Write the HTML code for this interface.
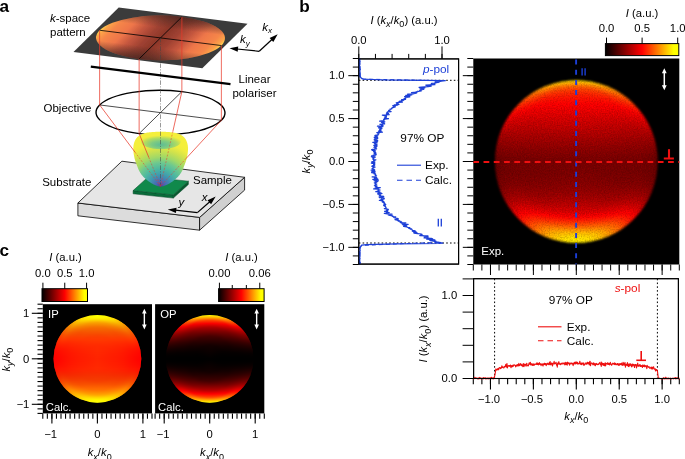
<!DOCTYPE html>
<html lang="en"><head><meta charset="utf-8"><title>Figure</title>
<style>html,body{margin:0;padding:0;background:#fff;}svg{display:block;will-change:transform;}</style></head>
<body>
<svg width="685" height="459" viewBox="0 0 685 459" font-family="Liberation Sans, Arial, Helvetica, sans-serif">
<defs>
<clipPath id="c1"><circle cx="97.40" cy="358.80" r="43.91"/></clipPath>
<linearGradient id="g2"><stop offset="0.000" stop-color="#ffef00"/><stop offset="0.250" stop-color="#fffb00"/><stop offset="0.500" stop-color="#ffff00"/><stop offset="0.750" stop-color="#fffb00"/><stop offset="1.000" stop-color="#ffef00"/></linearGradient>
<linearGradient id="g3"><stop offset="0.000" stop-color="#fff600"/><stop offset="0.250" stop-color="#fffd00"/><stop offset="0.500" stop-color="#ffff00"/><stop offset="0.750" stop-color="#fffd00"/><stop offset="1.000" stop-color="#fff600"/></linearGradient>
<linearGradient id="g4"><stop offset="0.000" stop-color="#ffe900"/><stop offset="0.250" stop-color="#fff900"/><stop offset="0.500" stop-color="#ffff00"/><stop offset="0.750" stop-color="#fff900"/><stop offset="1.000" stop-color="#ffe900"/></linearGradient>
<linearGradient id="g5"><stop offset="0.000" stop-color="#ffdd00"/><stop offset="0.200" stop-color="#fff200"/><stop offset="0.400" stop-color="#fff900"/><stop offset="0.600" stop-color="#fff900"/><stop offset="0.800" stop-color="#fff200"/><stop offset="1.000" stop-color="#ffdd00"/></linearGradient>
<linearGradient id="g6"><stop offset="0.000" stop-color="#ffd200"/><stop offset="0.167" stop-color="#ffe900"/><stop offset="0.333" stop-color="#ffed00"/><stop offset="0.500" stop-color="#ffee00"/><stop offset="0.667" stop-color="#ffed00"/><stop offset="0.833" stop-color="#ffe900"/><stop offset="1.000" stop-color="#ffd200"/></linearGradient>
<linearGradient id="g7"><stop offset="0.000" stop-color="#ffc700"/><stop offset="0.143" stop-color="#ffdf00"/><stop offset="0.286" stop-color="#ffe200"/><stop offset="0.429" stop-color="#ffde00"/><stop offset="0.571" stop-color="#ffde00"/><stop offset="0.714" stop-color="#ffe200"/><stop offset="0.857" stop-color="#ffdf00"/><stop offset="1.000" stop-color="#ffc700"/></linearGradient>
<linearGradient id="g8"><stop offset="0.000" stop-color="#ffbc00"/><stop offset="0.143" stop-color="#ffd600"/><stop offset="0.286" stop-color="#ffd300"/><stop offset="0.429" stop-color="#ffcc00"/><stop offset="0.571" stop-color="#ffcc00"/><stop offset="0.714" stop-color="#ffd300"/><stop offset="0.857" stop-color="#ffd600"/><stop offset="1.000" stop-color="#ffbc00"/></linearGradient>
<linearGradient id="g9"><stop offset="0.000" stop-color="#ffb200"/><stop offset="0.125" stop-color="#ffcb00"/><stop offset="0.250" stop-color="#ffc700"/><stop offset="0.375" stop-color="#ffbc00"/><stop offset="0.500" stop-color="#ffb800"/><stop offset="0.625" stop-color="#ffbc00"/><stop offset="0.750" stop-color="#ffc700"/><stop offset="0.875" stop-color="#ffcb00"/><stop offset="1.000" stop-color="#ffb200"/></linearGradient>
<linearGradient id="g10"><stop offset="0.000" stop-color="#ffa800"/><stop offset="0.125" stop-color="#ffc000"/><stop offset="0.250" stop-color="#ffb800"/><stop offset="0.375" stop-color="#ffab00"/><stop offset="0.500" stop-color="#ffa600"/><stop offset="0.625" stop-color="#ffab00"/><stop offset="0.750" stop-color="#ffb800"/><stop offset="0.875" stop-color="#ffc000"/><stop offset="1.000" stop-color="#ffa800"/></linearGradient>
<linearGradient id="g11"><stop offset="0.000" stop-color="#ff9e00"/><stop offset="0.111" stop-color="#ffb600"/><stop offset="0.222" stop-color="#ffad00"/><stop offset="0.333" stop-color="#ff9e00"/><stop offset="0.444" stop-color="#ff9b00"/><stop offset="0.556" stop-color="#ff9b00"/><stop offset="0.667" stop-color="#ff9e00"/><stop offset="0.778" stop-color="#ffad00"/><stop offset="0.889" stop-color="#ffb600"/><stop offset="1.000" stop-color="#ff9e00"/></linearGradient>
<linearGradient id="g12"><stop offset="0.000" stop-color="#ff9500"/><stop offset="0.111" stop-color="#ffac00"/><stop offset="0.222" stop-color="#ffa000"/><stop offset="0.333" stop-color="#ff9400"/><stop offset="0.444" stop-color="#ff9000"/><stop offset="0.556" stop-color="#ff9000"/><stop offset="0.667" stop-color="#ff9400"/><stop offset="0.778" stop-color="#ffa000"/><stop offset="0.889" stop-color="#ffac00"/><stop offset="1.000" stop-color="#ff9500"/></linearGradient>
<linearGradient id="g13"><stop offset="0.000" stop-color="#ff8c00"/><stop offset="0.100" stop-color="#ffa200"/><stop offset="0.200" stop-color="#ff9700"/><stop offset="0.300" stop-color="#ff8b00"/><stop offset="0.400" stop-color="#ff8600"/><stop offset="0.500" stop-color="#ff8400"/><stop offset="0.600" stop-color="#ff8600"/><stop offset="0.700" stop-color="#ff8b00"/><stop offset="0.800" stop-color="#ff9700"/><stop offset="0.900" stop-color="#ffa200"/><stop offset="1.000" stop-color="#ff8c00"/></linearGradient>
<linearGradient id="g14"><stop offset="0.000" stop-color="#ff8300"/><stop offset="0.100" stop-color="#ff9900"/><stop offset="0.200" stop-color="#ff8b00"/><stop offset="0.300" stop-color="#ff8100"/><stop offset="0.400" stop-color="#ff7b00"/><stop offset="0.500" stop-color="#ff7900"/><stop offset="0.600" stop-color="#ff7b00"/><stop offset="0.700" stop-color="#ff8100"/><stop offset="0.800" stop-color="#ff8b00"/><stop offset="0.900" stop-color="#ff9900"/><stop offset="1.000" stop-color="#ff8300"/></linearGradient>
<linearGradient id="g15"><stop offset="0.000" stop-color="#ff7b00"/><stop offset="0.100" stop-color="#ff9000"/><stop offset="0.200" stop-color="#ff8000"/><stop offset="0.300" stop-color="#ff7800"/><stop offset="0.400" stop-color="#ff7100"/><stop offset="0.500" stop-color="#ff7100"/><stop offset="0.600" stop-color="#ff7100"/><stop offset="0.700" stop-color="#ff7800"/><stop offset="0.800" stop-color="#ff8000"/><stop offset="0.900" stop-color="#ff9000"/><stop offset="1.000" stop-color="#ff7b00"/></linearGradient>
<linearGradient id="g16"><stop offset="0.000" stop-color="#ff7300"/><stop offset="0.091" stop-color="#ff8600"/><stop offset="0.182" stop-color="#ff7900"/><stop offset="0.273" stop-color="#ff7100"/><stop offset="0.364" stop-color="#ff6b00"/><stop offset="0.455" stop-color="#ff6b00"/><stop offset="0.545" stop-color="#ff6b00"/><stop offset="0.636" stop-color="#ff6b00"/><stop offset="0.727" stop-color="#ff7100"/><stop offset="0.818" stop-color="#ff7900"/><stop offset="0.909" stop-color="#ff8600"/><stop offset="1.000" stop-color="#ff7300"/></linearGradient>
<linearGradient id="g17"><stop offset="0.000" stop-color="#ff6b00"/><stop offset="0.091" stop-color="#ff7e00"/><stop offset="0.182" stop-color="#ff6f00"/><stop offset="0.273" stop-color="#ff6800"/><stop offset="0.364" stop-color="#ff6500"/><stop offset="0.455" stop-color="#ff6600"/><stop offset="0.545" stop-color="#ff6600"/><stop offset="0.636" stop-color="#ff6500"/><stop offset="0.727" stop-color="#ff6800"/><stop offset="0.818" stop-color="#ff6f00"/><stop offset="0.909" stop-color="#ff7e00"/><stop offset="1.000" stop-color="#ff6b00"/></linearGradient>
<linearGradient id="g18"><stop offset="0.000" stop-color="#ff6300"/><stop offset="0.091" stop-color="#ff7600"/><stop offset="0.182" stop-color="#ff6800"/><stop offset="0.273" stop-color="#ff6000"/><stop offset="0.364" stop-color="#ff6000"/><stop offset="0.455" stop-color="#ff6000"/><stop offset="0.545" stop-color="#ff6000"/><stop offset="0.636" stop-color="#ff6000"/><stop offset="0.727" stop-color="#ff6000"/><stop offset="0.818" stop-color="#ff6800"/><stop offset="0.909" stop-color="#ff7600"/><stop offset="1.000" stop-color="#ff6300"/></linearGradient>
<linearGradient id="g19"><stop offset="0.000" stop-color="#ff5c00"/><stop offset="0.091" stop-color="#ff6e00"/><stop offset="0.182" stop-color="#ff6000"/><stop offset="0.273" stop-color="#ff5900"/><stop offset="0.364" stop-color="#ff5b00"/><stop offset="0.455" stop-color="#ff5a00"/><stop offset="0.545" stop-color="#ff5a00"/><stop offset="0.636" stop-color="#ff5b00"/><stop offset="0.727" stop-color="#ff5900"/><stop offset="0.818" stop-color="#ff6000"/><stop offset="0.909" stop-color="#ff6e00"/><stop offset="1.000" stop-color="#ff5c00"/></linearGradient>
<linearGradient id="g20"><stop offset="0.000" stop-color="#ff5500"/><stop offset="0.083" stop-color="#ff6600"/><stop offset="0.167" stop-color="#ff5a00"/><stop offset="0.250" stop-color="#ff5300"/><stop offset="0.333" stop-color="#ff5500"/><stop offset="0.417" stop-color="#ff5500"/><stop offset="0.500" stop-color="#ff5500"/><stop offset="0.583" stop-color="#ff5500"/><stop offset="0.667" stop-color="#ff5500"/><stop offset="0.750" stop-color="#ff5300"/><stop offset="0.833" stop-color="#ff5a00"/><stop offset="0.917" stop-color="#ff6600"/><stop offset="1.000" stop-color="#ff5500"/></linearGradient>
<linearGradient id="g21"><stop offset="0.000" stop-color="#ff4f00"/><stop offset="0.083" stop-color="#ff5f00"/><stop offset="0.167" stop-color="#ff5400"/><stop offset="0.250" stop-color="#ff4f00"/><stop offset="0.333" stop-color="#ff5000"/><stop offset="0.417" stop-color="#ff5000"/><stop offset="0.500" stop-color="#ff4f00"/><stop offset="0.583" stop-color="#ff5000"/><stop offset="0.667" stop-color="#ff5000"/><stop offset="0.750" stop-color="#ff4f00"/><stop offset="0.833" stop-color="#ff5400"/><stop offset="0.917" stop-color="#ff5f00"/><stop offset="1.000" stop-color="#ff4f00"/></linearGradient>
<linearGradient id="g22"><stop offset="0.000" stop-color="#ff4800"/><stop offset="0.083" stop-color="#ff5700"/><stop offset="0.167" stop-color="#ff4e00"/><stop offset="0.250" stop-color="#ff4a00"/><stop offset="0.333" stop-color="#ff4c00"/><stop offset="0.417" stop-color="#ff4a00"/><stop offset="0.500" stop-color="#ff4900"/><stop offset="0.583" stop-color="#ff4a00"/><stop offset="0.667" stop-color="#ff4c00"/><stop offset="0.750" stop-color="#ff4a00"/><stop offset="0.833" stop-color="#ff4e00"/><stop offset="0.917" stop-color="#ff5700"/><stop offset="1.000" stop-color="#ff4800"/></linearGradient>
<linearGradient id="g23"><stop offset="0.000" stop-color="#ff4200"/><stop offset="0.083" stop-color="#ff5000"/><stop offset="0.167" stop-color="#ff4800"/><stop offset="0.250" stop-color="#ff4600"/><stop offset="0.333" stop-color="#ff4700"/><stop offset="0.417" stop-color="#ff4500"/><stop offset="0.500" stop-color="#ff4300"/><stop offset="0.583" stop-color="#ff4500"/><stop offset="0.667" stop-color="#ff4700"/><stop offset="0.750" stop-color="#ff4600"/><stop offset="0.833" stop-color="#ff4800"/><stop offset="0.917" stop-color="#ff5000"/><stop offset="1.000" stop-color="#ff4200"/></linearGradient>
<linearGradient id="g24"><stop offset="0.000" stop-color="#ff3c00"/><stop offset="0.077" stop-color="#ff4a00"/><stop offset="0.154" stop-color="#ff4300"/><stop offset="0.231" stop-color="#ff4100"/><stop offset="0.308" stop-color="#ff4300"/><stop offset="0.385" stop-color="#ff4100"/><stop offset="0.462" stop-color="#ff4000"/><stop offset="0.538" stop-color="#ff4000"/><stop offset="0.615" stop-color="#ff4100"/><stop offset="0.692" stop-color="#ff4300"/><stop offset="0.769" stop-color="#ff4100"/><stop offset="0.846" stop-color="#ff4300"/><stop offset="0.923" stop-color="#ff4a00"/><stop offset="1.000" stop-color="#ff3c00"/></linearGradient>
<linearGradient id="g25"><stop offset="0.000" stop-color="#ff3700"/><stop offset="0.077" stop-color="#ff4400"/><stop offset="0.154" stop-color="#ff3e00"/><stop offset="0.231" stop-color="#ff3d00"/><stop offset="0.308" stop-color="#ff3e00"/><stop offset="0.385" stop-color="#ff3c00"/><stop offset="0.462" stop-color="#ff3d00"/><stop offset="0.538" stop-color="#ff3d00"/><stop offset="0.615" stop-color="#ff3c00"/><stop offset="0.692" stop-color="#ff3e00"/><stop offset="0.769" stop-color="#ff3d00"/><stop offset="0.846" stop-color="#ff3e00"/><stop offset="0.923" stop-color="#ff4400"/><stop offset="1.000" stop-color="#ff3700"/></linearGradient>
<linearGradient id="g26"><stop offset="0.000" stop-color="#ff3200"/><stop offset="0.077" stop-color="#ff3e00"/><stop offset="0.154" stop-color="#ff3900"/><stop offset="0.231" stop-color="#ff3900"/><stop offset="0.308" stop-color="#ff3a00"/><stop offset="0.385" stop-color="#ff3900"/><stop offset="0.462" stop-color="#ff3b00"/><stop offset="0.538" stop-color="#ff3b00"/><stop offset="0.615" stop-color="#ff3900"/><stop offset="0.692" stop-color="#ff3a00"/><stop offset="0.769" stop-color="#ff3900"/><stop offset="0.846" stop-color="#ff3900"/><stop offset="0.923" stop-color="#ff3e00"/><stop offset="1.000" stop-color="#ff3200"/></linearGradient>
<linearGradient id="g27"><stop offset="0.000" stop-color="#ff2d00"/><stop offset="0.077" stop-color="#ff3800"/><stop offset="0.154" stop-color="#ff3500"/><stop offset="0.231" stop-color="#ff3600"/><stop offset="0.308" stop-color="#ff3700"/><stop offset="0.385" stop-color="#ff3700"/><stop offset="0.462" stop-color="#ff3800"/><stop offset="0.538" stop-color="#ff3800"/><stop offset="0.615" stop-color="#ff3700"/><stop offset="0.692" stop-color="#ff3700"/><stop offset="0.769" stop-color="#ff3600"/><stop offset="0.846" stop-color="#ff3500"/><stop offset="0.923" stop-color="#ff3800"/><stop offset="1.000" stop-color="#ff2d00"/></linearGradient>
<linearGradient id="g28"><stop offset="0.000" stop-color="#ff2800"/><stop offset="0.077" stop-color="#ff3300"/><stop offset="0.154" stop-color="#ff3000"/><stop offset="0.231" stop-color="#ff3200"/><stop offset="0.308" stop-color="#ff3300"/><stop offset="0.385" stop-color="#ff3500"/><stop offset="0.462" stop-color="#ff3600"/><stop offset="0.538" stop-color="#ff3600"/><stop offset="0.615" stop-color="#ff3500"/><stop offset="0.692" stop-color="#ff3300"/><stop offset="0.769" stop-color="#ff3200"/><stop offset="0.846" stop-color="#ff3000"/><stop offset="0.923" stop-color="#ff3300"/><stop offset="1.000" stop-color="#ff2800"/></linearGradient>
<linearGradient id="g29"><stop offset="0.000" stop-color="#ff2300"/><stop offset="0.077" stop-color="#ff2e00"/><stop offset="0.154" stop-color="#ff2c00"/><stop offset="0.231" stop-color="#ff2f00"/><stop offset="0.308" stop-color="#ff3000"/><stop offset="0.385" stop-color="#ff3200"/><stop offset="0.462" stop-color="#ff3300"/><stop offset="0.538" stop-color="#ff3300"/><stop offset="0.615" stop-color="#ff3200"/><stop offset="0.692" stop-color="#ff3000"/><stop offset="0.769" stop-color="#ff2f00"/><stop offset="0.846" stop-color="#ff2c00"/><stop offset="0.923" stop-color="#ff2e00"/><stop offset="1.000" stop-color="#ff2300"/></linearGradient>
<linearGradient id="g30"><stop offset="0.000" stop-color="#ff1f00"/><stop offset="0.077" stop-color="#ff2900"/><stop offset="0.154" stop-color="#ff2900"/><stop offset="0.231" stop-color="#ff2c00"/><stop offset="0.308" stop-color="#ff2d00"/><stop offset="0.385" stop-color="#ff3000"/><stop offset="0.462" stop-color="#ff3100"/><stop offset="0.538" stop-color="#ff3100"/><stop offset="0.615" stop-color="#ff3000"/><stop offset="0.692" stop-color="#ff2d00"/><stop offset="0.769" stop-color="#ff2c00"/><stop offset="0.846" stop-color="#ff2900"/><stop offset="0.923" stop-color="#ff2900"/><stop offset="1.000" stop-color="#ff1f00"/></linearGradient>
<linearGradient id="g31"><stop offset="0.000" stop-color="#ff1b00"/><stop offset="0.071" stop-color="#ff2500"/><stop offset="0.143" stop-color="#ff2500"/><stop offset="0.214" stop-color="#ff2800"/><stop offset="0.286" stop-color="#ff2b00"/><stop offset="0.357" stop-color="#ff2d00"/><stop offset="0.429" stop-color="#ff2e00"/><stop offset="0.500" stop-color="#ff2e00"/><stop offset="0.571" stop-color="#ff2e00"/><stop offset="0.643" stop-color="#ff2d00"/><stop offset="0.714" stop-color="#ff2b00"/><stop offset="0.786" stop-color="#ff2800"/><stop offset="0.857" stop-color="#ff2500"/><stop offset="0.929" stop-color="#ff2500"/><stop offset="1.000" stop-color="#ff1b00"/></linearGradient>
<linearGradient id="g32"><stop offset="0.000" stop-color="#ff1800"/><stop offset="0.071" stop-color="#ff2100"/><stop offset="0.143" stop-color="#ff2200"/><stop offset="0.214" stop-color="#ff2600"/><stop offset="0.286" stop-color="#ff2800"/><stop offset="0.357" stop-color="#ff2b00"/><stop offset="0.429" stop-color="#ff2c00"/><stop offset="0.500" stop-color="#ff2c00"/><stop offset="0.571" stop-color="#ff2c00"/><stop offset="0.643" stop-color="#ff2b00"/><stop offset="0.714" stop-color="#ff2800"/><stop offset="0.786" stop-color="#ff2600"/><stop offset="0.857" stop-color="#ff2200"/><stop offset="0.929" stop-color="#ff2100"/><stop offset="1.000" stop-color="#ff1800"/></linearGradient>
<linearGradient id="g33"><stop offset="0.000" stop-color="#ff1400"/><stop offset="0.071" stop-color="#ff1d00"/><stop offset="0.143" stop-color="#ff1f00"/><stop offset="0.214" stop-color="#ff2400"/><stop offset="0.286" stop-color="#ff2600"/><stop offset="0.357" stop-color="#ff2900"/><stop offset="0.429" stop-color="#ff2a00"/><stop offset="0.500" stop-color="#ff2b00"/><stop offset="0.571" stop-color="#ff2a00"/><stop offset="0.643" stop-color="#ff2900"/><stop offset="0.714" stop-color="#ff2600"/><stop offset="0.786" stop-color="#ff2400"/><stop offset="0.857" stop-color="#ff1f00"/><stop offset="0.929" stop-color="#ff1d00"/><stop offset="1.000" stop-color="#ff1400"/></linearGradient>
<linearGradient id="g34"><stop offset="0.000" stop-color="#ff1100"/><stop offset="0.071" stop-color="#ff1900"/><stop offset="0.143" stop-color="#ff1d00"/><stop offset="0.214" stop-color="#ff2100"/><stop offset="0.286" stop-color="#ff2500"/><stop offset="0.357" stop-color="#ff2700"/><stop offset="0.429" stop-color="#ff2800"/><stop offset="0.500" stop-color="#ff2a00"/><stop offset="0.571" stop-color="#ff2800"/><stop offset="0.643" stop-color="#ff2700"/><stop offset="0.714" stop-color="#ff2500"/><stop offset="0.786" stop-color="#ff2100"/><stop offset="0.857" stop-color="#ff1d00"/><stop offset="0.929" stop-color="#ff1900"/><stop offset="1.000" stop-color="#ff1100"/></linearGradient>
<linearGradient id="g35"><stop offset="0.000" stop-color="#ff0e00"/><stop offset="0.071" stop-color="#ff1600"/><stop offset="0.143" stop-color="#ff1a00"/><stop offset="0.214" stop-color="#ff1f00"/><stop offset="0.286" stop-color="#ff2300"/><stop offset="0.357" stop-color="#ff2600"/><stop offset="0.429" stop-color="#ff2700"/><stop offset="0.500" stop-color="#ff2a00"/><stop offset="0.571" stop-color="#ff2700"/><stop offset="0.643" stop-color="#ff2600"/><stop offset="0.714" stop-color="#ff2300"/><stop offset="0.786" stop-color="#ff1f00"/><stop offset="0.857" stop-color="#ff1a00"/><stop offset="0.929" stop-color="#ff1600"/><stop offset="1.000" stop-color="#ff0e00"/></linearGradient>
<linearGradient id="g36"><stop offset="0.000" stop-color="#ff0c00"/><stop offset="0.071" stop-color="#ff1400"/><stop offset="0.143" stop-color="#ff1800"/><stop offset="0.214" stop-color="#ff1e00"/><stop offset="0.286" stop-color="#ff2200"/><stop offset="0.357" stop-color="#ff2400"/><stop offset="0.429" stop-color="#ff2700"/><stop offset="0.500" stop-color="#ff2900"/><stop offset="0.571" stop-color="#ff2700"/><stop offset="0.643" stop-color="#ff2400"/><stop offset="0.714" stop-color="#ff2200"/><stop offset="0.786" stop-color="#ff1e00"/><stop offset="0.857" stop-color="#ff1800"/><stop offset="0.929" stop-color="#ff1400"/><stop offset="1.000" stop-color="#ff0c00"/></linearGradient>
<linearGradient id="g37"><stop offset="0.000" stop-color="#ff0900"/><stop offset="0.071" stop-color="#ff1100"/><stop offset="0.143" stop-color="#ff1600"/><stop offset="0.214" stop-color="#ff1c00"/><stop offset="0.286" stop-color="#ff2000"/><stop offset="0.357" stop-color="#ff2300"/><stop offset="0.429" stop-color="#ff2600"/><stop offset="0.500" stop-color="#ff2900"/><stop offset="0.571" stop-color="#ff2600"/><stop offset="0.643" stop-color="#ff2300"/><stop offset="0.714" stop-color="#ff2000"/><stop offset="0.786" stop-color="#ff1c00"/><stop offset="0.857" stop-color="#ff1600"/><stop offset="0.929" stop-color="#ff1100"/><stop offset="1.000" stop-color="#ff0900"/></linearGradient>
<linearGradient id="g38"><stop offset="0.000" stop-color="#ff0700"/><stop offset="0.071" stop-color="#ff0f00"/><stop offset="0.143" stop-color="#ff1400"/><stop offset="0.214" stop-color="#ff1b00"/><stop offset="0.286" stop-color="#ff1f00"/><stop offset="0.357" stop-color="#ff2200"/><stop offset="0.429" stop-color="#ff2500"/><stop offset="0.500" stop-color="#ff2800"/><stop offset="0.571" stop-color="#ff2500"/><stop offset="0.643" stop-color="#ff2200"/><stop offset="0.714" stop-color="#ff1f00"/><stop offset="0.786" stop-color="#ff1b00"/><stop offset="0.857" stop-color="#ff1400"/><stop offset="0.929" stop-color="#ff0f00"/><stop offset="1.000" stop-color="#ff0700"/></linearGradient>
<linearGradient id="g39"><stop offset="0.000" stop-color="#ff0500"/><stop offset="0.071" stop-color="#ff0d00"/><stop offset="0.143" stop-color="#ff1300"/><stop offset="0.214" stop-color="#ff1a00"/><stop offset="0.286" stop-color="#ff1e00"/><stop offset="0.357" stop-color="#ff2100"/><stop offset="0.429" stop-color="#ff2400"/><stop offset="0.500" stop-color="#ff2700"/><stop offset="0.571" stop-color="#ff2400"/><stop offset="0.643" stop-color="#ff2100"/><stop offset="0.714" stop-color="#ff1e00"/><stop offset="0.786" stop-color="#ff1a00"/><stop offset="0.857" stop-color="#ff1300"/><stop offset="0.929" stop-color="#ff0d00"/><stop offset="1.000" stop-color="#ff0500"/></linearGradient>
<linearGradient id="g40"><stop offset="0.000" stop-color="#ff0400"/><stop offset="0.071" stop-color="#ff0b00"/><stop offset="0.143" stop-color="#ff1200"/><stop offset="0.214" stop-color="#ff1800"/><stop offset="0.286" stop-color="#ff1d00"/><stop offset="0.357" stop-color="#ff2000"/><stop offset="0.429" stop-color="#ff2400"/><stop offset="0.500" stop-color="#ff2700"/><stop offset="0.571" stop-color="#ff2400"/><stop offset="0.643" stop-color="#ff2000"/><stop offset="0.714" stop-color="#ff1d00"/><stop offset="0.786" stop-color="#ff1800"/><stop offset="0.857" stop-color="#ff1200"/><stop offset="0.929" stop-color="#ff0b00"/><stop offset="1.000" stop-color="#ff0400"/></linearGradient>
<linearGradient id="g41"><stop offset="0.000" stop-color="#ff0300"/><stop offset="0.071" stop-color="#ff0a00"/><stop offset="0.143" stop-color="#ff1100"/><stop offset="0.214" stop-color="#ff1800"/><stop offset="0.286" stop-color="#ff1d00"/><stop offset="0.357" stop-color="#ff1f00"/><stop offset="0.429" stop-color="#ff2300"/><stop offset="0.500" stop-color="#ff2600"/><stop offset="0.571" stop-color="#ff2300"/><stop offset="0.643" stop-color="#ff1f00"/><stop offset="0.714" stop-color="#ff1d00"/><stop offset="0.786" stop-color="#ff1800"/><stop offset="0.857" stop-color="#ff1100"/><stop offset="0.929" stop-color="#ff0a00"/><stop offset="1.000" stop-color="#ff0300"/></linearGradient>
<linearGradient id="g42"><stop offset="0.000" stop-color="#ff0200"/><stop offset="0.071" stop-color="#ff0900"/><stop offset="0.143" stop-color="#ff1000"/><stop offset="0.214" stop-color="#ff1700"/><stop offset="0.286" stop-color="#ff1c00"/><stop offset="0.357" stop-color="#ff1f00"/><stop offset="0.429" stop-color="#ff2200"/><stop offset="0.500" stop-color="#ff2600"/><stop offset="0.571" stop-color="#ff2200"/><stop offset="0.643" stop-color="#ff1f00"/><stop offset="0.714" stop-color="#ff1c00"/><stop offset="0.786" stop-color="#ff1700"/><stop offset="0.857" stop-color="#ff1000"/><stop offset="0.929" stop-color="#ff0900"/><stop offset="1.000" stop-color="#ff0200"/></linearGradient>
<linearGradient id="g43"><stop offset="0.000" stop-color="#ff0100"/><stop offset="0.071" stop-color="#ff0800"/><stop offset="0.143" stop-color="#ff0f00"/><stop offset="0.214" stop-color="#ff1700"/><stop offset="0.286" stop-color="#ff1b00"/><stop offset="0.357" stop-color="#ff1e00"/><stop offset="0.429" stop-color="#ff2200"/><stop offset="0.500" stop-color="#ff2500"/><stop offset="0.571" stop-color="#ff2200"/><stop offset="0.643" stop-color="#ff1e00"/><stop offset="0.714" stop-color="#ff1b00"/><stop offset="0.786" stop-color="#ff1700"/><stop offset="0.857" stop-color="#ff0f00"/><stop offset="0.929" stop-color="#ff0800"/><stop offset="1.000" stop-color="#ff0100"/></linearGradient>
<linearGradient id="g44"><stop offset="0.000" stop-color="#ff0000"/><stop offset="0.071" stop-color="#ff0700"/><stop offset="0.143" stop-color="#ff0f00"/><stop offset="0.214" stop-color="#ff1600"/><stop offset="0.286" stop-color="#ff1b00"/><stop offset="0.357" stop-color="#ff1e00"/><stop offset="0.429" stop-color="#ff2100"/><stop offset="0.500" stop-color="#ff2500"/><stop offset="0.571" stop-color="#ff2100"/><stop offset="0.643" stop-color="#ff1e00"/><stop offset="0.714" stop-color="#ff1b00"/><stop offset="0.786" stop-color="#ff1600"/><stop offset="0.857" stop-color="#ff0f00"/><stop offset="0.929" stop-color="#ff0700"/><stop offset="1.000" stop-color="#ff0000"/></linearGradient>
<linearGradient id="g45"><stop offset="0.000" stop-color="#ff0000"/><stop offset="0.071" stop-color="#ff0700"/><stop offset="0.143" stop-color="#ff0f00"/><stop offset="0.214" stop-color="#ff1600"/><stop offset="0.286" stop-color="#ff1b00"/><stop offset="0.357" stop-color="#ff1e00"/><stop offset="0.429" stop-color="#ff2100"/><stop offset="0.500" stop-color="#ff2400"/><stop offset="0.571" stop-color="#ff2100"/><stop offset="0.643" stop-color="#ff1e00"/><stop offset="0.714" stop-color="#ff1b00"/><stop offset="0.786" stop-color="#ff1600"/><stop offset="0.857" stop-color="#ff0f00"/><stop offset="0.929" stop-color="#ff0700"/><stop offset="1.000" stop-color="#ff0000"/></linearGradient>
<linearGradient id="g46"><stop offset="0.000" stop-color="#ff0000"/><stop offset="0.071" stop-color="#ff0700"/><stop offset="0.143" stop-color="#ff0f00"/><stop offset="0.214" stop-color="#ff1600"/><stop offset="0.286" stop-color="#ff1b00"/><stop offset="0.357" stop-color="#ff1e00"/><stop offset="0.429" stop-color="#ff2100"/><stop offset="0.500" stop-color="#ff2400"/><stop offset="0.571" stop-color="#ff2100"/><stop offset="0.643" stop-color="#ff1e00"/><stop offset="0.714" stop-color="#ff1b00"/><stop offset="0.786" stop-color="#ff1600"/><stop offset="0.857" stop-color="#ff0f00"/><stop offset="0.929" stop-color="#ff0700"/><stop offset="1.000" stop-color="#ff0000"/></linearGradient>
<linearGradient id="g47"><stop offset="0.000" stop-color="#ff0000"/><stop offset="0.071" stop-color="#ff0700"/><stop offset="0.143" stop-color="#ff0f00"/><stop offset="0.214" stop-color="#ff1600"/><stop offset="0.286" stop-color="#ff1b00"/><stop offset="0.357" stop-color="#ff1e00"/><stop offset="0.429" stop-color="#ff2100"/><stop offset="0.500" stop-color="#ff2500"/><stop offset="0.571" stop-color="#ff2100"/><stop offset="0.643" stop-color="#ff1e00"/><stop offset="0.714" stop-color="#ff1b00"/><stop offset="0.786" stop-color="#ff1600"/><stop offset="0.857" stop-color="#ff0f00"/><stop offset="0.929" stop-color="#ff0700"/><stop offset="1.000" stop-color="#ff0000"/></linearGradient>
<linearGradient id="g48"><stop offset="0.000" stop-color="#ff0100"/><stop offset="0.071" stop-color="#ff0800"/><stop offset="0.143" stop-color="#ff0f00"/><stop offset="0.214" stop-color="#ff1700"/><stop offset="0.286" stop-color="#ff1b00"/><stop offset="0.357" stop-color="#ff1e00"/><stop offset="0.429" stop-color="#ff2200"/><stop offset="0.500" stop-color="#ff2500"/><stop offset="0.571" stop-color="#ff2200"/><stop offset="0.643" stop-color="#ff1e00"/><stop offset="0.714" stop-color="#ff1b00"/><stop offset="0.786" stop-color="#ff1700"/><stop offset="0.857" stop-color="#ff0f00"/><stop offset="0.929" stop-color="#ff0800"/><stop offset="1.000" stop-color="#ff0100"/></linearGradient>
<linearGradient id="g49"><stop offset="0.000" stop-color="#ff0200"/><stop offset="0.071" stop-color="#ff0900"/><stop offset="0.143" stop-color="#ff1000"/><stop offset="0.214" stop-color="#ff1700"/><stop offset="0.286" stop-color="#ff1c00"/><stop offset="0.357" stop-color="#ff1f00"/><stop offset="0.429" stop-color="#ff2200"/><stop offset="0.500" stop-color="#ff2600"/><stop offset="0.571" stop-color="#ff2200"/><stop offset="0.643" stop-color="#ff1f00"/><stop offset="0.714" stop-color="#ff1c00"/><stop offset="0.786" stop-color="#ff1700"/><stop offset="0.857" stop-color="#ff1000"/><stop offset="0.929" stop-color="#ff0900"/><stop offset="1.000" stop-color="#ff0200"/></linearGradient>
<linearGradient id="g50"><stop offset="0.000" stop-color="#ff0300"/><stop offset="0.071" stop-color="#ff0a00"/><stop offset="0.143" stop-color="#ff1100"/><stop offset="0.214" stop-color="#ff1800"/><stop offset="0.286" stop-color="#ff1d00"/><stop offset="0.357" stop-color="#ff1f00"/><stop offset="0.429" stop-color="#ff2300"/><stop offset="0.500" stop-color="#ff2600"/><stop offset="0.571" stop-color="#ff2300"/><stop offset="0.643" stop-color="#ff1f00"/><stop offset="0.714" stop-color="#ff1d00"/><stop offset="0.786" stop-color="#ff1800"/><stop offset="0.857" stop-color="#ff1100"/><stop offset="0.929" stop-color="#ff0a00"/><stop offset="1.000" stop-color="#ff0300"/></linearGradient>
<linearGradient id="g51"><stop offset="0.000" stop-color="#ff0400"/><stop offset="0.071" stop-color="#ff0b00"/><stop offset="0.143" stop-color="#ff1200"/><stop offset="0.214" stop-color="#ff1800"/><stop offset="0.286" stop-color="#ff1d00"/><stop offset="0.357" stop-color="#ff2000"/><stop offset="0.429" stop-color="#ff2400"/><stop offset="0.500" stop-color="#ff2700"/><stop offset="0.571" stop-color="#ff2400"/><stop offset="0.643" stop-color="#ff2000"/><stop offset="0.714" stop-color="#ff1d00"/><stop offset="0.786" stop-color="#ff1800"/><stop offset="0.857" stop-color="#ff1200"/><stop offset="0.929" stop-color="#ff0b00"/><stop offset="1.000" stop-color="#ff0400"/></linearGradient>
<linearGradient id="g52"><stop offset="0.000" stop-color="#ff0500"/><stop offset="0.071" stop-color="#ff0d00"/><stop offset="0.143" stop-color="#ff1300"/><stop offset="0.214" stop-color="#ff1a00"/><stop offset="0.286" stop-color="#ff1e00"/><stop offset="0.357" stop-color="#ff2100"/><stop offset="0.429" stop-color="#ff2400"/><stop offset="0.500" stop-color="#ff2700"/><stop offset="0.571" stop-color="#ff2400"/><stop offset="0.643" stop-color="#ff2100"/><stop offset="0.714" stop-color="#ff1e00"/><stop offset="0.786" stop-color="#ff1a00"/><stop offset="0.857" stop-color="#ff1300"/><stop offset="0.929" stop-color="#ff0d00"/><stop offset="1.000" stop-color="#ff0500"/></linearGradient>
<linearGradient id="g53"><stop offset="0.000" stop-color="#ff0700"/><stop offset="0.071" stop-color="#ff0f00"/><stop offset="0.143" stop-color="#ff1400"/><stop offset="0.214" stop-color="#ff1b00"/><stop offset="0.286" stop-color="#ff1f00"/><stop offset="0.357" stop-color="#ff2200"/><stop offset="0.429" stop-color="#ff2500"/><stop offset="0.500" stop-color="#ff2800"/><stop offset="0.571" stop-color="#ff2500"/><stop offset="0.643" stop-color="#ff2200"/><stop offset="0.714" stop-color="#ff1f00"/><stop offset="0.786" stop-color="#ff1b00"/><stop offset="0.857" stop-color="#ff1400"/><stop offset="0.929" stop-color="#ff0f00"/><stop offset="1.000" stop-color="#ff0700"/></linearGradient>
<linearGradient id="g54"><stop offset="0.000" stop-color="#ff0900"/><stop offset="0.071" stop-color="#ff1100"/><stop offset="0.143" stop-color="#ff1600"/><stop offset="0.214" stop-color="#ff1c00"/><stop offset="0.286" stop-color="#ff2000"/><stop offset="0.357" stop-color="#ff2300"/><stop offset="0.429" stop-color="#ff2600"/><stop offset="0.500" stop-color="#ff2900"/><stop offset="0.571" stop-color="#ff2600"/><stop offset="0.643" stop-color="#ff2300"/><stop offset="0.714" stop-color="#ff2000"/><stop offset="0.786" stop-color="#ff1c00"/><stop offset="0.857" stop-color="#ff1600"/><stop offset="0.929" stop-color="#ff1100"/><stop offset="1.000" stop-color="#ff0900"/></linearGradient>
<linearGradient id="g55"><stop offset="0.000" stop-color="#ff0c00"/><stop offset="0.071" stop-color="#ff1400"/><stop offset="0.143" stop-color="#ff1800"/><stop offset="0.214" stop-color="#ff1e00"/><stop offset="0.286" stop-color="#ff2200"/><stop offset="0.357" stop-color="#ff2400"/><stop offset="0.429" stop-color="#ff2700"/><stop offset="0.500" stop-color="#ff2900"/><stop offset="0.571" stop-color="#ff2700"/><stop offset="0.643" stop-color="#ff2400"/><stop offset="0.714" stop-color="#ff2200"/><stop offset="0.786" stop-color="#ff1e00"/><stop offset="0.857" stop-color="#ff1800"/><stop offset="0.929" stop-color="#ff1400"/><stop offset="1.000" stop-color="#ff0c00"/></linearGradient>
<linearGradient id="g56"><stop offset="0.000" stop-color="#ff0e00"/><stop offset="0.071" stop-color="#ff1600"/><stop offset="0.143" stop-color="#ff1a00"/><stop offset="0.214" stop-color="#ff1f00"/><stop offset="0.286" stop-color="#ff2300"/><stop offset="0.357" stop-color="#ff2600"/><stop offset="0.429" stop-color="#ff2700"/><stop offset="0.500" stop-color="#ff2a00"/><stop offset="0.571" stop-color="#ff2700"/><stop offset="0.643" stop-color="#ff2600"/><stop offset="0.714" stop-color="#ff2300"/><stop offset="0.786" stop-color="#ff1f00"/><stop offset="0.857" stop-color="#ff1a00"/><stop offset="0.929" stop-color="#ff1600"/><stop offset="1.000" stop-color="#ff0e00"/></linearGradient>
<linearGradient id="g57"><stop offset="0.000" stop-color="#ff1100"/><stop offset="0.071" stop-color="#ff1900"/><stop offset="0.143" stop-color="#ff1d00"/><stop offset="0.214" stop-color="#ff2100"/><stop offset="0.286" stop-color="#ff2500"/><stop offset="0.357" stop-color="#ff2700"/><stop offset="0.429" stop-color="#ff2800"/><stop offset="0.500" stop-color="#ff2a00"/><stop offset="0.571" stop-color="#ff2800"/><stop offset="0.643" stop-color="#ff2700"/><stop offset="0.714" stop-color="#ff2500"/><stop offset="0.786" stop-color="#ff2100"/><stop offset="0.857" stop-color="#ff1d00"/><stop offset="0.929" stop-color="#ff1900"/><stop offset="1.000" stop-color="#ff1100"/></linearGradient>
<linearGradient id="g58"><stop offset="0.000" stop-color="#ff1400"/><stop offset="0.071" stop-color="#ff1d00"/><stop offset="0.143" stop-color="#ff1f00"/><stop offset="0.214" stop-color="#ff2400"/><stop offset="0.286" stop-color="#ff2600"/><stop offset="0.357" stop-color="#ff2900"/><stop offset="0.429" stop-color="#ff2a00"/><stop offset="0.500" stop-color="#ff2b00"/><stop offset="0.571" stop-color="#ff2a00"/><stop offset="0.643" stop-color="#ff2900"/><stop offset="0.714" stop-color="#ff2600"/><stop offset="0.786" stop-color="#ff2400"/><stop offset="0.857" stop-color="#ff1f00"/><stop offset="0.929" stop-color="#ff1d00"/><stop offset="1.000" stop-color="#ff1400"/></linearGradient>
<linearGradient id="g59"><stop offset="0.000" stop-color="#ff1800"/><stop offset="0.071" stop-color="#ff2100"/><stop offset="0.143" stop-color="#ff2200"/><stop offset="0.214" stop-color="#ff2600"/><stop offset="0.286" stop-color="#ff2800"/><stop offset="0.357" stop-color="#ff2b00"/><stop offset="0.429" stop-color="#ff2c00"/><stop offset="0.500" stop-color="#ff2c00"/><stop offset="0.571" stop-color="#ff2c00"/><stop offset="0.643" stop-color="#ff2b00"/><stop offset="0.714" stop-color="#ff2800"/><stop offset="0.786" stop-color="#ff2600"/><stop offset="0.857" stop-color="#ff2200"/><stop offset="0.929" stop-color="#ff2100"/><stop offset="1.000" stop-color="#ff1800"/></linearGradient>
<linearGradient id="g60"><stop offset="0.000" stop-color="#ff1b00"/><stop offset="0.071" stop-color="#ff2500"/><stop offset="0.143" stop-color="#ff2500"/><stop offset="0.214" stop-color="#ff2800"/><stop offset="0.286" stop-color="#ff2b00"/><stop offset="0.357" stop-color="#ff2d00"/><stop offset="0.429" stop-color="#ff2e00"/><stop offset="0.500" stop-color="#ff2e00"/><stop offset="0.571" stop-color="#ff2e00"/><stop offset="0.643" stop-color="#ff2d00"/><stop offset="0.714" stop-color="#ff2b00"/><stop offset="0.786" stop-color="#ff2800"/><stop offset="0.857" stop-color="#ff2500"/><stop offset="0.929" stop-color="#ff2500"/><stop offset="1.000" stop-color="#ff1b00"/></linearGradient>
<linearGradient id="g61"><stop offset="0.000" stop-color="#ff1f00"/><stop offset="0.077" stop-color="#ff2900"/><stop offset="0.154" stop-color="#ff2900"/><stop offset="0.231" stop-color="#ff2c00"/><stop offset="0.308" stop-color="#ff2d00"/><stop offset="0.385" stop-color="#ff3000"/><stop offset="0.462" stop-color="#ff3100"/><stop offset="0.538" stop-color="#ff3100"/><stop offset="0.615" stop-color="#ff3000"/><stop offset="0.692" stop-color="#ff2d00"/><stop offset="0.769" stop-color="#ff2c00"/><stop offset="0.846" stop-color="#ff2900"/><stop offset="0.923" stop-color="#ff2900"/><stop offset="1.000" stop-color="#ff1f00"/></linearGradient>
<linearGradient id="g62"><stop offset="0.000" stop-color="#ff2300"/><stop offset="0.077" stop-color="#ff2e00"/><stop offset="0.154" stop-color="#ff2c00"/><stop offset="0.231" stop-color="#ff2f00"/><stop offset="0.308" stop-color="#ff3000"/><stop offset="0.385" stop-color="#ff3200"/><stop offset="0.462" stop-color="#ff3300"/><stop offset="0.538" stop-color="#ff3300"/><stop offset="0.615" stop-color="#ff3200"/><stop offset="0.692" stop-color="#ff3000"/><stop offset="0.769" stop-color="#ff2f00"/><stop offset="0.846" stop-color="#ff2c00"/><stop offset="0.923" stop-color="#ff2e00"/><stop offset="1.000" stop-color="#ff2300"/></linearGradient>
<linearGradient id="g63"><stop offset="0.000" stop-color="#ff2800"/><stop offset="0.077" stop-color="#ff3300"/><stop offset="0.154" stop-color="#ff3000"/><stop offset="0.231" stop-color="#ff3200"/><stop offset="0.308" stop-color="#ff3300"/><stop offset="0.385" stop-color="#ff3500"/><stop offset="0.462" stop-color="#ff3600"/><stop offset="0.538" stop-color="#ff3600"/><stop offset="0.615" stop-color="#ff3500"/><stop offset="0.692" stop-color="#ff3300"/><stop offset="0.769" stop-color="#ff3200"/><stop offset="0.846" stop-color="#ff3000"/><stop offset="0.923" stop-color="#ff3300"/><stop offset="1.000" stop-color="#ff2800"/></linearGradient>
<linearGradient id="g64"><stop offset="0.000" stop-color="#ff2d00"/><stop offset="0.077" stop-color="#ff3800"/><stop offset="0.154" stop-color="#ff3500"/><stop offset="0.231" stop-color="#ff3600"/><stop offset="0.308" stop-color="#ff3700"/><stop offset="0.385" stop-color="#ff3700"/><stop offset="0.462" stop-color="#ff3800"/><stop offset="0.538" stop-color="#ff3800"/><stop offset="0.615" stop-color="#ff3700"/><stop offset="0.692" stop-color="#ff3700"/><stop offset="0.769" stop-color="#ff3600"/><stop offset="0.846" stop-color="#ff3500"/><stop offset="0.923" stop-color="#ff3800"/><stop offset="1.000" stop-color="#ff2d00"/></linearGradient>
<linearGradient id="g65"><stop offset="0.000" stop-color="#ff3200"/><stop offset="0.077" stop-color="#ff3e00"/><stop offset="0.154" stop-color="#ff3900"/><stop offset="0.231" stop-color="#ff3900"/><stop offset="0.308" stop-color="#ff3a00"/><stop offset="0.385" stop-color="#ff3900"/><stop offset="0.462" stop-color="#ff3b00"/><stop offset="0.538" stop-color="#ff3b00"/><stop offset="0.615" stop-color="#ff3900"/><stop offset="0.692" stop-color="#ff3a00"/><stop offset="0.769" stop-color="#ff3900"/><stop offset="0.846" stop-color="#ff3900"/><stop offset="0.923" stop-color="#ff3e00"/><stop offset="1.000" stop-color="#ff3200"/></linearGradient>
<linearGradient id="g66"><stop offset="0.000" stop-color="#ff3700"/><stop offset="0.077" stop-color="#ff4400"/><stop offset="0.154" stop-color="#ff3e00"/><stop offset="0.231" stop-color="#ff3d00"/><stop offset="0.308" stop-color="#ff3e00"/><stop offset="0.385" stop-color="#ff3c00"/><stop offset="0.462" stop-color="#ff3d00"/><stop offset="0.538" stop-color="#ff3d00"/><stop offset="0.615" stop-color="#ff3c00"/><stop offset="0.692" stop-color="#ff3e00"/><stop offset="0.769" stop-color="#ff3d00"/><stop offset="0.846" stop-color="#ff3e00"/><stop offset="0.923" stop-color="#ff4400"/><stop offset="1.000" stop-color="#ff3700"/></linearGradient>
<linearGradient id="g67"><stop offset="0.000" stop-color="#ff3c00"/><stop offset="0.077" stop-color="#ff4a00"/><stop offset="0.154" stop-color="#ff4300"/><stop offset="0.231" stop-color="#ff4100"/><stop offset="0.308" stop-color="#ff4300"/><stop offset="0.385" stop-color="#ff4100"/><stop offset="0.462" stop-color="#ff4000"/><stop offset="0.538" stop-color="#ff4000"/><stop offset="0.615" stop-color="#ff4100"/><stop offset="0.692" stop-color="#ff4300"/><stop offset="0.769" stop-color="#ff4100"/><stop offset="0.846" stop-color="#ff4300"/><stop offset="0.923" stop-color="#ff4a00"/><stop offset="1.000" stop-color="#ff3c00"/></linearGradient>
<linearGradient id="g68"><stop offset="0.000" stop-color="#ff4200"/><stop offset="0.083" stop-color="#ff5000"/><stop offset="0.167" stop-color="#ff4800"/><stop offset="0.250" stop-color="#ff4600"/><stop offset="0.333" stop-color="#ff4700"/><stop offset="0.417" stop-color="#ff4500"/><stop offset="0.500" stop-color="#ff4300"/><stop offset="0.583" stop-color="#ff4500"/><stop offset="0.667" stop-color="#ff4700"/><stop offset="0.750" stop-color="#ff4600"/><stop offset="0.833" stop-color="#ff4800"/><stop offset="0.917" stop-color="#ff5000"/><stop offset="1.000" stop-color="#ff4200"/></linearGradient>
<linearGradient id="g69"><stop offset="0.000" stop-color="#ff4800"/><stop offset="0.083" stop-color="#ff5700"/><stop offset="0.167" stop-color="#ff4e00"/><stop offset="0.250" stop-color="#ff4a00"/><stop offset="0.333" stop-color="#ff4c00"/><stop offset="0.417" stop-color="#ff4a00"/><stop offset="0.500" stop-color="#ff4900"/><stop offset="0.583" stop-color="#ff4a00"/><stop offset="0.667" stop-color="#ff4c00"/><stop offset="0.750" stop-color="#ff4a00"/><stop offset="0.833" stop-color="#ff4e00"/><stop offset="0.917" stop-color="#ff5700"/><stop offset="1.000" stop-color="#ff4800"/></linearGradient>
<linearGradient id="g70"><stop offset="0.000" stop-color="#ff4f00"/><stop offset="0.083" stop-color="#ff5f00"/><stop offset="0.167" stop-color="#ff5400"/><stop offset="0.250" stop-color="#ff4f00"/><stop offset="0.333" stop-color="#ff5000"/><stop offset="0.417" stop-color="#ff5000"/><stop offset="0.500" stop-color="#ff4f00"/><stop offset="0.583" stop-color="#ff5000"/><stop offset="0.667" stop-color="#ff5000"/><stop offset="0.750" stop-color="#ff4f00"/><stop offset="0.833" stop-color="#ff5400"/><stop offset="0.917" stop-color="#ff5f00"/><stop offset="1.000" stop-color="#ff4f00"/></linearGradient>
<linearGradient id="g71"><stop offset="0.000" stop-color="#ff5500"/><stop offset="0.083" stop-color="#ff6600"/><stop offset="0.167" stop-color="#ff5a00"/><stop offset="0.250" stop-color="#ff5300"/><stop offset="0.333" stop-color="#ff5500"/><stop offset="0.417" stop-color="#ff5500"/><stop offset="0.500" stop-color="#ff5500"/><stop offset="0.583" stop-color="#ff5500"/><stop offset="0.667" stop-color="#ff5500"/><stop offset="0.750" stop-color="#ff5300"/><stop offset="0.833" stop-color="#ff5a00"/><stop offset="0.917" stop-color="#ff6600"/><stop offset="1.000" stop-color="#ff5500"/></linearGradient>
<linearGradient id="g72"><stop offset="0.000" stop-color="#ff5c00"/><stop offset="0.091" stop-color="#ff6e00"/><stop offset="0.182" stop-color="#ff6000"/><stop offset="0.273" stop-color="#ff5900"/><stop offset="0.364" stop-color="#ff5b00"/><stop offset="0.455" stop-color="#ff5a00"/><stop offset="0.545" stop-color="#ff5a00"/><stop offset="0.636" stop-color="#ff5b00"/><stop offset="0.727" stop-color="#ff5900"/><stop offset="0.818" stop-color="#ff6000"/><stop offset="0.909" stop-color="#ff6e00"/><stop offset="1.000" stop-color="#ff5c00"/></linearGradient>
<linearGradient id="g73"><stop offset="0.000" stop-color="#ff6300"/><stop offset="0.091" stop-color="#ff7600"/><stop offset="0.182" stop-color="#ff6800"/><stop offset="0.273" stop-color="#ff6000"/><stop offset="0.364" stop-color="#ff6000"/><stop offset="0.455" stop-color="#ff6000"/><stop offset="0.545" stop-color="#ff6000"/><stop offset="0.636" stop-color="#ff6000"/><stop offset="0.727" stop-color="#ff6000"/><stop offset="0.818" stop-color="#ff6800"/><stop offset="0.909" stop-color="#ff7600"/><stop offset="1.000" stop-color="#ff6300"/></linearGradient>
<linearGradient id="g74"><stop offset="0.000" stop-color="#ff6b00"/><stop offset="0.091" stop-color="#ff7e00"/><stop offset="0.182" stop-color="#ff6f00"/><stop offset="0.273" stop-color="#ff6800"/><stop offset="0.364" stop-color="#ff6500"/><stop offset="0.455" stop-color="#ff6600"/><stop offset="0.545" stop-color="#ff6600"/><stop offset="0.636" stop-color="#ff6500"/><stop offset="0.727" stop-color="#ff6800"/><stop offset="0.818" stop-color="#ff6f00"/><stop offset="0.909" stop-color="#ff7e00"/><stop offset="1.000" stop-color="#ff6b00"/></linearGradient>
<linearGradient id="g75"><stop offset="0.000" stop-color="#ff7300"/><stop offset="0.091" stop-color="#ff8600"/><stop offset="0.182" stop-color="#ff7900"/><stop offset="0.273" stop-color="#ff7100"/><stop offset="0.364" stop-color="#ff6b00"/><stop offset="0.455" stop-color="#ff6b00"/><stop offset="0.545" stop-color="#ff6b00"/><stop offset="0.636" stop-color="#ff6b00"/><stop offset="0.727" stop-color="#ff7100"/><stop offset="0.818" stop-color="#ff7900"/><stop offset="0.909" stop-color="#ff8600"/><stop offset="1.000" stop-color="#ff7300"/></linearGradient>
<linearGradient id="g76"><stop offset="0.000" stop-color="#ff7b00"/><stop offset="0.100" stop-color="#ff9000"/><stop offset="0.200" stop-color="#ff8000"/><stop offset="0.300" stop-color="#ff7800"/><stop offset="0.400" stop-color="#ff7100"/><stop offset="0.500" stop-color="#ff7100"/><stop offset="0.600" stop-color="#ff7100"/><stop offset="0.700" stop-color="#ff7800"/><stop offset="0.800" stop-color="#ff8000"/><stop offset="0.900" stop-color="#ff9000"/><stop offset="1.000" stop-color="#ff7b00"/></linearGradient>
<linearGradient id="g77"><stop offset="0.000" stop-color="#ff8300"/><stop offset="0.100" stop-color="#ff9900"/><stop offset="0.200" stop-color="#ff8b00"/><stop offset="0.300" stop-color="#ff8100"/><stop offset="0.400" stop-color="#ff7b00"/><stop offset="0.500" stop-color="#ff7900"/><stop offset="0.600" stop-color="#ff7b00"/><stop offset="0.700" stop-color="#ff8100"/><stop offset="0.800" stop-color="#ff8b00"/><stop offset="0.900" stop-color="#ff9900"/><stop offset="1.000" stop-color="#ff8300"/></linearGradient>
<linearGradient id="g78"><stop offset="0.000" stop-color="#ff8c00"/><stop offset="0.100" stop-color="#ffa200"/><stop offset="0.200" stop-color="#ff9700"/><stop offset="0.300" stop-color="#ff8b00"/><stop offset="0.400" stop-color="#ff8600"/><stop offset="0.500" stop-color="#ff8400"/><stop offset="0.600" stop-color="#ff8600"/><stop offset="0.700" stop-color="#ff8b00"/><stop offset="0.800" stop-color="#ff9700"/><stop offset="0.900" stop-color="#ffa200"/><stop offset="1.000" stop-color="#ff8c00"/></linearGradient>
<linearGradient id="g79"><stop offset="0.000" stop-color="#ff9500"/><stop offset="0.111" stop-color="#ffac00"/><stop offset="0.222" stop-color="#ffa000"/><stop offset="0.333" stop-color="#ff9400"/><stop offset="0.444" stop-color="#ff9000"/><stop offset="0.556" stop-color="#ff9000"/><stop offset="0.667" stop-color="#ff9400"/><stop offset="0.778" stop-color="#ffa000"/><stop offset="0.889" stop-color="#ffac00"/><stop offset="1.000" stop-color="#ff9500"/></linearGradient>
<linearGradient id="g80"><stop offset="0.000" stop-color="#ff9e00"/><stop offset="0.111" stop-color="#ffb600"/><stop offset="0.222" stop-color="#ffad00"/><stop offset="0.333" stop-color="#ff9e00"/><stop offset="0.444" stop-color="#ff9b00"/><stop offset="0.556" stop-color="#ff9b00"/><stop offset="0.667" stop-color="#ff9e00"/><stop offset="0.778" stop-color="#ffad00"/><stop offset="0.889" stop-color="#ffb600"/><stop offset="1.000" stop-color="#ff9e00"/></linearGradient>
<linearGradient id="g81"><stop offset="0.000" stop-color="#ffa800"/><stop offset="0.125" stop-color="#ffc000"/><stop offset="0.250" stop-color="#ffb800"/><stop offset="0.375" stop-color="#ffab00"/><stop offset="0.500" stop-color="#ffa600"/><stop offset="0.625" stop-color="#ffab00"/><stop offset="0.750" stop-color="#ffb800"/><stop offset="0.875" stop-color="#ffc000"/><stop offset="1.000" stop-color="#ffa800"/></linearGradient>
<linearGradient id="g82"><stop offset="0.000" stop-color="#ffb200"/><stop offset="0.125" stop-color="#ffcb00"/><stop offset="0.250" stop-color="#ffc700"/><stop offset="0.375" stop-color="#ffbc00"/><stop offset="0.500" stop-color="#ffb800"/><stop offset="0.625" stop-color="#ffbc00"/><stop offset="0.750" stop-color="#ffc700"/><stop offset="0.875" stop-color="#ffcb00"/><stop offset="1.000" stop-color="#ffb200"/></linearGradient>
<linearGradient id="g83"><stop offset="0.000" stop-color="#ffbc00"/><stop offset="0.143" stop-color="#ffd600"/><stop offset="0.286" stop-color="#ffd300"/><stop offset="0.429" stop-color="#ffcc00"/><stop offset="0.571" stop-color="#ffcc00"/><stop offset="0.714" stop-color="#ffd300"/><stop offset="0.857" stop-color="#ffd600"/><stop offset="1.000" stop-color="#ffbc00"/></linearGradient>
<linearGradient id="g84"><stop offset="0.000" stop-color="#ffc700"/><stop offset="0.143" stop-color="#ffdf00"/><stop offset="0.286" stop-color="#ffe200"/><stop offset="0.429" stop-color="#ffde00"/><stop offset="0.571" stop-color="#ffde00"/><stop offset="0.714" stop-color="#ffe200"/><stop offset="0.857" stop-color="#ffdf00"/><stop offset="1.000" stop-color="#ffc700"/></linearGradient>
<linearGradient id="g85"><stop offset="0.000" stop-color="#ffd200"/><stop offset="0.167" stop-color="#ffe900"/><stop offset="0.333" stop-color="#ffed00"/><stop offset="0.500" stop-color="#ffee00"/><stop offset="0.667" stop-color="#ffed00"/><stop offset="0.833" stop-color="#ffe900"/><stop offset="1.000" stop-color="#ffd200"/></linearGradient>
<linearGradient id="g86"><stop offset="0.000" stop-color="#ffdd00"/><stop offset="0.200" stop-color="#fff200"/><stop offset="0.400" stop-color="#fff900"/><stop offset="0.600" stop-color="#fff900"/><stop offset="0.800" stop-color="#fff200"/><stop offset="1.000" stop-color="#ffdd00"/></linearGradient>
<linearGradient id="g87"><stop offset="0.000" stop-color="#ffe900"/><stop offset="0.250" stop-color="#fff900"/><stop offset="0.500" stop-color="#ffff00"/><stop offset="0.750" stop-color="#fff900"/><stop offset="1.000" stop-color="#ffe900"/></linearGradient>
<linearGradient id="g88"><stop offset="0.000" stop-color="#fff600"/><stop offset="0.250" stop-color="#fffd00"/><stop offset="0.500" stop-color="#ffff00"/><stop offset="0.750" stop-color="#fffd00"/><stop offset="1.000" stop-color="#fff600"/></linearGradient>
<linearGradient id="g89"><stop offset="0.000" stop-color="#ffef00"/><stop offset="0.250" stop-color="#fffb00"/><stop offset="0.500" stop-color="#ffff00"/><stop offset="0.750" stop-color="#fffb00"/><stop offset="1.000" stop-color="#ffef00"/></linearGradient>
<clipPath id="c90"><circle cx="209.70" cy="358.80" r="43.91"/></clipPath>
<linearGradient id="g91"><stop offset="0.000" stop-color="#ffe000"/><stop offset="0.250" stop-color="#fff700"/><stop offset="0.500" stop-color="#ffff00"/><stop offset="0.750" stop-color="#fff700"/><stop offset="1.000" stop-color="#ffe000"/></linearGradient>
<linearGradient id="g92"><stop offset="0.000" stop-color="#ffee00"/><stop offset="0.250" stop-color="#fff000"/><stop offset="0.500" stop-color="#ffef00"/><stop offset="0.750" stop-color="#fff000"/><stop offset="1.000" stop-color="#ffee00"/></linearGradient>
<linearGradient id="g93"><stop offset="0.000" stop-color="#ffd300"/><stop offset="0.250" stop-color="#ffd400"/><stop offset="0.500" stop-color="#ffd100"/><stop offset="0.750" stop-color="#ffd400"/><stop offset="1.000" stop-color="#ffd300"/></linearGradient>
<linearGradient id="g94"><stop offset="0.000" stop-color="#ffbb00"/><stop offset="0.200" stop-color="#ffbb00"/><stop offset="0.400" stop-color="#ffb000"/><stop offset="0.600" stop-color="#ffb000"/><stop offset="0.800" stop-color="#ffbb00"/><stop offset="1.000" stop-color="#ffbb00"/></linearGradient>
<linearGradient id="g95"><stop offset="0.000" stop-color="#ffa400"/><stop offset="0.167" stop-color="#ffa400"/><stop offset="0.333" stop-color="#ff8f00"/><stop offset="0.500" stop-color="#ff8600"/><stop offset="0.667" stop-color="#ff8f00"/><stop offset="0.833" stop-color="#ffa400"/><stop offset="1.000" stop-color="#ffa400"/></linearGradient>
<linearGradient id="g96"><stop offset="0.000" stop-color="#ff8e00"/><stop offset="0.143" stop-color="#ff8e00"/><stop offset="0.286" stop-color="#ff7300"/><stop offset="0.429" stop-color="#ff6200"/><stop offset="0.571" stop-color="#ff6200"/><stop offset="0.714" stop-color="#ff7300"/><stop offset="0.857" stop-color="#ff8e00"/><stop offset="1.000" stop-color="#ff8e00"/></linearGradient>
<linearGradient id="g97"><stop offset="0.000" stop-color="#ff7900"/><stop offset="0.143" stop-color="#ff7500"/><stop offset="0.286" stop-color="#ff5100"/><stop offset="0.429" stop-color="#ff4000"/><stop offset="0.571" stop-color="#ff4000"/><stop offset="0.714" stop-color="#ff5100"/><stop offset="0.857" stop-color="#ff7500"/><stop offset="1.000" stop-color="#ff7900"/></linearGradient>
<linearGradient id="g98"><stop offset="0.000" stop-color="#ff6400"/><stop offset="0.125" stop-color="#ff6100"/><stop offset="0.250" stop-color="#ff3b00"/><stop offset="0.375" stop-color="#ff2c00"/><stop offset="0.500" stop-color="#ff2a00"/><stop offset="0.625" stop-color="#ff2c00"/><stop offset="0.750" stop-color="#ff3b00"/><stop offset="0.875" stop-color="#ff6100"/><stop offset="1.000" stop-color="#ff6400"/></linearGradient>
<linearGradient id="g99"><stop offset="0.000" stop-color="#ff5000"/><stop offset="0.125" stop-color="#ff4900"/><stop offset="0.250" stop-color="#ff1f00"/><stop offset="0.375" stop-color="#ff1700"/><stop offset="0.500" stop-color="#ff1400"/><stop offset="0.625" stop-color="#ff1700"/><stop offset="0.750" stop-color="#ff1f00"/><stop offset="0.875" stop-color="#ff4900"/><stop offset="1.000" stop-color="#ff5000"/></linearGradient>
<linearGradient id="g100"><stop offset="0.000" stop-color="#ff3d00"/><stop offset="0.111" stop-color="#ff3700"/><stop offset="0.222" stop-color="#ff0f00"/><stop offset="0.333" stop-color="#ff0600"/><stop offset="0.444" stop-color="#ff0000"/><stop offset="0.556" stop-color="#ff0000"/><stop offset="0.667" stop-color="#ff0600"/><stop offset="0.778" stop-color="#ff0f00"/><stop offset="0.889" stop-color="#ff3700"/><stop offset="1.000" stop-color="#ff3d00"/></linearGradient>
<linearGradient id="g101"><stop offset="0.000" stop-color="#ff2a00"/><stop offset="0.111" stop-color="#ff2100"/><stop offset="0.222" stop-color="#fc0000"/><stop offset="0.333" stop-color="#f10000"/><stop offset="0.444" stop-color="#ea0000"/><stop offset="0.556" stop-color="#ea0000"/><stop offset="0.667" stop-color="#f10000"/><stop offset="0.778" stop-color="#fc0000"/><stop offset="0.889" stop-color="#ff2100"/><stop offset="1.000" stop-color="#ff2a00"/></linearGradient>
<linearGradient id="g102"><stop offset="0.000" stop-color="#ff1800"/><stop offset="0.100" stop-color="#ff1100"/><stop offset="0.200" stop-color="#ed0000"/><stop offset="0.300" stop-color="#e20000"/><stop offset="0.400" stop-color="#d70000"/><stop offset="0.500" stop-color="#d30000"/><stop offset="0.600" stop-color="#d70000"/><stop offset="0.700" stop-color="#e20000"/><stop offset="0.800" stop-color="#ed0000"/><stop offset="0.900" stop-color="#ff1100"/><stop offset="1.000" stop-color="#ff1800"/></linearGradient>
<linearGradient id="g103"><stop offset="0.000" stop-color="#ff0700"/><stop offset="0.100" stop-color="#fd0000"/><stop offset="0.200" stop-color="#dd0000"/><stop offset="0.300" stop-color="#d00000"/><stop offset="0.400" stop-color="#c30000"/><stop offset="0.500" stop-color="#be0000"/><stop offset="0.600" stop-color="#c30000"/><stop offset="0.700" stop-color="#d00000"/><stop offset="0.800" stop-color="#dd0000"/><stop offset="0.900" stop-color="#fd0000"/><stop offset="1.000" stop-color="#ff0700"/></linearGradient>
<linearGradient id="g104"><stop offset="0.000" stop-color="#f50000"/><stop offset="0.100" stop-color="#ea0000"/><stop offset="0.200" stop-color="#cd0000"/><stop offset="0.300" stop-color="#be0000"/><stop offset="0.400" stop-color="#af0000"/><stop offset="0.500" stop-color="#af0000"/><stop offset="0.600" stop-color="#af0000"/><stop offset="0.700" stop-color="#be0000"/><stop offset="0.800" stop-color="#cd0000"/><stop offset="0.900" stop-color="#ea0000"/><stop offset="1.000" stop-color="#f50000"/></linearGradient>
<linearGradient id="g105"><stop offset="0.000" stop-color="#e50000"/><stop offset="0.091" stop-color="#dc0000"/><stop offset="0.182" stop-color="#c00000"/><stop offset="0.273" stop-color="#b10000"/><stop offset="0.364" stop-color="#a40000"/><stop offset="0.455" stop-color="#a20000"/><stop offset="0.545" stop-color="#a20000"/><stop offset="0.636" stop-color="#a40000"/><stop offset="0.727" stop-color="#b10000"/><stop offset="0.818" stop-color="#c00000"/><stop offset="0.909" stop-color="#dc0000"/><stop offset="1.000" stop-color="#e50000"/></linearGradient>
<linearGradient id="g106"><stop offset="0.000" stop-color="#d60000"/><stop offset="0.091" stop-color="#cc0000"/><stop offset="0.182" stop-color="#b20000"/><stop offset="0.273" stop-color="#a10000"/><stop offset="0.364" stop-color="#980000"/><stop offset="0.455" stop-color="#960000"/><stop offset="0.545" stop-color="#960000"/><stop offset="0.636" stop-color="#980000"/><stop offset="0.727" stop-color="#a10000"/><stop offset="0.818" stop-color="#b20000"/><stop offset="0.909" stop-color="#cc0000"/><stop offset="1.000" stop-color="#d60000"/></linearGradient>
<linearGradient id="g107"><stop offset="0.000" stop-color="#c70000"/><stop offset="0.091" stop-color="#bb0000"/><stop offset="0.182" stop-color="#a40000"/><stop offset="0.273" stop-color="#920000"/><stop offset="0.364" stop-color="#8c0000"/><stop offset="0.455" stop-color="#890000"/><stop offset="0.545" stop-color="#890000"/><stop offset="0.636" stop-color="#8c0000"/><stop offset="0.727" stop-color="#920000"/><stop offset="0.818" stop-color="#a40000"/><stop offset="0.909" stop-color="#bb0000"/><stop offset="1.000" stop-color="#c70000"/></linearGradient>
<linearGradient id="g108"><stop offset="0.000" stop-color="#b80000"/><stop offset="0.091" stop-color="#ac0000"/><stop offset="0.182" stop-color="#970000"/><stop offset="0.273" stop-color="#840000"/><stop offset="0.364" stop-color="#810000"/><stop offset="0.455" stop-color="#7d0000"/><stop offset="0.545" stop-color="#7d0000"/><stop offset="0.636" stop-color="#810000"/><stop offset="0.727" stop-color="#840000"/><stop offset="0.818" stop-color="#970000"/><stop offset="0.909" stop-color="#ac0000"/><stop offset="1.000" stop-color="#b80000"/></linearGradient>
<linearGradient id="g109"><stop offset="0.000" stop-color="#aa0000"/><stop offset="0.083" stop-color="#a10000"/><stop offset="0.167" stop-color="#8c0000"/><stop offset="0.250" stop-color="#7b0000"/><stop offset="0.333" stop-color="#770000"/><stop offset="0.417" stop-color="#720000"/><stop offset="0.500" stop-color="#700000"/><stop offset="0.583" stop-color="#720000"/><stop offset="0.667" stop-color="#770000"/><stop offset="0.750" stop-color="#7b0000"/><stop offset="0.833" stop-color="#8c0000"/><stop offset="0.917" stop-color="#a10000"/><stop offset="1.000" stop-color="#aa0000"/></linearGradient>
<linearGradient id="g110"><stop offset="0.000" stop-color="#9d0000"/><stop offset="0.083" stop-color="#930000"/><stop offset="0.167" stop-color="#800000"/><stop offset="0.250" stop-color="#710000"/><stop offset="0.333" stop-color="#6c0000"/><stop offset="0.417" stop-color="#660000"/><stop offset="0.500" stop-color="#630000"/><stop offset="0.583" stop-color="#660000"/><stop offset="0.667" stop-color="#6c0000"/><stop offset="0.750" stop-color="#710000"/><stop offset="0.833" stop-color="#800000"/><stop offset="0.917" stop-color="#930000"/><stop offset="1.000" stop-color="#9d0000"/></linearGradient>
<linearGradient id="g111"><stop offset="0.000" stop-color="#910000"/><stop offset="0.083" stop-color="#860000"/><stop offset="0.167" stop-color="#750000"/><stop offset="0.250" stop-color="#670000"/><stop offset="0.333" stop-color="#620000"/><stop offset="0.417" stop-color="#5a0000"/><stop offset="0.500" stop-color="#570000"/><stop offset="0.583" stop-color="#5a0000"/><stop offset="0.667" stop-color="#620000"/><stop offset="0.750" stop-color="#670000"/><stop offset="0.833" stop-color="#750000"/><stop offset="0.917" stop-color="#860000"/><stop offset="1.000" stop-color="#910000"/></linearGradient>
<linearGradient id="g112"><stop offset="0.000" stop-color="#840000"/><stop offset="0.083" stop-color="#7a0000"/><stop offset="0.167" stop-color="#6a0000"/><stop offset="0.250" stop-color="#5e0000"/><stop offset="0.333" stop-color="#580000"/><stop offset="0.417" stop-color="#4f0000"/><stop offset="0.500" stop-color="#4a0000"/><stop offset="0.583" stop-color="#4f0000"/><stop offset="0.667" stop-color="#580000"/><stop offset="0.750" stop-color="#5e0000"/><stop offset="0.833" stop-color="#6a0000"/><stop offset="0.917" stop-color="#7a0000"/><stop offset="1.000" stop-color="#840000"/></linearGradient>
<linearGradient id="g113"><stop offset="0.000" stop-color="#790000"/><stop offset="0.077" stop-color="#710000"/><stop offset="0.154" stop-color="#620000"/><stop offset="0.231" stop-color="#560000"/><stop offset="0.308" stop-color="#510000"/><stop offset="0.385" stop-color="#470000"/><stop offset="0.462" stop-color="#430000"/><stop offset="0.538" stop-color="#430000"/><stop offset="0.615" stop-color="#470000"/><stop offset="0.692" stop-color="#510000"/><stop offset="0.769" stop-color="#560000"/><stop offset="0.846" stop-color="#620000"/><stop offset="0.923" stop-color="#710000"/><stop offset="1.000" stop-color="#790000"/></linearGradient>
<linearGradient id="g114"><stop offset="0.000" stop-color="#6e0000"/><stop offset="0.077" stop-color="#660000"/><stop offset="0.154" stop-color="#580000"/><stop offset="0.231" stop-color="#4e0000"/><stop offset="0.308" stop-color="#480000"/><stop offset="0.385" stop-color="#3d0000"/><stop offset="0.462" stop-color="#3d0000"/><stop offset="0.538" stop-color="#3d0000"/><stop offset="0.615" stop-color="#3d0000"/><stop offset="0.692" stop-color="#480000"/><stop offset="0.769" stop-color="#4e0000"/><stop offset="0.846" stop-color="#580000"/><stop offset="0.923" stop-color="#660000"/><stop offset="1.000" stop-color="#6e0000"/></linearGradient>
<linearGradient id="g115"><stop offset="0.000" stop-color="#630000"/><stop offset="0.077" stop-color="#5c0000"/><stop offset="0.154" stop-color="#4f0000"/><stop offset="0.231" stop-color="#460000"/><stop offset="0.308" stop-color="#400000"/><stop offset="0.385" stop-color="#370000"/><stop offset="0.462" stop-color="#370000"/><stop offset="0.538" stop-color="#370000"/><stop offset="0.615" stop-color="#370000"/><stop offset="0.692" stop-color="#400000"/><stop offset="0.769" stop-color="#460000"/><stop offset="0.846" stop-color="#4f0000"/><stop offset="0.923" stop-color="#5c0000"/><stop offset="1.000" stop-color="#630000"/></linearGradient>
<linearGradient id="g116"><stop offset="0.000" stop-color="#590000"/><stop offset="0.077" stop-color="#520000"/><stop offset="0.154" stop-color="#470000"/><stop offset="0.231" stop-color="#3f0000"/><stop offset="0.308" stop-color="#380000"/><stop offset="0.385" stop-color="#320000"/><stop offset="0.462" stop-color="#320000"/><stop offset="0.538" stop-color="#320000"/><stop offset="0.615" stop-color="#320000"/><stop offset="0.692" stop-color="#380000"/><stop offset="0.769" stop-color="#3f0000"/><stop offset="0.846" stop-color="#470000"/><stop offset="0.923" stop-color="#520000"/><stop offset="1.000" stop-color="#590000"/></linearGradient>
<linearGradient id="g117"><stop offset="0.000" stop-color="#500000"/><stop offset="0.077" stop-color="#490000"/><stop offset="0.154" stop-color="#3f0000"/><stop offset="0.231" stop-color="#380000"/><stop offset="0.308" stop-color="#300000"/><stop offset="0.385" stop-color="#2d0000"/><stop offset="0.462" stop-color="#2c0000"/><stop offset="0.538" stop-color="#2c0000"/><stop offset="0.615" stop-color="#2d0000"/><stop offset="0.692" stop-color="#300000"/><stop offset="0.769" stop-color="#380000"/><stop offset="0.846" stop-color="#3f0000"/><stop offset="0.923" stop-color="#490000"/><stop offset="1.000" stop-color="#500000"/></linearGradient>
<linearGradient id="g118"><stop offset="0.000" stop-color="#470000"/><stop offset="0.077" stop-color="#400000"/><stop offset="0.154" stop-color="#370000"/><stop offset="0.231" stop-color="#310000"/><stop offset="0.308" stop-color="#290000"/><stop offset="0.385" stop-color="#280000"/><stop offset="0.462" stop-color="#270000"/><stop offset="0.538" stop-color="#270000"/><stop offset="0.615" stop-color="#280000"/><stop offset="0.692" stop-color="#290000"/><stop offset="0.769" stop-color="#310000"/><stop offset="0.846" stop-color="#370000"/><stop offset="0.923" stop-color="#400000"/><stop offset="1.000" stop-color="#470000"/></linearGradient>
<linearGradient id="g119"><stop offset="0.000" stop-color="#3f0000"/><stop offset="0.077" stop-color="#380000"/><stop offset="0.154" stop-color="#300000"/><stop offset="0.231" stop-color="#2b0000"/><stop offset="0.308" stop-color="#230000"/><stop offset="0.385" stop-color="#230000"/><stop offset="0.462" stop-color="#210000"/><stop offset="0.538" stop-color="#210000"/><stop offset="0.615" stop-color="#230000"/><stop offset="0.692" stop-color="#230000"/><stop offset="0.769" stop-color="#2b0000"/><stop offset="0.846" stop-color="#300000"/><stop offset="0.923" stop-color="#380000"/><stop offset="1.000" stop-color="#3f0000"/></linearGradient>
<linearGradient id="g120"><stop offset="0.000" stop-color="#370000"/><stop offset="0.071" stop-color="#320000"/><stop offset="0.143" stop-color="#2b0000"/><stop offset="0.214" stop-color="#260000"/><stop offset="0.286" stop-color="#200000"/><stop offset="0.357" stop-color="#1f0000"/><stop offset="0.429" stop-color="#1d0000"/><stop offset="0.500" stop-color="#1b0000"/><stop offset="0.571" stop-color="#1d0000"/><stop offset="0.643" stop-color="#1f0000"/><stop offset="0.714" stop-color="#200000"/><stop offset="0.786" stop-color="#260000"/><stop offset="0.857" stop-color="#2b0000"/><stop offset="0.929" stop-color="#320000"/><stop offset="1.000" stop-color="#370000"/></linearGradient>
<linearGradient id="g121"><stop offset="0.000" stop-color="#2f0000"/><stop offset="0.071" stop-color="#2b0000"/><stop offset="0.143" stop-color="#250000"/><stop offset="0.214" stop-color="#210000"/><stop offset="0.286" stop-color="#1b0000"/><stop offset="0.357" stop-color="#1a0000"/><stop offset="0.429" stop-color="#180000"/><stop offset="0.500" stop-color="#150000"/><stop offset="0.571" stop-color="#180000"/><stop offset="0.643" stop-color="#1a0000"/><stop offset="0.714" stop-color="#1b0000"/><stop offset="0.786" stop-color="#210000"/><stop offset="0.857" stop-color="#250000"/><stop offset="0.929" stop-color="#2b0000"/><stop offset="1.000" stop-color="#2f0000"/></linearGradient>
<linearGradient id="g122"><stop offset="0.000" stop-color="#290000"/><stop offset="0.071" stop-color="#250000"/><stop offset="0.143" stop-color="#200000"/><stop offset="0.214" stop-color="#1c0000"/><stop offset="0.286" stop-color="#160000"/><stop offset="0.357" stop-color="#160000"/><stop offset="0.429" stop-color="#130000"/><stop offset="0.500" stop-color="#130000"/><stop offset="0.571" stop-color="#130000"/><stop offset="0.643" stop-color="#160000"/><stop offset="0.714" stop-color="#160000"/><stop offset="0.786" stop-color="#1c0000"/><stop offset="0.857" stop-color="#200000"/><stop offset="0.929" stop-color="#250000"/><stop offset="1.000" stop-color="#290000"/></linearGradient>
<linearGradient id="g123"><stop offset="0.000" stop-color="#220000"/><stop offset="0.071" stop-color="#1f0000"/><stop offset="0.143" stop-color="#1b0000"/><stop offset="0.214" stop-color="#180000"/><stop offset="0.286" stop-color="#130000"/><stop offset="0.357" stop-color="#130000"/><stop offset="0.429" stop-color="#0f0000"/><stop offset="0.500" stop-color="#120000"/><stop offset="0.571" stop-color="#0f0000"/><stop offset="0.643" stop-color="#130000"/><stop offset="0.714" stop-color="#130000"/><stop offset="0.786" stop-color="#180000"/><stop offset="0.857" stop-color="#1b0000"/><stop offset="0.929" stop-color="#1f0000"/><stop offset="1.000" stop-color="#220000"/></linearGradient>
<linearGradient id="g124"><stop offset="0.000" stop-color="#1d0000"/><stop offset="0.071" stop-color="#1a0000"/><stop offset="0.143" stop-color="#160000"/><stop offset="0.214" stop-color="#140000"/><stop offset="0.286" stop-color="#100000"/><stop offset="0.357" stop-color="#0f0000"/><stop offset="0.429" stop-color="#0e0000"/><stop offset="0.500" stop-color="#100000"/><stop offset="0.571" stop-color="#0e0000"/><stop offset="0.643" stop-color="#0f0000"/><stop offset="0.714" stop-color="#100000"/><stop offset="0.786" stop-color="#140000"/><stop offset="0.857" stop-color="#160000"/><stop offset="0.929" stop-color="#1a0000"/><stop offset="1.000" stop-color="#1d0000"/></linearGradient>
<linearGradient id="g125"><stop offset="0.000" stop-color="#170000"/><stop offset="0.071" stop-color="#150000"/><stop offset="0.143" stop-color="#120000"/><stop offset="0.214" stop-color="#100000"/><stop offset="0.286" stop-color="#0d0000"/><stop offset="0.357" stop-color="#0c0000"/><stop offset="0.429" stop-color="#0c0000"/><stop offset="0.500" stop-color="#0e0000"/><stop offset="0.571" stop-color="#0c0000"/><stop offset="0.643" stop-color="#0c0000"/><stop offset="0.714" stop-color="#0d0000"/><stop offset="0.786" stop-color="#100000"/><stop offset="0.857" stop-color="#120000"/><stop offset="0.929" stop-color="#150000"/><stop offset="1.000" stop-color="#170000"/></linearGradient>
<linearGradient id="g126"><stop offset="0.000" stop-color="#130000"/><stop offset="0.071" stop-color="#110000"/><stop offset="0.143" stop-color="#0e0000"/><stop offset="0.214" stop-color="#0d0000"/><stop offset="0.286" stop-color="#0b0000"/><stop offset="0.357" stop-color="#0a0000"/><stop offset="0.429" stop-color="#0a0000"/><stop offset="0.500" stop-color="#0d0000"/><stop offset="0.571" stop-color="#0a0000"/><stop offset="0.643" stop-color="#0a0000"/><stop offset="0.714" stop-color="#0b0000"/><stop offset="0.786" stop-color="#0d0000"/><stop offset="0.857" stop-color="#0e0000"/><stop offset="0.929" stop-color="#110000"/><stop offset="1.000" stop-color="#130000"/></linearGradient>
<linearGradient id="g127"><stop offset="0.000" stop-color="#0f0000"/><stop offset="0.071" stop-color="#0d0000"/><stop offset="0.143" stop-color="#0b0000"/><stop offset="0.214" stop-color="#0a0000"/><stop offset="0.286" stop-color="#080000"/><stop offset="0.357" stop-color="#070000"/><stop offset="0.429" stop-color="#090000"/><stop offset="0.500" stop-color="#0b0000"/><stop offset="0.571" stop-color="#090000"/><stop offset="0.643" stop-color="#070000"/><stop offset="0.714" stop-color="#080000"/><stop offset="0.786" stop-color="#0a0000"/><stop offset="0.857" stop-color="#0b0000"/><stop offset="0.929" stop-color="#0d0000"/><stop offset="1.000" stop-color="#0f0000"/></linearGradient>
<linearGradient id="g128"><stop offset="0.000" stop-color="#0b0000"/><stop offset="0.071" stop-color="#0a0000"/><stop offset="0.143" stop-color="#080000"/><stop offset="0.214" stop-color="#070000"/><stop offset="0.286" stop-color="#060000"/><stop offset="0.357" stop-color="#050000"/><stop offset="0.429" stop-color="#070000"/><stop offset="0.500" stop-color="#0a0000"/><stop offset="0.571" stop-color="#070000"/><stop offset="0.643" stop-color="#050000"/><stop offset="0.714" stop-color="#060000"/><stop offset="0.786" stop-color="#070000"/><stop offset="0.857" stop-color="#080000"/><stop offset="0.929" stop-color="#0a0000"/><stop offset="1.000" stop-color="#0b0000"/></linearGradient>
<linearGradient id="g129"><stop offset="0.000" stop-color="#080000"/><stop offset="0.071" stop-color="#070000"/><stop offset="0.143" stop-color="#060000"/><stop offset="0.214" stop-color="#050000"/><stop offset="0.286" stop-color="#040000"/><stop offset="0.357" stop-color="#040000"/><stop offset="0.429" stop-color="#060000"/><stop offset="0.500" stop-color="#080000"/><stop offset="0.571" stop-color="#060000"/><stop offset="0.643" stop-color="#040000"/><stop offset="0.714" stop-color="#040000"/><stop offset="0.786" stop-color="#050000"/><stop offset="0.857" stop-color="#060000"/><stop offset="0.929" stop-color="#070000"/><stop offset="1.000" stop-color="#080000"/></linearGradient>
<linearGradient id="g130"><stop offset="0.000" stop-color="#050000"/><stop offset="0.071" stop-color="#050000"/><stop offset="0.143" stop-color="#040000"/><stop offset="0.214" stop-color="#030000"/><stop offset="0.286" stop-color="#030000"/><stop offset="0.357" stop-color="#020000"/><stop offset="0.429" stop-color="#040000"/><stop offset="0.500" stop-color="#070000"/><stop offset="0.571" stop-color="#040000"/><stop offset="0.643" stop-color="#020000"/><stop offset="0.714" stop-color="#030000"/><stop offset="0.786" stop-color="#030000"/><stop offset="0.857" stop-color="#040000"/><stop offset="0.929" stop-color="#050000"/><stop offset="1.000" stop-color="#050000"/></linearGradient>
<linearGradient id="g131"><stop offset="0.000" stop-color="#030000"/><stop offset="0.071" stop-color="#030000"/><stop offset="0.143" stop-color="#020000"/><stop offset="0.214" stop-color="#020000"/><stop offset="0.286" stop-color="#020000"/><stop offset="0.357" stop-color="#010000"/><stop offset="0.429" stop-color="#030000"/><stop offset="0.500" stop-color="#050000"/><stop offset="0.571" stop-color="#030000"/><stop offset="0.643" stop-color="#010000"/><stop offset="0.714" stop-color="#020000"/><stop offset="0.786" stop-color="#020000"/><stop offset="0.857" stop-color="#020000"/><stop offset="0.929" stop-color="#030000"/><stop offset="1.000" stop-color="#030000"/></linearGradient>
<linearGradient id="g132"><stop offset="0.000" stop-color="#020000"/><stop offset="0.071" stop-color="#010000"/><stop offset="0.143" stop-color="#010000"/><stop offset="0.214" stop-color="#010000"/><stop offset="0.286" stop-color="#010000"/><stop offset="0.357" stop-color="#010000"/><stop offset="0.429" stop-color="#010000"/><stop offset="0.500" stop-color="#040000"/><stop offset="0.571" stop-color="#010000"/><stop offset="0.643" stop-color="#010000"/><stop offset="0.714" stop-color="#010000"/><stop offset="0.786" stop-color="#010000"/><stop offset="0.857" stop-color="#010000"/><stop offset="0.929" stop-color="#010000"/><stop offset="1.000" stop-color="#020000"/></linearGradient>
<linearGradient id="g133"><stop offset="0.000" stop-color="#010000"/><stop offset="0.071" stop-color="#010000"/><stop offset="0.143" stop-color="#000000"/><stop offset="0.214" stop-color="#000000"/><stop offset="0.286" stop-color="#000000"/><stop offset="0.357" stop-color="#000000"/><stop offset="0.429" stop-color="#010000"/><stop offset="0.500" stop-color="#020000"/><stop offset="0.571" stop-color="#010000"/><stop offset="0.643" stop-color="#000000"/><stop offset="0.714" stop-color="#000000"/><stop offset="0.786" stop-color="#000000"/><stop offset="0.857" stop-color="#000000"/><stop offset="0.929" stop-color="#010000"/><stop offset="1.000" stop-color="#010000"/></linearGradient>
<linearGradient id="g134"><stop offset="0.000" stop-color="#000000"/><stop offset="0.071" stop-color="#000000"/><stop offset="0.143" stop-color="#000000"/><stop offset="0.214" stop-color="#000000"/><stop offset="0.286" stop-color="#000000"/><stop offset="0.357" stop-color="#000000"/><stop offset="0.429" stop-color="#000000"/><stop offset="0.500" stop-color="#010000"/><stop offset="0.571" stop-color="#000000"/><stop offset="0.643" stop-color="#000000"/><stop offset="0.714" stop-color="#000000"/><stop offset="0.786" stop-color="#000000"/><stop offset="0.857" stop-color="#000000"/><stop offset="0.929" stop-color="#000000"/><stop offset="1.000" stop-color="#000000"/></linearGradient>
<linearGradient id="g135"><stop offset="0.000" stop-color="#000000"/><stop offset="0.071" stop-color="#000000"/><stop offset="0.143" stop-color="#000000"/><stop offset="0.214" stop-color="#000000"/><stop offset="0.286" stop-color="#000000"/><stop offset="0.357" stop-color="#000000"/><stop offset="0.429" stop-color="#000000"/><stop offset="0.500" stop-color="#010000"/><stop offset="0.571" stop-color="#000000"/><stop offset="0.643" stop-color="#000000"/><stop offset="0.714" stop-color="#000000"/><stop offset="0.786" stop-color="#000000"/><stop offset="0.857" stop-color="#000000"/><stop offset="0.929" stop-color="#000000"/><stop offset="1.000" stop-color="#000000"/></linearGradient>
<linearGradient id="g136"><stop offset="0.000" stop-color="#010000"/><stop offset="0.071" stop-color="#010000"/><stop offset="0.143" stop-color="#000000"/><stop offset="0.214" stop-color="#000000"/><stop offset="0.286" stop-color="#000000"/><stop offset="0.357" stop-color="#000000"/><stop offset="0.429" stop-color="#010000"/><stop offset="0.500" stop-color="#020000"/><stop offset="0.571" stop-color="#010000"/><stop offset="0.643" stop-color="#000000"/><stop offset="0.714" stop-color="#000000"/><stop offset="0.786" stop-color="#000000"/><stop offset="0.857" stop-color="#000000"/><stop offset="0.929" stop-color="#010000"/><stop offset="1.000" stop-color="#010000"/></linearGradient>
<linearGradient id="g137"><stop offset="0.000" stop-color="#020000"/><stop offset="0.071" stop-color="#010000"/><stop offset="0.143" stop-color="#010000"/><stop offset="0.214" stop-color="#010000"/><stop offset="0.286" stop-color="#010000"/><stop offset="0.357" stop-color="#010000"/><stop offset="0.429" stop-color="#010000"/><stop offset="0.500" stop-color="#040000"/><stop offset="0.571" stop-color="#010000"/><stop offset="0.643" stop-color="#010000"/><stop offset="0.714" stop-color="#010000"/><stop offset="0.786" stop-color="#010000"/><stop offset="0.857" stop-color="#010000"/><stop offset="0.929" stop-color="#010000"/><stop offset="1.000" stop-color="#020000"/></linearGradient>
<linearGradient id="g138"><stop offset="0.000" stop-color="#030000"/><stop offset="0.071" stop-color="#030000"/><stop offset="0.143" stop-color="#020000"/><stop offset="0.214" stop-color="#020000"/><stop offset="0.286" stop-color="#020000"/><stop offset="0.357" stop-color="#010000"/><stop offset="0.429" stop-color="#030000"/><stop offset="0.500" stop-color="#050000"/><stop offset="0.571" stop-color="#030000"/><stop offset="0.643" stop-color="#010000"/><stop offset="0.714" stop-color="#020000"/><stop offset="0.786" stop-color="#020000"/><stop offset="0.857" stop-color="#020000"/><stop offset="0.929" stop-color="#030000"/><stop offset="1.000" stop-color="#030000"/></linearGradient>
<linearGradient id="g139"><stop offset="0.000" stop-color="#050000"/><stop offset="0.071" stop-color="#050000"/><stop offset="0.143" stop-color="#040000"/><stop offset="0.214" stop-color="#030000"/><stop offset="0.286" stop-color="#030000"/><stop offset="0.357" stop-color="#020000"/><stop offset="0.429" stop-color="#040000"/><stop offset="0.500" stop-color="#070000"/><stop offset="0.571" stop-color="#040000"/><stop offset="0.643" stop-color="#020000"/><stop offset="0.714" stop-color="#030000"/><stop offset="0.786" stop-color="#030000"/><stop offset="0.857" stop-color="#040000"/><stop offset="0.929" stop-color="#050000"/><stop offset="1.000" stop-color="#050000"/></linearGradient>
<linearGradient id="g140"><stop offset="0.000" stop-color="#080000"/><stop offset="0.071" stop-color="#070000"/><stop offset="0.143" stop-color="#060000"/><stop offset="0.214" stop-color="#050000"/><stop offset="0.286" stop-color="#040000"/><stop offset="0.357" stop-color="#040000"/><stop offset="0.429" stop-color="#060000"/><stop offset="0.500" stop-color="#080000"/><stop offset="0.571" stop-color="#060000"/><stop offset="0.643" stop-color="#040000"/><stop offset="0.714" stop-color="#040000"/><stop offset="0.786" stop-color="#050000"/><stop offset="0.857" stop-color="#060000"/><stop offset="0.929" stop-color="#070000"/><stop offset="1.000" stop-color="#080000"/></linearGradient>
<linearGradient id="g141"><stop offset="0.000" stop-color="#0b0000"/><stop offset="0.071" stop-color="#0a0000"/><stop offset="0.143" stop-color="#080000"/><stop offset="0.214" stop-color="#070000"/><stop offset="0.286" stop-color="#060000"/><stop offset="0.357" stop-color="#050000"/><stop offset="0.429" stop-color="#070000"/><stop offset="0.500" stop-color="#0a0000"/><stop offset="0.571" stop-color="#070000"/><stop offset="0.643" stop-color="#050000"/><stop offset="0.714" stop-color="#060000"/><stop offset="0.786" stop-color="#070000"/><stop offset="0.857" stop-color="#080000"/><stop offset="0.929" stop-color="#0a0000"/><stop offset="1.000" stop-color="#0b0000"/></linearGradient>
<linearGradient id="g142"><stop offset="0.000" stop-color="#0f0000"/><stop offset="0.071" stop-color="#0d0000"/><stop offset="0.143" stop-color="#0b0000"/><stop offset="0.214" stop-color="#0a0000"/><stop offset="0.286" stop-color="#080000"/><stop offset="0.357" stop-color="#070000"/><stop offset="0.429" stop-color="#090000"/><stop offset="0.500" stop-color="#0b0000"/><stop offset="0.571" stop-color="#090000"/><stop offset="0.643" stop-color="#070000"/><stop offset="0.714" stop-color="#080000"/><stop offset="0.786" stop-color="#0a0000"/><stop offset="0.857" stop-color="#0b0000"/><stop offset="0.929" stop-color="#0d0000"/><stop offset="1.000" stop-color="#0f0000"/></linearGradient>
<linearGradient id="g143"><stop offset="0.000" stop-color="#130000"/><stop offset="0.071" stop-color="#110000"/><stop offset="0.143" stop-color="#0e0000"/><stop offset="0.214" stop-color="#0d0000"/><stop offset="0.286" stop-color="#0b0000"/><stop offset="0.357" stop-color="#0a0000"/><stop offset="0.429" stop-color="#0a0000"/><stop offset="0.500" stop-color="#0d0000"/><stop offset="0.571" stop-color="#0a0000"/><stop offset="0.643" stop-color="#0a0000"/><stop offset="0.714" stop-color="#0b0000"/><stop offset="0.786" stop-color="#0d0000"/><stop offset="0.857" stop-color="#0e0000"/><stop offset="0.929" stop-color="#110000"/><stop offset="1.000" stop-color="#130000"/></linearGradient>
<linearGradient id="g144"><stop offset="0.000" stop-color="#170000"/><stop offset="0.071" stop-color="#150000"/><stop offset="0.143" stop-color="#120000"/><stop offset="0.214" stop-color="#100000"/><stop offset="0.286" stop-color="#0d0000"/><stop offset="0.357" stop-color="#0c0000"/><stop offset="0.429" stop-color="#0c0000"/><stop offset="0.500" stop-color="#0e0000"/><stop offset="0.571" stop-color="#0c0000"/><stop offset="0.643" stop-color="#0c0000"/><stop offset="0.714" stop-color="#0d0000"/><stop offset="0.786" stop-color="#100000"/><stop offset="0.857" stop-color="#120000"/><stop offset="0.929" stop-color="#150000"/><stop offset="1.000" stop-color="#170000"/></linearGradient>
<linearGradient id="g145"><stop offset="0.000" stop-color="#1d0000"/><stop offset="0.071" stop-color="#1a0000"/><stop offset="0.143" stop-color="#160000"/><stop offset="0.214" stop-color="#140000"/><stop offset="0.286" stop-color="#100000"/><stop offset="0.357" stop-color="#0f0000"/><stop offset="0.429" stop-color="#0e0000"/><stop offset="0.500" stop-color="#100000"/><stop offset="0.571" stop-color="#0e0000"/><stop offset="0.643" stop-color="#0f0000"/><stop offset="0.714" stop-color="#100000"/><stop offset="0.786" stop-color="#140000"/><stop offset="0.857" stop-color="#160000"/><stop offset="0.929" stop-color="#1a0000"/><stop offset="1.000" stop-color="#1d0000"/></linearGradient>
<linearGradient id="g146"><stop offset="0.000" stop-color="#220000"/><stop offset="0.071" stop-color="#1f0000"/><stop offset="0.143" stop-color="#1b0000"/><stop offset="0.214" stop-color="#180000"/><stop offset="0.286" stop-color="#130000"/><stop offset="0.357" stop-color="#130000"/><stop offset="0.429" stop-color="#0f0000"/><stop offset="0.500" stop-color="#120000"/><stop offset="0.571" stop-color="#0f0000"/><stop offset="0.643" stop-color="#130000"/><stop offset="0.714" stop-color="#130000"/><stop offset="0.786" stop-color="#180000"/><stop offset="0.857" stop-color="#1b0000"/><stop offset="0.929" stop-color="#1f0000"/><stop offset="1.000" stop-color="#220000"/></linearGradient>
<linearGradient id="g147"><stop offset="0.000" stop-color="#290000"/><stop offset="0.071" stop-color="#250000"/><stop offset="0.143" stop-color="#200000"/><stop offset="0.214" stop-color="#1c0000"/><stop offset="0.286" stop-color="#160000"/><stop offset="0.357" stop-color="#160000"/><stop offset="0.429" stop-color="#130000"/><stop offset="0.500" stop-color="#130000"/><stop offset="0.571" stop-color="#130000"/><stop offset="0.643" stop-color="#160000"/><stop offset="0.714" stop-color="#160000"/><stop offset="0.786" stop-color="#1c0000"/><stop offset="0.857" stop-color="#200000"/><stop offset="0.929" stop-color="#250000"/><stop offset="1.000" stop-color="#290000"/></linearGradient>
<linearGradient id="g148"><stop offset="0.000" stop-color="#2f0000"/><stop offset="0.071" stop-color="#2b0000"/><stop offset="0.143" stop-color="#250000"/><stop offset="0.214" stop-color="#210000"/><stop offset="0.286" stop-color="#1b0000"/><stop offset="0.357" stop-color="#1a0000"/><stop offset="0.429" stop-color="#180000"/><stop offset="0.500" stop-color="#150000"/><stop offset="0.571" stop-color="#180000"/><stop offset="0.643" stop-color="#1a0000"/><stop offset="0.714" stop-color="#1b0000"/><stop offset="0.786" stop-color="#210000"/><stop offset="0.857" stop-color="#250000"/><stop offset="0.929" stop-color="#2b0000"/><stop offset="1.000" stop-color="#2f0000"/></linearGradient>
<linearGradient id="g149"><stop offset="0.000" stop-color="#370000"/><stop offset="0.071" stop-color="#320000"/><stop offset="0.143" stop-color="#2b0000"/><stop offset="0.214" stop-color="#260000"/><stop offset="0.286" stop-color="#200000"/><stop offset="0.357" stop-color="#1f0000"/><stop offset="0.429" stop-color="#1d0000"/><stop offset="0.500" stop-color="#1b0000"/><stop offset="0.571" stop-color="#1d0000"/><stop offset="0.643" stop-color="#1f0000"/><stop offset="0.714" stop-color="#200000"/><stop offset="0.786" stop-color="#260000"/><stop offset="0.857" stop-color="#2b0000"/><stop offset="0.929" stop-color="#320000"/><stop offset="1.000" stop-color="#370000"/></linearGradient>
<linearGradient id="g150"><stop offset="0.000" stop-color="#3f0000"/><stop offset="0.077" stop-color="#380000"/><stop offset="0.154" stop-color="#300000"/><stop offset="0.231" stop-color="#2b0000"/><stop offset="0.308" stop-color="#230000"/><stop offset="0.385" stop-color="#230000"/><stop offset="0.462" stop-color="#210000"/><stop offset="0.538" stop-color="#210000"/><stop offset="0.615" stop-color="#230000"/><stop offset="0.692" stop-color="#230000"/><stop offset="0.769" stop-color="#2b0000"/><stop offset="0.846" stop-color="#300000"/><stop offset="0.923" stop-color="#380000"/><stop offset="1.000" stop-color="#3f0000"/></linearGradient>
<linearGradient id="g151"><stop offset="0.000" stop-color="#470000"/><stop offset="0.077" stop-color="#400000"/><stop offset="0.154" stop-color="#370000"/><stop offset="0.231" stop-color="#310000"/><stop offset="0.308" stop-color="#290000"/><stop offset="0.385" stop-color="#280000"/><stop offset="0.462" stop-color="#270000"/><stop offset="0.538" stop-color="#270000"/><stop offset="0.615" stop-color="#280000"/><stop offset="0.692" stop-color="#290000"/><stop offset="0.769" stop-color="#310000"/><stop offset="0.846" stop-color="#370000"/><stop offset="0.923" stop-color="#400000"/><stop offset="1.000" stop-color="#470000"/></linearGradient>
<linearGradient id="g152"><stop offset="0.000" stop-color="#500000"/><stop offset="0.077" stop-color="#490000"/><stop offset="0.154" stop-color="#3f0000"/><stop offset="0.231" stop-color="#380000"/><stop offset="0.308" stop-color="#300000"/><stop offset="0.385" stop-color="#2d0000"/><stop offset="0.462" stop-color="#2c0000"/><stop offset="0.538" stop-color="#2c0000"/><stop offset="0.615" stop-color="#2d0000"/><stop offset="0.692" stop-color="#300000"/><stop offset="0.769" stop-color="#380000"/><stop offset="0.846" stop-color="#3f0000"/><stop offset="0.923" stop-color="#490000"/><stop offset="1.000" stop-color="#500000"/></linearGradient>
<linearGradient id="g153"><stop offset="0.000" stop-color="#590000"/><stop offset="0.077" stop-color="#520000"/><stop offset="0.154" stop-color="#470000"/><stop offset="0.231" stop-color="#3f0000"/><stop offset="0.308" stop-color="#380000"/><stop offset="0.385" stop-color="#320000"/><stop offset="0.462" stop-color="#320000"/><stop offset="0.538" stop-color="#320000"/><stop offset="0.615" stop-color="#320000"/><stop offset="0.692" stop-color="#380000"/><stop offset="0.769" stop-color="#3f0000"/><stop offset="0.846" stop-color="#470000"/><stop offset="0.923" stop-color="#520000"/><stop offset="1.000" stop-color="#590000"/></linearGradient>
<linearGradient id="g154"><stop offset="0.000" stop-color="#630000"/><stop offset="0.077" stop-color="#5c0000"/><stop offset="0.154" stop-color="#4f0000"/><stop offset="0.231" stop-color="#460000"/><stop offset="0.308" stop-color="#400000"/><stop offset="0.385" stop-color="#370000"/><stop offset="0.462" stop-color="#370000"/><stop offset="0.538" stop-color="#370000"/><stop offset="0.615" stop-color="#370000"/><stop offset="0.692" stop-color="#400000"/><stop offset="0.769" stop-color="#460000"/><stop offset="0.846" stop-color="#4f0000"/><stop offset="0.923" stop-color="#5c0000"/><stop offset="1.000" stop-color="#630000"/></linearGradient>
<linearGradient id="g155"><stop offset="0.000" stop-color="#6e0000"/><stop offset="0.077" stop-color="#660000"/><stop offset="0.154" stop-color="#580000"/><stop offset="0.231" stop-color="#4e0000"/><stop offset="0.308" stop-color="#480000"/><stop offset="0.385" stop-color="#3d0000"/><stop offset="0.462" stop-color="#3d0000"/><stop offset="0.538" stop-color="#3d0000"/><stop offset="0.615" stop-color="#3d0000"/><stop offset="0.692" stop-color="#480000"/><stop offset="0.769" stop-color="#4e0000"/><stop offset="0.846" stop-color="#580000"/><stop offset="0.923" stop-color="#660000"/><stop offset="1.000" stop-color="#6e0000"/></linearGradient>
<linearGradient id="g156"><stop offset="0.000" stop-color="#790000"/><stop offset="0.077" stop-color="#710000"/><stop offset="0.154" stop-color="#620000"/><stop offset="0.231" stop-color="#560000"/><stop offset="0.308" stop-color="#510000"/><stop offset="0.385" stop-color="#470000"/><stop offset="0.462" stop-color="#430000"/><stop offset="0.538" stop-color="#430000"/><stop offset="0.615" stop-color="#470000"/><stop offset="0.692" stop-color="#510000"/><stop offset="0.769" stop-color="#560000"/><stop offset="0.846" stop-color="#620000"/><stop offset="0.923" stop-color="#710000"/><stop offset="1.000" stop-color="#790000"/></linearGradient>
<linearGradient id="g157"><stop offset="0.000" stop-color="#840000"/><stop offset="0.083" stop-color="#7a0000"/><stop offset="0.167" stop-color="#6a0000"/><stop offset="0.250" stop-color="#5e0000"/><stop offset="0.333" stop-color="#580000"/><stop offset="0.417" stop-color="#4f0000"/><stop offset="0.500" stop-color="#4a0000"/><stop offset="0.583" stop-color="#4f0000"/><stop offset="0.667" stop-color="#580000"/><stop offset="0.750" stop-color="#5e0000"/><stop offset="0.833" stop-color="#6a0000"/><stop offset="0.917" stop-color="#7a0000"/><stop offset="1.000" stop-color="#840000"/></linearGradient>
<linearGradient id="g158"><stop offset="0.000" stop-color="#910000"/><stop offset="0.083" stop-color="#860000"/><stop offset="0.167" stop-color="#750000"/><stop offset="0.250" stop-color="#670000"/><stop offset="0.333" stop-color="#620000"/><stop offset="0.417" stop-color="#5a0000"/><stop offset="0.500" stop-color="#570000"/><stop offset="0.583" stop-color="#5a0000"/><stop offset="0.667" stop-color="#620000"/><stop offset="0.750" stop-color="#670000"/><stop offset="0.833" stop-color="#750000"/><stop offset="0.917" stop-color="#860000"/><stop offset="1.000" stop-color="#910000"/></linearGradient>
<linearGradient id="g159"><stop offset="0.000" stop-color="#9d0000"/><stop offset="0.083" stop-color="#930000"/><stop offset="0.167" stop-color="#800000"/><stop offset="0.250" stop-color="#710000"/><stop offset="0.333" stop-color="#6c0000"/><stop offset="0.417" stop-color="#660000"/><stop offset="0.500" stop-color="#630000"/><stop offset="0.583" stop-color="#660000"/><stop offset="0.667" stop-color="#6c0000"/><stop offset="0.750" stop-color="#710000"/><stop offset="0.833" stop-color="#800000"/><stop offset="0.917" stop-color="#930000"/><stop offset="1.000" stop-color="#9d0000"/></linearGradient>
<linearGradient id="g160"><stop offset="0.000" stop-color="#aa0000"/><stop offset="0.083" stop-color="#a10000"/><stop offset="0.167" stop-color="#8c0000"/><stop offset="0.250" stop-color="#7b0000"/><stop offset="0.333" stop-color="#770000"/><stop offset="0.417" stop-color="#720000"/><stop offset="0.500" stop-color="#700000"/><stop offset="0.583" stop-color="#720000"/><stop offset="0.667" stop-color="#770000"/><stop offset="0.750" stop-color="#7b0000"/><stop offset="0.833" stop-color="#8c0000"/><stop offset="0.917" stop-color="#a10000"/><stop offset="1.000" stop-color="#aa0000"/></linearGradient>
<linearGradient id="g161"><stop offset="0.000" stop-color="#b80000"/><stop offset="0.091" stop-color="#ac0000"/><stop offset="0.182" stop-color="#970000"/><stop offset="0.273" stop-color="#840000"/><stop offset="0.364" stop-color="#810000"/><stop offset="0.455" stop-color="#7d0000"/><stop offset="0.545" stop-color="#7d0000"/><stop offset="0.636" stop-color="#810000"/><stop offset="0.727" stop-color="#840000"/><stop offset="0.818" stop-color="#970000"/><stop offset="0.909" stop-color="#ac0000"/><stop offset="1.000" stop-color="#b80000"/></linearGradient>
<linearGradient id="g162"><stop offset="0.000" stop-color="#c70000"/><stop offset="0.091" stop-color="#bb0000"/><stop offset="0.182" stop-color="#a40000"/><stop offset="0.273" stop-color="#920000"/><stop offset="0.364" stop-color="#8c0000"/><stop offset="0.455" stop-color="#890000"/><stop offset="0.545" stop-color="#890000"/><stop offset="0.636" stop-color="#8c0000"/><stop offset="0.727" stop-color="#920000"/><stop offset="0.818" stop-color="#a40000"/><stop offset="0.909" stop-color="#bb0000"/><stop offset="1.000" stop-color="#c70000"/></linearGradient>
<linearGradient id="g163"><stop offset="0.000" stop-color="#d60000"/><stop offset="0.091" stop-color="#cc0000"/><stop offset="0.182" stop-color="#b20000"/><stop offset="0.273" stop-color="#a10000"/><stop offset="0.364" stop-color="#980000"/><stop offset="0.455" stop-color="#960000"/><stop offset="0.545" stop-color="#960000"/><stop offset="0.636" stop-color="#980000"/><stop offset="0.727" stop-color="#a10000"/><stop offset="0.818" stop-color="#b20000"/><stop offset="0.909" stop-color="#cc0000"/><stop offset="1.000" stop-color="#d60000"/></linearGradient>
<linearGradient id="g164"><stop offset="0.000" stop-color="#e50000"/><stop offset="0.091" stop-color="#dc0000"/><stop offset="0.182" stop-color="#c00000"/><stop offset="0.273" stop-color="#b10000"/><stop offset="0.364" stop-color="#a40000"/><stop offset="0.455" stop-color="#a20000"/><stop offset="0.545" stop-color="#a20000"/><stop offset="0.636" stop-color="#a40000"/><stop offset="0.727" stop-color="#b10000"/><stop offset="0.818" stop-color="#c00000"/><stop offset="0.909" stop-color="#dc0000"/><stop offset="1.000" stop-color="#e50000"/></linearGradient>
<linearGradient id="g165"><stop offset="0.000" stop-color="#f50000"/><stop offset="0.100" stop-color="#ea0000"/><stop offset="0.200" stop-color="#cd0000"/><stop offset="0.300" stop-color="#be0000"/><stop offset="0.400" stop-color="#af0000"/><stop offset="0.500" stop-color="#af0000"/><stop offset="0.600" stop-color="#af0000"/><stop offset="0.700" stop-color="#be0000"/><stop offset="0.800" stop-color="#cd0000"/><stop offset="0.900" stop-color="#ea0000"/><stop offset="1.000" stop-color="#f50000"/></linearGradient>
<linearGradient id="g166"><stop offset="0.000" stop-color="#ff0700"/><stop offset="0.100" stop-color="#fd0000"/><stop offset="0.200" stop-color="#dd0000"/><stop offset="0.300" stop-color="#d00000"/><stop offset="0.400" stop-color="#c30000"/><stop offset="0.500" stop-color="#be0000"/><stop offset="0.600" stop-color="#c30000"/><stop offset="0.700" stop-color="#d00000"/><stop offset="0.800" stop-color="#dd0000"/><stop offset="0.900" stop-color="#fd0000"/><stop offset="1.000" stop-color="#ff0700"/></linearGradient>
<linearGradient id="g167"><stop offset="0.000" stop-color="#ff1800"/><stop offset="0.100" stop-color="#ff1100"/><stop offset="0.200" stop-color="#ed0000"/><stop offset="0.300" stop-color="#e20000"/><stop offset="0.400" stop-color="#d70000"/><stop offset="0.500" stop-color="#d30000"/><stop offset="0.600" stop-color="#d70000"/><stop offset="0.700" stop-color="#e20000"/><stop offset="0.800" stop-color="#ed0000"/><stop offset="0.900" stop-color="#ff1100"/><stop offset="1.000" stop-color="#ff1800"/></linearGradient>
<linearGradient id="g168"><stop offset="0.000" stop-color="#ff2a00"/><stop offset="0.111" stop-color="#ff2100"/><stop offset="0.222" stop-color="#fc0000"/><stop offset="0.333" stop-color="#f10000"/><stop offset="0.444" stop-color="#ea0000"/><stop offset="0.556" stop-color="#ea0000"/><stop offset="0.667" stop-color="#f10000"/><stop offset="0.778" stop-color="#fc0000"/><stop offset="0.889" stop-color="#ff2100"/><stop offset="1.000" stop-color="#ff2a00"/></linearGradient>
<linearGradient id="g169"><stop offset="0.000" stop-color="#ff3d00"/><stop offset="0.111" stop-color="#ff3700"/><stop offset="0.222" stop-color="#ff0f00"/><stop offset="0.333" stop-color="#ff0600"/><stop offset="0.444" stop-color="#ff0000"/><stop offset="0.556" stop-color="#ff0000"/><stop offset="0.667" stop-color="#ff0600"/><stop offset="0.778" stop-color="#ff0f00"/><stop offset="0.889" stop-color="#ff3700"/><stop offset="1.000" stop-color="#ff3d00"/></linearGradient>
<linearGradient id="g170"><stop offset="0.000" stop-color="#ff5000"/><stop offset="0.125" stop-color="#ff4900"/><stop offset="0.250" stop-color="#ff1f00"/><stop offset="0.375" stop-color="#ff1700"/><stop offset="0.500" stop-color="#ff1400"/><stop offset="0.625" stop-color="#ff1700"/><stop offset="0.750" stop-color="#ff1f00"/><stop offset="0.875" stop-color="#ff4900"/><stop offset="1.000" stop-color="#ff5000"/></linearGradient>
<linearGradient id="g171"><stop offset="0.000" stop-color="#ff6400"/><stop offset="0.125" stop-color="#ff6100"/><stop offset="0.250" stop-color="#ff3b00"/><stop offset="0.375" stop-color="#ff2c00"/><stop offset="0.500" stop-color="#ff2a00"/><stop offset="0.625" stop-color="#ff2c00"/><stop offset="0.750" stop-color="#ff3b00"/><stop offset="0.875" stop-color="#ff6100"/><stop offset="1.000" stop-color="#ff6400"/></linearGradient>
<linearGradient id="g172"><stop offset="0.000" stop-color="#ff7900"/><stop offset="0.143" stop-color="#ff7500"/><stop offset="0.286" stop-color="#ff5100"/><stop offset="0.429" stop-color="#ff4000"/><stop offset="0.571" stop-color="#ff4000"/><stop offset="0.714" stop-color="#ff5100"/><stop offset="0.857" stop-color="#ff7500"/><stop offset="1.000" stop-color="#ff7900"/></linearGradient>
<linearGradient id="g173"><stop offset="0.000" stop-color="#ff8e00"/><stop offset="0.143" stop-color="#ff8e00"/><stop offset="0.286" stop-color="#ff7300"/><stop offset="0.429" stop-color="#ff6200"/><stop offset="0.571" stop-color="#ff6200"/><stop offset="0.714" stop-color="#ff7300"/><stop offset="0.857" stop-color="#ff8e00"/><stop offset="1.000" stop-color="#ff8e00"/></linearGradient>
<linearGradient id="g174"><stop offset="0.000" stop-color="#ffa400"/><stop offset="0.167" stop-color="#ffa400"/><stop offset="0.333" stop-color="#ff8f00"/><stop offset="0.500" stop-color="#ff8600"/><stop offset="0.667" stop-color="#ff8f00"/><stop offset="0.833" stop-color="#ffa400"/><stop offset="1.000" stop-color="#ffa400"/></linearGradient>
<linearGradient id="g175"><stop offset="0.000" stop-color="#ffbb00"/><stop offset="0.200" stop-color="#ffbb00"/><stop offset="0.400" stop-color="#ffb000"/><stop offset="0.600" stop-color="#ffb000"/><stop offset="0.800" stop-color="#ffbb00"/><stop offset="1.000" stop-color="#ffbb00"/></linearGradient>
<linearGradient id="g176"><stop offset="0.000" stop-color="#ffd300"/><stop offset="0.250" stop-color="#ffd400"/><stop offset="0.500" stop-color="#ffd100"/><stop offset="0.750" stop-color="#ffd400"/><stop offset="1.000" stop-color="#ffd300"/></linearGradient>
<linearGradient id="g177"><stop offset="0.000" stop-color="#ffee00"/><stop offset="0.250" stop-color="#fff000"/><stop offset="0.500" stop-color="#ffef00"/><stop offset="0.750" stop-color="#fff000"/><stop offset="1.000" stop-color="#ffee00"/></linearGradient>
<linearGradient id="g178"><stop offset="0.000" stop-color="#ffe000"/><stop offset="0.250" stop-color="#fff700"/><stop offset="0.500" stop-color="#ffff00"/><stop offset="0.750" stop-color="#fff700"/><stop offset="1.000" stop-color="#ffe000"/></linearGradient>
<linearGradient id="cb1" x1="0" y1="0" x2="1" y2="0"><stop offset="0" stop-color="#000"/><stop offset="0.5" stop-color="#f00"/><stop offset="0.93" stop-color="#ff0"/><stop offset="1" stop-color="#ff0"/></linearGradient>
<linearGradient id="cb2" x1="0" y1="0" x2="1" y2="0"><stop offset="0" stop-color="#000"/><stop offset="0.5" stop-color="#f00"/><stop offset="0.93" stop-color="#ff0"/><stop offset="1" stop-color="#ff0"/></linearGradient>
<clipPath id="c179"><circle cx="576.30" cy="161.50" r="81.37"/></clipPath>
<filter id="fc179" x="-5%" y="-5%" width="110%" height="110%" color-interpolation-filters="sRGB"><feGaussianBlur stdDeviation="0.9" result="b"/><feTurbulence type="fractalNoise" baseFrequency="0.75" numOctaves="2" seed="4" result="n"/><feColorMatrix in="n" type="matrix" values="1.6 0 0 0 -0.3  1.6 0 0 0 -0.3  1.6 0 0 0 -0.3  0 0 0 0 1" result="n2"/><feComposite operator="arithmetic" in="b" in2="n2" k1="0.26" k2="0.84" k3="0" k4="0"/></filter>
<linearGradient id="g180"><stop offset="0.000" stop-color="#ffdc00"/><stop offset="0.250" stop-color="#ffea00"/><stop offset="0.500" stop-color="#fff000"/><stop offset="0.750" stop-color="#ffea00"/><stop offset="1.000" stop-color="#ffdc00"/></linearGradient>
<linearGradient id="g181"><stop offset="0.000" stop-color="#ffe300"/><stop offset="0.250" stop-color="#ffd500"/><stop offset="0.500" stop-color="#ffce00"/><stop offset="0.750" stop-color="#ffd500"/><stop offset="1.000" stop-color="#ffe300"/></linearGradient>
<linearGradient id="g182"><stop offset="0.000" stop-color="#ffd600"/><stop offset="0.200" stop-color="#ffc000"/><stop offset="0.400" stop-color="#ffad00"/><stop offset="0.600" stop-color="#ffad00"/><stop offset="0.800" stop-color="#ffc000"/><stop offset="1.000" stop-color="#ffd600"/></linearGradient>
<linearGradient id="g183"><stop offset="0.000" stop-color="#ffca00"/><stop offset="0.167" stop-color="#ffaf00"/><stop offset="0.333" stop-color="#ff9300"/><stop offset="0.500" stop-color="#ff8a00"/><stop offset="0.667" stop-color="#ff9300"/><stop offset="0.833" stop-color="#ffaf00"/><stop offset="1.000" stop-color="#ffca00"/></linearGradient>
<linearGradient id="g184"><stop offset="0.000" stop-color="#ffbe00"/><stop offset="0.167" stop-color="#ff9a00"/><stop offset="0.333" stop-color="#ff7600"/><stop offset="0.500" stop-color="#ff6800"/><stop offset="0.667" stop-color="#ff7600"/><stop offset="0.833" stop-color="#ff9a00"/><stop offset="1.000" stop-color="#ffbe00"/></linearGradient>
<linearGradient id="g185"><stop offset="0.000" stop-color="#ffb300"/><stop offset="0.143" stop-color="#ff8e00"/><stop offset="0.286" stop-color="#ff6300"/><stop offset="0.429" stop-color="#ff5700"/><stop offset="0.571" stop-color="#ff5700"/><stop offset="0.714" stop-color="#ff6300"/><stop offset="0.857" stop-color="#ff8e00"/><stop offset="1.000" stop-color="#ffb300"/></linearGradient>
<linearGradient id="g186"><stop offset="0.000" stop-color="#ffa800"/><stop offset="0.125" stop-color="#ff8400"/><stop offset="0.250" stop-color="#ff5700"/><stop offset="0.375" stop-color="#ff4900"/><stop offset="0.500" stop-color="#ff4400"/><stop offset="0.625" stop-color="#ff4900"/><stop offset="0.750" stop-color="#ff5700"/><stop offset="0.875" stop-color="#ff8400"/><stop offset="1.000" stop-color="#ffa800"/></linearGradient>
<linearGradient id="g187"><stop offset="0.000" stop-color="#ff9d00"/><stop offset="0.125" stop-color="#ff7400"/><stop offset="0.250" stop-color="#ff4900"/><stop offset="0.375" stop-color="#ff3900"/><stop offset="0.500" stop-color="#ff3700"/><stop offset="0.625" stop-color="#ff3900"/><stop offset="0.750" stop-color="#ff4900"/><stop offset="0.875" stop-color="#ff7400"/><stop offset="1.000" stop-color="#ff9d00"/></linearGradient>
<linearGradient id="g188"><stop offset="0.000" stop-color="#ff9300"/><stop offset="0.111" stop-color="#ff6c00"/><stop offset="0.222" stop-color="#ff4100"/><stop offset="0.333" stop-color="#ff3200"/><stop offset="0.444" stop-color="#ff2f00"/><stop offset="0.556" stop-color="#ff2f00"/><stop offset="0.667" stop-color="#ff3200"/><stop offset="0.778" stop-color="#ff4100"/><stop offset="0.889" stop-color="#ff6c00"/><stop offset="1.000" stop-color="#ff9300"/></linearGradient>
<linearGradient id="g189"><stop offset="0.000" stop-color="#ff8800"/><stop offset="0.111" stop-color="#ff5e00"/><stop offset="0.222" stop-color="#ff3500"/><stop offset="0.333" stop-color="#ff2a00"/><stop offset="0.444" stop-color="#ff2600"/><stop offset="0.556" stop-color="#ff2600"/><stop offset="0.667" stop-color="#ff2a00"/><stop offset="0.778" stop-color="#ff3500"/><stop offset="0.889" stop-color="#ff5e00"/><stop offset="1.000" stop-color="#ff8800"/></linearGradient>
<linearGradient id="g190"><stop offset="0.000" stop-color="#ff7e00"/><stop offset="0.100" stop-color="#ff5700"/><stop offset="0.200" stop-color="#ff2f00"/><stop offset="0.300" stop-color="#ff2400"/><stop offset="0.400" stop-color="#ff1f00"/><stop offset="0.500" stop-color="#ff1d00"/><stop offset="0.600" stop-color="#ff1f00"/><stop offset="0.700" stop-color="#ff2400"/><stop offset="0.800" stop-color="#ff2f00"/><stop offset="0.900" stop-color="#ff5700"/><stop offset="1.000" stop-color="#ff7e00"/></linearGradient>
<linearGradient id="g191"><stop offset="0.000" stop-color="#ff7400"/><stop offset="0.100" stop-color="#ff4a00"/><stop offset="0.200" stop-color="#ff2400"/><stop offset="0.300" stop-color="#ff1c00"/><stop offset="0.400" stop-color="#ff1700"/><stop offset="0.500" stop-color="#ff1700"/><stop offset="0.600" stop-color="#ff1700"/><stop offset="0.700" stop-color="#ff1c00"/><stop offset="0.800" stop-color="#ff2400"/><stop offset="0.900" stop-color="#ff4a00"/><stop offset="1.000" stop-color="#ff7400"/></linearGradient>
<linearGradient id="g192"><stop offset="0.000" stop-color="#ff6a00"/><stop offset="0.100" stop-color="#ff3f00"/><stop offset="0.200" stop-color="#ff1d00"/><stop offset="0.300" stop-color="#ff1500"/><stop offset="0.400" stop-color="#ff1200"/><stop offset="0.500" stop-color="#ff1200"/><stop offset="0.600" stop-color="#ff1200"/><stop offset="0.700" stop-color="#ff1500"/><stop offset="0.800" stop-color="#ff1d00"/><stop offset="0.900" stop-color="#ff3f00"/><stop offset="1.000" stop-color="#ff6a00"/></linearGradient>
<linearGradient id="g193"><stop offset="0.000" stop-color="#ff6000"/><stop offset="0.091" stop-color="#ff3a00"/><stop offset="0.182" stop-color="#ff1800"/><stop offset="0.273" stop-color="#ff1000"/><stop offset="0.364" stop-color="#ff0e00"/><stop offset="0.455" stop-color="#ff0e00"/><stop offset="0.545" stop-color="#ff0e00"/><stop offset="0.636" stop-color="#ff0e00"/><stop offset="0.727" stop-color="#ff1000"/><stop offset="0.818" stop-color="#ff1800"/><stop offset="0.909" stop-color="#ff3a00"/><stop offset="1.000" stop-color="#ff6000"/></linearGradient>
<linearGradient id="g194"><stop offset="0.000" stop-color="#ff5700"/><stop offset="0.091" stop-color="#ff2f00"/><stop offset="0.182" stop-color="#ff1200"/><stop offset="0.273" stop-color="#ff0900"/><stop offset="0.364" stop-color="#ff0900"/><stop offset="0.455" stop-color="#ff0900"/><stop offset="0.545" stop-color="#ff0900"/><stop offset="0.636" stop-color="#ff0900"/><stop offset="0.727" stop-color="#ff0900"/><stop offset="0.818" stop-color="#ff1200"/><stop offset="0.909" stop-color="#ff2f00"/><stop offset="1.000" stop-color="#ff5700"/></linearGradient>
<linearGradient id="g195"><stop offset="0.000" stop-color="#ff4e00"/><stop offset="0.091" stop-color="#ff2500"/><stop offset="0.182" stop-color="#ff0c00"/><stop offset="0.273" stop-color="#ff0500"/><stop offset="0.364" stop-color="#ff0500"/><stop offset="0.455" stop-color="#ff0500"/><stop offset="0.545" stop-color="#ff0500"/><stop offset="0.636" stop-color="#ff0500"/><stop offset="0.727" stop-color="#ff0500"/><stop offset="0.818" stop-color="#ff0c00"/><stop offset="0.909" stop-color="#ff2500"/><stop offset="1.000" stop-color="#ff4e00"/></linearGradient>
<linearGradient id="g196"><stop offset="0.000" stop-color="#ff4400"/><stop offset="0.083" stop-color="#ff2100"/><stop offset="0.167" stop-color="#ff0800"/><stop offset="0.250" stop-color="#ff0000"/><stop offset="0.333" stop-color="#ff0000"/><stop offset="0.417" stop-color="#ff0000"/><stop offset="0.500" stop-color="#ff0000"/><stop offset="0.583" stop-color="#ff0000"/><stop offset="0.667" stop-color="#ff0000"/><stop offset="0.750" stop-color="#ff0000"/><stop offset="0.833" stop-color="#ff0800"/><stop offset="0.917" stop-color="#ff2100"/><stop offset="1.000" stop-color="#ff4400"/></linearGradient>
<linearGradient id="g197"><stop offset="0.000" stop-color="#ff3b00"/><stop offset="0.083" stop-color="#ff1700"/><stop offset="0.167" stop-color="#ff0200"/><stop offset="0.250" stop-color="#fb0000"/><stop offset="0.333" stop-color="#fb0000"/><stop offset="0.417" stop-color="#fb0000"/><stop offset="0.500" stop-color="#fb0000"/><stop offset="0.583" stop-color="#fb0000"/><stop offset="0.667" stop-color="#fb0000"/><stop offset="0.750" stop-color="#fb0000"/><stop offset="0.833" stop-color="#ff0200"/><stop offset="0.917" stop-color="#ff1700"/><stop offset="1.000" stop-color="#ff3b00"/></linearGradient>
<linearGradient id="g198"><stop offset="0.000" stop-color="#ff3300"/><stop offset="0.083" stop-color="#ff0f00"/><stop offset="0.167" stop-color="#fb0000"/><stop offset="0.250" stop-color="#f70000"/><stop offset="0.333" stop-color="#f70000"/><stop offset="0.417" stop-color="#f70000"/><stop offset="0.500" stop-color="#f70000"/><stop offset="0.583" stop-color="#f70000"/><stop offset="0.667" stop-color="#f70000"/><stop offset="0.750" stop-color="#f70000"/><stop offset="0.833" stop-color="#fb0000"/><stop offset="0.917" stop-color="#ff0f00"/><stop offset="1.000" stop-color="#ff3300"/></linearGradient>
<linearGradient id="g199"><stop offset="0.000" stop-color="#ff2a00"/><stop offset="0.077" stop-color="#ff0b00"/><stop offset="0.154" stop-color="#f70000"/><stop offset="0.231" stop-color="#f20000"/><stop offset="0.308" stop-color="#f20000"/><stop offset="0.385" stop-color="#f20000"/><stop offset="0.462" stop-color="#f30000"/><stop offset="0.538" stop-color="#f30000"/><stop offset="0.615" stop-color="#f20000"/><stop offset="0.692" stop-color="#f20000"/><stop offset="0.769" stop-color="#f20000"/><stop offset="0.846" stop-color="#f70000"/><stop offset="0.923" stop-color="#ff0b00"/><stop offset="1.000" stop-color="#ff2a00"/></linearGradient>
<linearGradient id="g200"><stop offset="0.000" stop-color="#ff2100"/><stop offset="0.077" stop-color="#ff0300"/><stop offset="0.154" stop-color="#f20000"/><stop offset="0.231" stop-color="#ee0000"/><stop offset="0.308" stop-color="#ee0000"/><stop offset="0.385" stop-color="#ee0000"/><stop offset="0.462" stop-color="#ef0000"/><stop offset="0.538" stop-color="#ef0000"/><stop offset="0.615" stop-color="#ee0000"/><stop offset="0.692" stop-color="#ee0000"/><stop offset="0.769" stop-color="#ee0000"/><stop offset="0.846" stop-color="#f20000"/><stop offset="0.923" stop-color="#ff0300"/><stop offset="1.000" stop-color="#ff2100"/></linearGradient>
<linearGradient id="g201"><stop offset="0.000" stop-color="#ff1900"/><stop offset="0.077" stop-color="#fa0000"/><stop offset="0.154" stop-color="#ec0000"/><stop offset="0.231" stop-color="#ea0000"/><stop offset="0.308" stop-color="#ea0000"/><stop offset="0.385" stop-color="#ea0000"/><stop offset="0.462" stop-color="#eb0000"/><stop offset="0.538" stop-color="#eb0000"/><stop offset="0.615" stop-color="#ea0000"/><stop offset="0.692" stop-color="#ea0000"/><stop offset="0.769" stop-color="#ea0000"/><stop offset="0.846" stop-color="#ec0000"/><stop offset="0.923" stop-color="#fa0000"/><stop offset="1.000" stop-color="#ff1900"/></linearGradient>
<linearGradient id="g202"><stop offset="0.000" stop-color="#ff1100"/><stop offset="0.077" stop-color="#f40000"/><stop offset="0.154" stop-color="#e70000"/><stop offset="0.231" stop-color="#e50000"/><stop offset="0.308" stop-color="#e50000"/><stop offset="0.385" stop-color="#e60000"/><stop offset="0.462" stop-color="#e70000"/><stop offset="0.538" stop-color="#e70000"/><stop offset="0.615" stop-color="#e60000"/><stop offset="0.692" stop-color="#e50000"/><stop offset="0.769" stop-color="#e50000"/><stop offset="0.846" stop-color="#e70000"/><stop offset="0.923" stop-color="#f40000"/><stop offset="1.000" stop-color="#ff1100"/></linearGradient>
<linearGradient id="g203"><stop offset="0.000" stop-color="#ff0900"/><stop offset="0.071" stop-color="#f00000"/><stop offset="0.143" stop-color="#e40000"/><stop offset="0.214" stop-color="#e10000"/><stop offset="0.286" stop-color="#e10000"/><stop offset="0.357" stop-color="#e20000"/><stop offset="0.429" stop-color="#e20000"/><stop offset="0.500" stop-color="#e30000"/><stop offset="0.571" stop-color="#e20000"/><stop offset="0.643" stop-color="#e20000"/><stop offset="0.714" stop-color="#e10000"/><stop offset="0.786" stop-color="#e10000"/><stop offset="0.857" stop-color="#e40000"/><stop offset="0.929" stop-color="#f00000"/><stop offset="1.000" stop-color="#ff0900"/></linearGradient>
<linearGradient id="g204"><stop offset="0.000" stop-color="#ff0100"/><stop offset="0.071" stop-color="#e90000"/><stop offset="0.143" stop-color="#df0000"/><stop offset="0.214" stop-color="#dd0000"/><stop offset="0.286" stop-color="#dd0000"/><stop offset="0.357" stop-color="#de0000"/><stop offset="0.429" stop-color="#de0000"/><stop offset="0.500" stop-color="#df0000"/><stop offset="0.571" stop-color="#de0000"/><stop offset="0.643" stop-color="#de0000"/><stop offset="0.714" stop-color="#dd0000"/><stop offset="0.786" stop-color="#dd0000"/><stop offset="0.857" stop-color="#df0000"/><stop offset="0.929" stop-color="#e90000"/><stop offset="1.000" stop-color="#ff0100"/></linearGradient>
<linearGradient id="g205"><stop offset="0.000" stop-color="#f80000"/><stop offset="0.071" stop-color="#e40000"/><stop offset="0.143" stop-color="#da0000"/><stop offset="0.214" stop-color="#d90000"/><stop offset="0.286" stop-color="#d90000"/><stop offset="0.357" stop-color="#da0000"/><stop offset="0.429" stop-color="#db0000"/><stop offset="0.500" stop-color="#db0000"/><stop offset="0.571" stop-color="#db0000"/><stop offset="0.643" stop-color="#da0000"/><stop offset="0.714" stop-color="#d90000"/><stop offset="0.786" stop-color="#d90000"/><stop offset="0.857" stop-color="#da0000"/><stop offset="0.929" stop-color="#e40000"/><stop offset="1.000" stop-color="#f80000"/></linearGradient>
<linearGradient id="g206"><stop offset="0.000" stop-color="#f10000"/><stop offset="0.071" stop-color="#de0000"/><stop offset="0.143" stop-color="#d50000"/><stop offset="0.214" stop-color="#d50000"/><stop offset="0.286" stop-color="#d50000"/><stop offset="0.357" stop-color="#d60000"/><stop offset="0.429" stop-color="#d70000"/><stop offset="0.500" stop-color="#d70000"/><stop offset="0.571" stop-color="#d70000"/><stop offset="0.643" stop-color="#d60000"/><stop offset="0.714" stop-color="#d50000"/><stop offset="0.786" stop-color="#d50000"/><stop offset="0.857" stop-color="#d50000"/><stop offset="0.929" stop-color="#de0000"/><stop offset="1.000" stop-color="#f10000"/></linearGradient>
<linearGradient id="g207"><stop offset="0.000" stop-color="#e90000"/><stop offset="0.071" stop-color="#d80000"/><stop offset="0.143" stop-color="#d00000"/><stop offset="0.214" stop-color="#d10000"/><stop offset="0.286" stop-color="#d10000"/><stop offset="0.357" stop-color="#d20000"/><stop offset="0.429" stop-color="#d30000"/><stop offset="0.500" stop-color="#d40000"/><stop offset="0.571" stop-color="#d30000"/><stop offset="0.643" stop-color="#d20000"/><stop offset="0.714" stop-color="#d10000"/><stop offset="0.786" stop-color="#d10000"/><stop offset="0.857" stop-color="#d00000"/><stop offset="0.929" stop-color="#d80000"/><stop offset="1.000" stop-color="#e90000"/></linearGradient>
<linearGradient id="g208"><stop offset="0.000" stop-color="#e20000"/><stop offset="0.071" stop-color="#d30000"/><stop offset="0.143" stop-color="#cc0000"/><stop offset="0.214" stop-color="#cc0000"/><stop offset="0.286" stop-color="#cd0000"/><stop offset="0.357" stop-color="#ce0000"/><stop offset="0.429" stop-color="#cf0000"/><stop offset="0.500" stop-color="#d00000"/><stop offset="0.571" stop-color="#cf0000"/><stop offset="0.643" stop-color="#ce0000"/><stop offset="0.714" stop-color="#cd0000"/><stop offset="0.786" stop-color="#cc0000"/><stop offset="0.857" stop-color="#cc0000"/><stop offset="0.929" stop-color="#d30000"/><stop offset="1.000" stop-color="#e20000"/></linearGradient>
<linearGradient id="g209"><stop offset="0.000" stop-color="#db0000"/><stop offset="0.067" stop-color="#ce0000"/><stop offset="0.133" stop-color="#c90000"/><stop offset="0.200" stop-color="#c80000"/><stop offset="0.267" stop-color="#c90000"/><stop offset="0.333" stop-color="#ca0000"/><stop offset="0.400" stop-color="#cb0000"/><stop offset="0.467" stop-color="#cc0000"/><stop offset="0.533" stop-color="#cc0000"/><stop offset="0.600" stop-color="#cb0000"/><stop offset="0.667" stop-color="#ca0000"/><stop offset="0.733" stop-color="#c90000"/><stop offset="0.800" stop-color="#c80000"/><stop offset="0.867" stop-color="#c90000"/><stop offset="0.933" stop-color="#ce0000"/><stop offset="1.000" stop-color="#db0000"/></linearGradient>
<linearGradient id="g210"><stop offset="0.000" stop-color="#d40000"/><stop offset="0.067" stop-color="#c90000"/><stop offset="0.133" stop-color="#c40000"/><stop offset="0.200" stop-color="#c40000"/><stop offset="0.267" stop-color="#c50000"/><stop offset="0.333" stop-color="#c60000"/><stop offset="0.400" stop-color="#c80000"/><stop offset="0.467" stop-color="#c80000"/><stop offset="0.533" stop-color="#c80000"/><stop offset="0.600" stop-color="#c80000"/><stop offset="0.667" stop-color="#c60000"/><stop offset="0.733" stop-color="#c50000"/><stop offset="0.800" stop-color="#c40000"/><stop offset="0.867" stop-color="#c40000"/><stop offset="0.933" stop-color="#c90000"/><stop offset="1.000" stop-color="#d40000"/></linearGradient>
<linearGradient id="g211"><stop offset="0.000" stop-color="#cd0000"/><stop offset="0.067" stop-color="#c40000"/><stop offset="0.133" stop-color="#c00000"/><stop offset="0.200" stop-color="#c10000"/><stop offset="0.267" stop-color="#c10000"/><stop offset="0.333" stop-color="#c30000"/><stop offset="0.400" stop-color="#c40000"/><stop offset="0.467" stop-color="#c50000"/><stop offset="0.533" stop-color="#c50000"/><stop offset="0.600" stop-color="#c40000"/><stop offset="0.667" stop-color="#c30000"/><stop offset="0.733" stop-color="#c10000"/><stop offset="0.800" stop-color="#c10000"/><stop offset="0.867" stop-color="#c00000"/><stop offset="0.933" stop-color="#c40000"/><stop offset="1.000" stop-color="#cd0000"/></linearGradient>
<linearGradient id="g212"><stop offset="0.000" stop-color="#c60000"/><stop offset="0.067" stop-color="#bf0000"/><stop offset="0.133" stop-color="#bc0000"/><stop offset="0.200" stop-color="#bd0000"/><stop offset="0.267" stop-color="#be0000"/><stop offset="0.333" stop-color="#bf0000"/><stop offset="0.400" stop-color="#c00000"/><stop offset="0.467" stop-color="#c10000"/><stop offset="0.533" stop-color="#c10000"/><stop offset="0.600" stop-color="#c00000"/><stop offset="0.667" stop-color="#bf0000"/><stop offset="0.733" stop-color="#be0000"/><stop offset="0.800" stop-color="#bd0000"/><stop offset="0.867" stop-color="#bc0000"/><stop offset="0.933" stop-color="#bf0000"/><stop offset="1.000" stop-color="#c60000"/></linearGradient>
<linearGradient id="g213"><stop offset="0.000" stop-color="#c00000"/><stop offset="0.067" stop-color="#bb0000"/><stop offset="0.133" stop-color="#b80000"/><stop offset="0.200" stop-color="#b90000"/><stop offset="0.267" stop-color="#ba0000"/><stop offset="0.333" stop-color="#bb0000"/><stop offset="0.400" stop-color="#bd0000"/><stop offset="0.467" stop-color="#bd0000"/><stop offset="0.533" stop-color="#bd0000"/><stop offset="0.600" stop-color="#bd0000"/><stop offset="0.667" stop-color="#bb0000"/><stop offset="0.733" stop-color="#ba0000"/><stop offset="0.800" stop-color="#b90000"/><stop offset="0.867" stop-color="#b80000"/><stop offset="0.933" stop-color="#bb0000"/><stop offset="1.000" stop-color="#c00000"/></linearGradient>
<linearGradient id="g214"><stop offset="0.000" stop-color="#ba0000"/><stop offset="0.067" stop-color="#b60000"/><stop offset="0.133" stop-color="#b50000"/><stop offset="0.200" stop-color="#b50000"/><stop offset="0.267" stop-color="#b60000"/><stop offset="0.333" stop-color="#b80000"/><stop offset="0.400" stop-color="#b90000"/><stop offset="0.467" stop-color="#ba0000"/><stop offset="0.533" stop-color="#ba0000"/><stop offset="0.600" stop-color="#b90000"/><stop offset="0.667" stop-color="#b80000"/><stop offset="0.733" stop-color="#b60000"/><stop offset="0.800" stop-color="#b50000"/><stop offset="0.867" stop-color="#b50000"/><stop offset="0.933" stop-color="#b60000"/><stop offset="1.000" stop-color="#ba0000"/></linearGradient>
<linearGradient id="g215"><stop offset="0.000" stop-color="#b30000"/><stop offset="0.067" stop-color="#b10000"/><stop offset="0.133" stop-color="#b10000"/><stop offset="0.200" stop-color="#b10000"/><stop offset="0.267" stop-color="#b20000"/><stop offset="0.333" stop-color="#b40000"/><stop offset="0.400" stop-color="#b50000"/><stop offset="0.467" stop-color="#b60000"/><stop offset="0.533" stop-color="#b60000"/><stop offset="0.600" stop-color="#b50000"/><stop offset="0.667" stop-color="#b40000"/><stop offset="0.733" stop-color="#b20000"/><stop offset="0.800" stop-color="#b10000"/><stop offset="0.867" stop-color="#b10000"/><stop offset="0.933" stop-color="#b10000"/><stop offset="1.000" stop-color="#b30000"/></linearGradient>
<linearGradient id="g216"><stop offset="0.000" stop-color="#ad0000"/><stop offset="0.062" stop-color="#ad0000"/><stop offset="0.125" stop-color="#ad0000"/><stop offset="0.188" stop-color="#ad0000"/><stop offset="0.250" stop-color="#ae0000"/><stop offset="0.312" stop-color="#b00000"/><stop offset="0.375" stop-color="#b10000"/><stop offset="0.438" stop-color="#b20000"/><stop offset="0.500" stop-color="#b30000"/><stop offset="0.562" stop-color="#b20000"/><stop offset="0.625" stop-color="#b10000"/><stop offset="0.688" stop-color="#b00000"/><stop offset="0.750" stop-color="#ae0000"/><stop offset="0.812" stop-color="#ad0000"/><stop offset="0.875" stop-color="#ad0000"/><stop offset="0.938" stop-color="#ad0000"/><stop offset="1.000" stop-color="#ad0000"/></linearGradient>
<linearGradient id="g217"><stop offset="0.000" stop-color="#a80000"/><stop offset="0.062" stop-color="#a90000"/><stop offset="0.125" stop-color="#a90000"/><stop offset="0.188" stop-color="#aa0000"/><stop offset="0.250" stop-color="#ab0000"/><stop offset="0.312" stop-color="#ac0000"/><stop offset="0.375" stop-color="#ae0000"/><stop offset="0.438" stop-color="#af0000"/><stop offset="0.500" stop-color="#af0000"/><stop offset="0.562" stop-color="#af0000"/><stop offset="0.625" stop-color="#ae0000"/><stop offset="0.688" stop-color="#ac0000"/><stop offset="0.750" stop-color="#ab0000"/><stop offset="0.812" stop-color="#aa0000"/><stop offset="0.875" stop-color="#a90000"/><stop offset="0.938" stop-color="#a90000"/><stop offset="1.000" stop-color="#a80000"/></linearGradient>
<linearGradient id="g218"><stop offset="0.000" stop-color="#a20000"/><stop offset="0.062" stop-color="#a40000"/><stop offset="0.125" stop-color="#a60000"/><stop offset="0.188" stop-color="#a60000"/><stop offset="0.250" stop-color="#a70000"/><stop offset="0.312" stop-color="#a90000"/><stop offset="0.375" stop-color="#aa0000"/><stop offset="0.438" stop-color="#ab0000"/><stop offset="0.500" stop-color="#ab0000"/><stop offset="0.562" stop-color="#ab0000"/><stop offset="0.625" stop-color="#aa0000"/><stop offset="0.688" stop-color="#a90000"/><stop offset="0.750" stop-color="#a70000"/><stop offset="0.812" stop-color="#a60000"/><stop offset="0.875" stop-color="#a60000"/><stop offset="0.938" stop-color="#a40000"/><stop offset="1.000" stop-color="#a20000"/></linearGradient>
<linearGradient id="g219"><stop offset="0.000" stop-color="#9c0000"/><stop offset="0.062" stop-color="#a00000"/><stop offset="0.125" stop-color="#a20000"/><stop offset="0.188" stop-color="#a30000"/><stop offset="0.250" stop-color="#a30000"/><stop offset="0.312" stop-color="#a50000"/><stop offset="0.375" stop-color="#a60000"/><stop offset="0.438" stop-color="#a70000"/><stop offset="0.500" stop-color="#a80000"/><stop offset="0.562" stop-color="#a70000"/><stop offset="0.625" stop-color="#a60000"/><stop offset="0.688" stop-color="#a50000"/><stop offset="0.750" stop-color="#a30000"/><stop offset="0.812" stop-color="#a30000"/><stop offset="0.875" stop-color="#a20000"/><stop offset="0.938" stop-color="#a00000"/><stop offset="1.000" stop-color="#9c0000"/></linearGradient>
<linearGradient id="g220"><stop offset="0.000" stop-color="#970000"/><stop offset="0.062" stop-color="#9c0000"/><stop offset="0.125" stop-color="#9f0000"/><stop offset="0.188" stop-color="#9f0000"/><stop offset="0.250" stop-color="#a00000"/><stop offset="0.312" stop-color="#a20000"/><stop offset="0.375" stop-color="#a30000"/><stop offset="0.438" stop-color="#a40000"/><stop offset="0.500" stop-color="#a40000"/><stop offset="0.562" stop-color="#a40000"/><stop offset="0.625" stop-color="#a30000"/><stop offset="0.688" stop-color="#a20000"/><stop offset="0.750" stop-color="#a00000"/><stop offset="0.812" stop-color="#9f0000"/><stop offset="0.875" stop-color="#9f0000"/><stop offset="0.938" stop-color="#9c0000"/><stop offset="1.000" stop-color="#970000"/></linearGradient>
<linearGradient id="g221"><stop offset="0.000" stop-color="#920000"/><stop offset="0.062" stop-color="#980000"/><stop offset="0.125" stop-color="#9b0000"/><stop offset="0.188" stop-color="#9c0000"/><stop offset="0.250" stop-color="#9d0000"/><stop offset="0.312" stop-color="#9e0000"/><stop offset="0.375" stop-color="#9f0000"/><stop offset="0.438" stop-color="#a00000"/><stop offset="0.500" stop-color="#a00000"/><stop offset="0.562" stop-color="#a00000"/><stop offset="0.625" stop-color="#9f0000"/><stop offset="0.688" stop-color="#9e0000"/><stop offset="0.750" stop-color="#9d0000"/><stop offset="0.812" stop-color="#9c0000"/><stop offset="0.875" stop-color="#9b0000"/><stop offset="0.938" stop-color="#980000"/><stop offset="1.000" stop-color="#920000"/></linearGradient>
<linearGradient id="g222"><stop offset="0.000" stop-color="#8d0000"/><stop offset="0.062" stop-color="#940000"/><stop offset="0.125" stop-color="#980000"/><stop offset="0.188" stop-color="#980000"/><stop offset="0.250" stop-color="#990000"/><stop offset="0.312" stop-color="#9b0000"/><stop offset="0.375" stop-color="#9c0000"/><stop offset="0.438" stop-color="#9d0000"/><stop offset="0.500" stop-color="#9d0000"/><stop offset="0.562" stop-color="#9d0000"/><stop offset="0.625" stop-color="#9c0000"/><stop offset="0.688" stop-color="#9b0000"/><stop offset="0.750" stop-color="#990000"/><stop offset="0.812" stop-color="#980000"/><stop offset="0.875" stop-color="#980000"/><stop offset="0.938" stop-color="#940000"/><stop offset="1.000" stop-color="#8d0000"/></linearGradient>
<linearGradient id="g223"><stop offset="0.000" stop-color="#880000"/><stop offset="0.062" stop-color="#910000"/><stop offset="0.125" stop-color="#940000"/><stop offset="0.188" stop-color="#950000"/><stop offset="0.250" stop-color="#960000"/><stop offset="0.312" stop-color="#970000"/><stop offset="0.375" stop-color="#990000"/><stop offset="0.438" stop-color="#990000"/><stop offset="0.500" stop-color="#990000"/><stop offset="0.562" stop-color="#990000"/><stop offset="0.625" stop-color="#990000"/><stop offset="0.688" stop-color="#970000"/><stop offset="0.750" stop-color="#960000"/><stop offset="0.812" stop-color="#950000"/><stop offset="0.875" stop-color="#940000"/><stop offset="0.938" stop-color="#910000"/><stop offset="1.000" stop-color="#880000"/></linearGradient>
<linearGradient id="g224"><stop offset="0.000" stop-color="#840000"/><stop offset="0.062" stop-color="#8d0000"/><stop offset="0.125" stop-color="#910000"/><stop offset="0.188" stop-color="#920000"/><stop offset="0.250" stop-color="#930000"/><stop offset="0.312" stop-color="#940000"/><stop offset="0.375" stop-color="#950000"/><stop offset="0.438" stop-color="#960000"/><stop offset="0.500" stop-color="#960000"/><stop offset="0.562" stop-color="#960000"/><stop offset="0.625" stop-color="#950000"/><stop offset="0.688" stop-color="#940000"/><stop offset="0.750" stop-color="#930000"/><stop offset="0.812" stop-color="#920000"/><stop offset="0.875" stop-color="#910000"/><stop offset="0.938" stop-color="#8d0000"/><stop offset="1.000" stop-color="#840000"/></linearGradient>
<linearGradient id="g225"><stop offset="0.000" stop-color="#7f0000"/><stop offset="0.062" stop-color="#890000"/><stop offset="0.125" stop-color="#8e0000"/><stop offset="0.188" stop-color="#8e0000"/><stop offset="0.250" stop-color="#8f0000"/><stop offset="0.312" stop-color="#910000"/><stop offset="0.375" stop-color="#920000"/><stop offset="0.438" stop-color="#920000"/><stop offset="0.500" stop-color="#920000"/><stop offset="0.562" stop-color="#920000"/><stop offset="0.625" stop-color="#920000"/><stop offset="0.688" stop-color="#910000"/><stop offset="0.750" stop-color="#8f0000"/><stop offset="0.812" stop-color="#8e0000"/><stop offset="0.875" stop-color="#8e0000"/><stop offset="0.938" stop-color="#890000"/><stop offset="1.000" stop-color="#7f0000"/></linearGradient>
<linearGradient id="g226"><stop offset="0.000" stop-color="#7b0000"/><stop offset="0.062" stop-color="#860000"/><stop offset="0.125" stop-color="#8b0000"/><stop offset="0.188" stop-color="#8b0000"/><stop offset="0.250" stop-color="#8c0000"/><stop offset="0.312" stop-color="#8d0000"/><stop offset="0.375" stop-color="#8f0000"/><stop offset="0.438" stop-color="#8f0000"/><stop offset="0.500" stop-color="#8f0000"/><stop offset="0.562" stop-color="#8f0000"/><stop offset="0.625" stop-color="#8f0000"/><stop offset="0.688" stop-color="#8d0000"/><stop offset="0.750" stop-color="#8c0000"/><stop offset="0.812" stop-color="#8b0000"/><stop offset="0.875" stop-color="#8b0000"/><stop offset="0.938" stop-color="#860000"/><stop offset="1.000" stop-color="#7b0000"/></linearGradient>
<linearGradient id="g227"><stop offset="0.000" stop-color="#770000"/><stop offset="0.062" stop-color="#830000"/><stop offset="0.125" stop-color="#880000"/><stop offset="0.188" stop-color="#880000"/><stop offset="0.250" stop-color="#890000"/><stop offset="0.312" stop-color="#8a0000"/><stop offset="0.375" stop-color="#8b0000"/><stop offset="0.438" stop-color="#8c0000"/><stop offset="0.500" stop-color="#8c0000"/><stop offset="0.562" stop-color="#8c0000"/><stop offset="0.625" stop-color="#8b0000"/><stop offset="0.688" stop-color="#8a0000"/><stop offset="0.750" stop-color="#890000"/><stop offset="0.812" stop-color="#880000"/><stop offset="0.875" stop-color="#880000"/><stop offset="0.938" stop-color="#830000"/><stop offset="1.000" stop-color="#770000"/></linearGradient>
<linearGradient id="g228"><stop offset="0.000" stop-color="#730000"/><stop offset="0.062" stop-color="#800000"/><stop offset="0.125" stop-color="#850000"/><stop offset="0.188" stop-color="#850000"/><stop offset="0.250" stop-color="#860000"/><stop offset="0.312" stop-color="#870000"/><stop offset="0.375" stop-color="#880000"/><stop offset="0.438" stop-color="#890000"/><stop offset="0.500" stop-color="#880000"/><stop offset="0.562" stop-color="#890000"/><stop offset="0.625" stop-color="#880000"/><stop offset="0.688" stop-color="#870000"/><stop offset="0.750" stop-color="#860000"/><stop offset="0.812" stop-color="#850000"/><stop offset="0.875" stop-color="#850000"/><stop offset="0.938" stop-color="#800000"/><stop offset="1.000" stop-color="#730000"/></linearGradient>
<linearGradient id="g229"><stop offset="0.000" stop-color="#6f0000"/><stop offset="0.062" stop-color="#7d0000"/><stop offset="0.125" stop-color="#820000"/><stop offset="0.188" stop-color="#830000"/><stop offset="0.250" stop-color="#830000"/><stop offset="0.312" stop-color="#840000"/><stop offset="0.375" stop-color="#850000"/><stop offset="0.438" stop-color="#860000"/><stop offset="0.500" stop-color="#850000"/><stop offset="0.562" stop-color="#860000"/><stop offset="0.625" stop-color="#850000"/><stop offset="0.688" stop-color="#840000"/><stop offset="0.750" stop-color="#830000"/><stop offset="0.812" stop-color="#830000"/><stop offset="0.875" stop-color="#820000"/><stop offset="0.938" stop-color="#7d0000"/><stop offset="1.000" stop-color="#6f0000"/></linearGradient>
<linearGradient id="g230"><stop offset="0.000" stop-color="#6c0000"/><stop offset="0.062" stop-color="#7a0000"/><stop offset="0.125" stop-color="#7f0000"/><stop offset="0.188" stop-color="#800000"/><stop offset="0.250" stop-color="#810000"/><stop offset="0.312" stop-color="#820000"/><stop offset="0.375" stop-color="#820000"/><stop offset="0.438" stop-color="#830000"/><stop offset="0.500" stop-color="#820000"/><stop offset="0.562" stop-color="#830000"/><stop offset="0.625" stop-color="#820000"/><stop offset="0.688" stop-color="#820000"/><stop offset="0.750" stop-color="#810000"/><stop offset="0.812" stop-color="#800000"/><stop offset="0.875" stop-color="#7f0000"/><stop offset="0.938" stop-color="#7a0000"/><stop offset="1.000" stop-color="#6c0000"/></linearGradient>
<linearGradient id="g231"><stop offset="0.000" stop-color="#690000"/><stop offset="0.062" stop-color="#770000"/><stop offset="0.125" stop-color="#7d0000"/><stop offset="0.188" stop-color="#7d0000"/><stop offset="0.250" stop-color="#7e0000"/><stop offset="0.312" stop-color="#7f0000"/><stop offset="0.375" stop-color="#800000"/><stop offset="0.438" stop-color="#800000"/><stop offset="0.500" stop-color="#800000"/><stop offset="0.562" stop-color="#800000"/><stop offset="0.625" stop-color="#800000"/><stop offset="0.688" stop-color="#7f0000"/><stop offset="0.750" stop-color="#7e0000"/><stop offset="0.812" stop-color="#7d0000"/><stop offset="0.875" stop-color="#7d0000"/><stop offset="0.938" stop-color="#770000"/><stop offset="1.000" stop-color="#690000"/></linearGradient>
<linearGradient id="g232"><stop offset="0.000" stop-color="#660000"/><stop offset="0.062" stop-color="#740000"/><stop offset="0.125" stop-color="#7a0000"/><stop offset="0.188" stop-color="#7b0000"/><stop offset="0.250" stop-color="#7c0000"/><stop offset="0.312" stop-color="#7c0000"/><stop offset="0.375" stop-color="#7d0000"/><stop offset="0.438" stop-color="#7e0000"/><stop offset="0.500" stop-color="#7e0000"/><stop offset="0.562" stop-color="#7e0000"/><stop offset="0.625" stop-color="#7d0000"/><stop offset="0.688" stop-color="#7c0000"/><stop offset="0.750" stop-color="#7c0000"/><stop offset="0.812" stop-color="#7b0000"/><stop offset="0.875" stop-color="#7a0000"/><stop offset="0.938" stop-color="#740000"/><stop offset="1.000" stop-color="#660000"/></linearGradient>
<linearGradient id="g233"><stop offset="0.000" stop-color="#640000"/><stop offset="0.059" stop-color="#710000"/><stop offset="0.118" stop-color="#780000"/><stop offset="0.176" stop-color="#790000"/><stop offset="0.235" stop-color="#790000"/><stop offset="0.294" stop-color="#7a0000"/><stop offset="0.353" stop-color="#7b0000"/><stop offset="0.412" stop-color="#7b0000"/><stop offset="0.471" stop-color="#7b0000"/><stop offset="0.529" stop-color="#7b0000"/><stop offset="0.588" stop-color="#7b0000"/><stop offset="0.647" stop-color="#7b0000"/><stop offset="0.706" stop-color="#7a0000"/><stop offset="0.765" stop-color="#790000"/><stop offset="0.824" stop-color="#790000"/><stop offset="0.882" stop-color="#780000"/><stop offset="0.941" stop-color="#710000"/><stop offset="1.000" stop-color="#640000"/></linearGradient>
<linearGradient id="g234"><stop offset="0.000" stop-color="#620000"/><stop offset="0.059" stop-color="#700000"/><stop offset="0.118" stop-color="#760000"/><stop offset="0.176" stop-color="#770000"/><stop offset="0.235" stop-color="#770000"/><stop offset="0.294" stop-color="#780000"/><stop offset="0.353" stop-color="#790000"/><stop offset="0.412" stop-color="#790000"/><stop offset="0.471" stop-color="#7a0000"/><stop offset="0.529" stop-color="#7a0000"/><stop offset="0.588" stop-color="#790000"/><stop offset="0.647" stop-color="#790000"/><stop offset="0.706" stop-color="#780000"/><stop offset="0.765" stop-color="#770000"/><stop offset="0.824" stop-color="#770000"/><stop offset="0.882" stop-color="#760000"/><stop offset="0.941" stop-color="#700000"/><stop offset="1.000" stop-color="#620000"/></linearGradient>
<linearGradient id="g235"><stop offset="0.000" stop-color="#610000"/><stop offset="0.059" stop-color="#6f0000"/><stop offset="0.118" stop-color="#760000"/><stop offset="0.176" stop-color="#760000"/><stop offset="0.235" stop-color="#770000"/><stop offset="0.294" stop-color="#770000"/><stop offset="0.353" stop-color="#780000"/><stop offset="0.412" stop-color="#790000"/><stop offset="0.471" stop-color="#790000"/><stop offset="0.529" stop-color="#790000"/><stop offset="0.588" stop-color="#790000"/><stop offset="0.647" stop-color="#780000"/><stop offset="0.706" stop-color="#770000"/><stop offset="0.765" stop-color="#770000"/><stop offset="0.824" stop-color="#760000"/><stop offset="0.882" stop-color="#760000"/><stop offset="0.941" stop-color="#6f0000"/><stop offset="1.000" stop-color="#610000"/></linearGradient>
<linearGradient id="g236"><stop offset="0.000" stop-color="#610000"/><stop offset="0.059" stop-color="#6f0000"/><stop offset="0.118" stop-color="#760000"/><stop offset="0.176" stop-color="#760000"/><stop offset="0.235" stop-color="#770000"/><stop offset="0.294" stop-color="#770000"/><stop offset="0.353" stop-color="#780000"/><stop offset="0.412" stop-color="#790000"/><stop offset="0.471" stop-color="#790000"/><stop offset="0.529" stop-color="#790000"/><stop offset="0.588" stop-color="#790000"/><stop offset="0.647" stop-color="#780000"/><stop offset="0.706" stop-color="#770000"/><stop offset="0.765" stop-color="#770000"/><stop offset="0.824" stop-color="#760000"/><stop offset="0.882" stop-color="#760000"/><stop offset="0.941" stop-color="#6f0000"/><stop offset="1.000" stop-color="#610000"/></linearGradient>
<linearGradient id="g237"><stop offset="0.000" stop-color="#610000"/><stop offset="0.062" stop-color="#700000"/><stop offset="0.125" stop-color="#760000"/><stop offset="0.188" stop-color="#760000"/><stop offset="0.250" stop-color="#770000"/><stop offset="0.312" stop-color="#780000"/><stop offset="0.375" stop-color="#780000"/><stop offset="0.438" stop-color="#790000"/><stop offset="0.500" stop-color="#7c0000"/><stop offset="0.562" stop-color="#790000"/><stop offset="0.625" stop-color="#780000"/><stop offset="0.688" stop-color="#780000"/><stop offset="0.750" stop-color="#770000"/><stop offset="0.812" stop-color="#760000"/><stop offset="0.875" stop-color="#760000"/><stop offset="0.938" stop-color="#700000"/><stop offset="1.000" stop-color="#610000"/></linearGradient>
<linearGradient id="g238"><stop offset="0.000" stop-color="#610000"/><stop offset="0.062" stop-color="#700000"/><stop offset="0.125" stop-color="#760000"/><stop offset="0.188" stop-color="#770000"/><stop offset="0.250" stop-color="#770000"/><stop offset="0.312" stop-color="#780000"/><stop offset="0.375" stop-color="#780000"/><stop offset="0.438" stop-color="#7a0000"/><stop offset="0.500" stop-color="#7d0000"/><stop offset="0.562" stop-color="#7a0000"/><stop offset="0.625" stop-color="#780000"/><stop offset="0.688" stop-color="#780000"/><stop offset="0.750" stop-color="#770000"/><stop offset="0.812" stop-color="#770000"/><stop offset="0.875" stop-color="#760000"/><stop offset="0.938" stop-color="#700000"/><stop offset="1.000" stop-color="#610000"/></linearGradient>
<linearGradient id="g239"><stop offset="0.000" stop-color="#610000"/><stop offset="0.062" stop-color="#700000"/><stop offset="0.125" stop-color="#760000"/><stop offset="0.188" stop-color="#770000"/><stop offset="0.250" stop-color="#770000"/><stop offset="0.312" stop-color="#780000"/><stop offset="0.375" stop-color="#790000"/><stop offset="0.438" stop-color="#7a0000"/><stop offset="0.500" stop-color="#7e0000"/><stop offset="0.562" stop-color="#7a0000"/><stop offset="0.625" stop-color="#790000"/><stop offset="0.688" stop-color="#780000"/><stop offset="0.750" stop-color="#770000"/><stop offset="0.812" stop-color="#770000"/><stop offset="0.875" stop-color="#760000"/><stop offset="0.938" stop-color="#700000"/><stop offset="1.000" stop-color="#610000"/></linearGradient>
<linearGradient id="g240"><stop offset="0.000" stop-color="#620000"/><stop offset="0.062" stop-color="#710000"/><stop offset="0.125" stop-color="#770000"/><stop offset="0.188" stop-color="#770000"/><stop offset="0.250" stop-color="#780000"/><stop offset="0.312" stop-color="#780000"/><stop offset="0.375" stop-color="#790000"/><stop offset="0.438" stop-color="#7b0000"/><stop offset="0.500" stop-color="#7e0000"/><stop offset="0.562" stop-color="#7b0000"/><stop offset="0.625" stop-color="#790000"/><stop offset="0.688" stop-color="#780000"/><stop offset="0.750" stop-color="#780000"/><stop offset="0.812" stop-color="#770000"/><stop offset="0.875" stop-color="#770000"/><stop offset="0.938" stop-color="#710000"/><stop offset="1.000" stop-color="#620000"/></linearGradient>
<linearGradient id="g241"><stop offset="0.000" stop-color="#620000"/><stop offset="0.062" stop-color="#710000"/><stop offset="0.125" stop-color="#770000"/><stop offset="0.188" stop-color="#780000"/><stop offset="0.250" stop-color="#780000"/><stop offset="0.312" stop-color="#790000"/><stop offset="0.375" stop-color="#7a0000"/><stop offset="0.438" stop-color="#7c0000"/><stop offset="0.500" stop-color="#7f0000"/><stop offset="0.562" stop-color="#7c0000"/><stop offset="0.625" stop-color="#7a0000"/><stop offset="0.688" stop-color="#790000"/><stop offset="0.750" stop-color="#780000"/><stop offset="0.812" stop-color="#780000"/><stop offset="0.875" stop-color="#770000"/><stop offset="0.938" stop-color="#710000"/><stop offset="1.000" stop-color="#620000"/></linearGradient>
<linearGradient id="g242"><stop offset="0.000" stop-color="#630000"/><stop offset="0.062" stop-color="#720000"/><stop offset="0.125" stop-color="#780000"/><stop offset="0.188" stop-color="#780000"/><stop offset="0.250" stop-color="#790000"/><stop offset="0.312" stop-color="#790000"/><stop offset="0.375" stop-color="#7b0000"/><stop offset="0.438" stop-color="#7d0000"/><stop offset="0.500" stop-color="#800000"/><stop offset="0.562" stop-color="#7d0000"/><stop offset="0.625" stop-color="#7b0000"/><stop offset="0.688" stop-color="#790000"/><stop offset="0.750" stop-color="#790000"/><stop offset="0.812" stop-color="#780000"/><stop offset="0.875" stop-color="#780000"/><stop offset="0.938" stop-color="#720000"/><stop offset="1.000" stop-color="#630000"/></linearGradient>
<linearGradient id="g243"><stop offset="0.000" stop-color="#640000"/><stop offset="0.062" stop-color="#730000"/><stop offset="0.125" stop-color="#790000"/><stop offset="0.188" stop-color="#790000"/><stop offset="0.250" stop-color="#7a0000"/><stop offset="0.312" stop-color="#7a0000"/><stop offset="0.375" stop-color="#7c0000"/><stop offset="0.438" stop-color="#7e0000"/><stop offset="0.500" stop-color="#810000"/><stop offset="0.562" stop-color="#7e0000"/><stop offset="0.625" stop-color="#7c0000"/><stop offset="0.688" stop-color="#7a0000"/><stop offset="0.750" stop-color="#7a0000"/><stop offset="0.812" stop-color="#790000"/><stop offset="0.875" stop-color="#790000"/><stop offset="0.938" stop-color="#730000"/><stop offset="1.000" stop-color="#640000"/></linearGradient>
<linearGradient id="g244"><stop offset="0.000" stop-color="#650000"/><stop offset="0.062" stop-color="#740000"/><stop offset="0.125" stop-color="#7a0000"/><stop offset="0.188" stop-color="#7a0000"/><stop offset="0.250" stop-color="#7b0000"/><stop offset="0.312" stop-color="#7b0000"/><stop offset="0.375" stop-color="#7d0000"/><stop offset="0.438" stop-color="#7f0000"/><stop offset="0.500" stop-color="#820000"/><stop offset="0.562" stop-color="#7f0000"/><stop offset="0.625" stop-color="#7d0000"/><stop offset="0.688" stop-color="#7b0000"/><stop offset="0.750" stop-color="#7b0000"/><stop offset="0.812" stop-color="#7a0000"/><stop offset="0.875" stop-color="#7a0000"/><stop offset="0.938" stop-color="#740000"/><stop offset="1.000" stop-color="#650000"/></linearGradient>
<linearGradient id="g245"><stop offset="0.000" stop-color="#660000"/><stop offset="0.062" stop-color="#760000"/><stop offset="0.125" stop-color="#7b0000"/><stop offset="0.188" stop-color="#7b0000"/><stop offset="0.250" stop-color="#7c0000"/><stop offset="0.312" stop-color="#7c0000"/><stop offset="0.375" stop-color="#7e0000"/><stop offset="0.438" stop-color="#810000"/><stop offset="0.500" stop-color="#830000"/><stop offset="0.562" stop-color="#810000"/><stop offset="0.625" stop-color="#7e0000"/><stop offset="0.688" stop-color="#7c0000"/><stop offset="0.750" stop-color="#7c0000"/><stop offset="0.812" stop-color="#7b0000"/><stop offset="0.875" stop-color="#7b0000"/><stop offset="0.938" stop-color="#760000"/><stop offset="1.000" stop-color="#660000"/></linearGradient>
<linearGradient id="g246"><stop offset="0.000" stop-color="#670000"/><stop offset="0.062" stop-color="#770000"/><stop offset="0.125" stop-color="#7d0000"/><stop offset="0.188" stop-color="#7c0000"/><stop offset="0.250" stop-color="#7d0000"/><stop offset="0.312" stop-color="#7e0000"/><stop offset="0.375" stop-color="#7f0000"/><stop offset="0.438" stop-color="#820000"/><stop offset="0.500" stop-color="#840000"/><stop offset="0.562" stop-color="#820000"/><stop offset="0.625" stop-color="#7f0000"/><stop offset="0.688" stop-color="#7e0000"/><stop offset="0.750" stop-color="#7d0000"/><stop offset="0.812" stop-color="#7c0000"/><stop offset="0.875" stop-color="#7d0000"/><stop offset="0.938" stop-color="#770000"/><stop offset="1.000" stop-color="#670000"/></linearGradient>
<linearGradient id="g247"><stop offset="0.000" stop-color="#690000"/><stop offset="0.062" stop-color="#790000"/><stop offset="0.125" stop-color="#7f0000"/><stop offset="0.188" stop-color="#7e0000"/><stop offset="0.250" stop-color="#7e0000"/><stop offset="0.312" stop-color="#7f0000"/><stop offset="0.375" stop-color="#810000"/><stop offset="0.438" stop-color="#830000"/><stop offset="0.500" stop-color="#850000"/><stop offset="0.562" stop-color="#830000"/><stop offset="0.625" stop-color="#810000"/><stop offset="0.688" stop-color="#7f0000"/><stop offset="0.750" stop-color="#7e0000"/><stop offset="0.812" stop-color="#7e0000"/><stop offset="0.875" stop-color="#7f0000"/><stop offset="0.938" stop-color="#790000"/><stop offset="1.000" stop-color="#690000"/></linearGradient>
<linearGradient id="g248"><stop offset="0.000" stop-color="#6b0000"/><stop offset="0.062" stop-color="#7b0000"/><stop offset="0.125" stop-color="#810000"/><stop offset="0.188" stop-color="#7f0000"/><stop offset="0.250" stop-color="#800000"/><stop offset="0.312" stop-color="#810000"/><stop offset="0.375" stop-color="#820000"/><stop offset="0.438" stop-color="#850000"/><stop offset="0.500" stop-color="#860000"/><stop offset="0.562" stop-color="#850000"/><stop offset="0.625" stop-color="#820000"/><stop offset="0.688" stop-color="#810000"/><stop offset="0.750" stop-color="#800000"/><stop offset="0.812" stop-color="#7f0000"/><stop offset="0.875" stop-color="#810000"/><stop offset="0.938" stop-color="#7b0000"/><stop offset="1.000" stop-color="#6b0000"/></linearGradient>
<linearGradient id="g249"><stop offset="0.000" stop-color="#6d0000"/><stop offset="0.062" stop-color="#7d0000"/><stop offset="0.125" stop-color="#830000"/><stop offset="0.188" stop-color="#810000"/><stop offset="0.250" stop-color="#820000"/><stop offset="0.312" stop-color="#830000"/><stop offset="0.375" stop-color="#840000"/><stop offset="0.438" stop-color="#870000"/><stop offset="0.500" stop-color="#880000"/><stop offset="0.562" stop-color="#870000"/><stop offset="0.625" stop-color="#840000"/><stop offset="0.688" stop-color="#830000"/><stop offset="0.750" stop-color="#820000"/><stop offset="0.812" stop-color="#810000"/><stop offset="0.875" stop-color="#830000"/><stop offset="0.938" stop-color="#7d0000"/><stop offset="1.000" stop-color="#6d0000"/></linearGradient>
<linearGradient id="g250"><stop offset="0.000" stop-color="#6f0000"/><stop offset="0.062" stop-color="#800000"/><stop offset="0.125" stop-color="#850000"/><stop offset="0.188" stop-color="#840000"/><stop offset="0.250" stop-color="#840000"/><stop offset="0.312" stop-color="#850000"/><stop offset="0.375" stop-color="#860000"/><stop offset="0.438" stop-color="#890000"/><stop offset="0.500" stop-color="#8a0000"/><stop offset="0.562" stop-color="#890000"/><stop offset="0.625" stop-color="#860000"/><stop offset="0.688" stop-color="#850000"/><stop offset="0.750" stop-color="#840000"/><stop offset="0.812" stop-color="#840000"/><stop offset="0.875" stop-color="#850000"/><stop offset="0.938" stop-color="#800000"/><stop offset="1.000" stop-color="#6f0000"/></linearGradient>
<linearGradient id="g251"><stop offset="0.000" stop-color="#720000"/><stop offset="0.062" stop-color="#830000"/><stop offset="0.125" stop-color="#880000"/><stop offset="0.188" stop-color="#860000"/><stop offset="0.250" stop-color="#860000"/><stop offset="0.312" stop-color="#870000"/><stop offset="0.375" stop-color="#880000"/><stop offset="0.438" stop-color="#8b0000"/><stop offset="0.500" stop-color="#8c0000"/><stop offset="0.562" stop-color="#8b0000"/><stop offset="0.625" stop-color="#880000"/><stop offset="0.688" stop-color="#870000"/><stop offset="0.750" stop-color="#860000"/><stop offset="0.812" stop-color="#860000"/><stop offset="0.875" stop-color="#880000"/><stop offset="0.938" stop-color="#830000"/><stop offset="1.000" stop-color="#720000"/></linearGradient>
<linearGradient id="g252"><stop offset="0.000" stop-color="#740000"/><stop offset="0.062" stop-color="#860000"/><stop offset="0.125" stop-color="#8b0000"/><stop offset="0.188" stop-color="#890000"/><stop offset="0.250" stop-color="#890000"/><stop offset="0.312" stop-color="#8a0000"/><stop offset="0.375" stop-color="#8a0000"/><stop offset="0.438" stop-color="#8d0000"/><stop offset="0.500" stop-color="#8e0000"/><stop offset="0.562" stop-color="#8d0000"/><stop offset="0.625" stop-color="#8a0000"/><stop offset="0.688" stop-color="#8a0000"/><stop offset="0.750" stop-color="#890000"/><stop offset="0.812" stop-color="#890000"/><stop offset="0.875" stop-color="#8b0000"/><stop offset="0.938" stop-color="#860000"/><stop offset="1.000" stop-color="#740000"/></linearGradient>
<linearGradient id="g253"><stop offset="0.000" stop-color="#770000"/><stop offset="0.062" stop-color="#8a0000"/><stop offset="0.125" stop-color="#8f0000"/><stop offset="0.188" stop-color="#8c0000"/><stop offset="0.250" stop-color="#8c0000"/><stop offset="0.312" stop-color="#8d0000"/><stop offset="0.375" stop-color="#8d0000"/><stop offset="0.438" stop-color="#8f0000"/><stop offset="0.500" stop-color="#910000"/><stop offset="0.562" stop-color="#8f0000"/><stop offset="0.625" stop-color="#8d0000"/><stop offset="0.688" stop-color="#8d0000"/><stop offset="0.750" stop-color="#8c0000"/><stop offset="0.812" stop-color="#8c0000"/><stop offset="0.875" stop-color="#8f0000"/><stop offset="0.938" stop-color="#8a0000"/><stop offset="1.000" stop-color="#770000"/></linearGradient>
<linearGradient id="g254"><stop offset="0.000" stop-color="#7b0000"/><stop offset="0.067" stop-color="#8f0000"/><stop offset="0.133" stop-color="#920000"/><stop offset="0.200" stop-color="#8f0000"/><stop offset="0.267" stop-color="#8f0000"/><stop offset="0.333" stop-color="#900000"/><stop offset="0.400" stop-color="#900000"/><stop offset="0.467" stop-color="#930000"/><stop offset="0.533" stop-color="#930000"/><stop offset="0.600" stop-color="#900000"/><stop offset="0.667" stop-color="#900000"/><stop offset="0.733" stop-color="#8f0000"/><stop offset="0.800" stop-color="#8f0000"/><stop offset="0.867" stop-color="#920000"/><stop offset="0.933" stop-color="#8f0000"/><stop offset="1.000" stop-color="#7b0000"/></linearGradient>
<linearGradient id="g255"><stop offset="0.000" stop-color="#7e0000"/><stop offset="0.067" stop-color="#930000"/><stop offset="0.133" stop-color="#960000"/><stop offset="0.200" stop-color="#930000"/><stop offset="0.267" stop-color="#920000"/><stop offset="0.333" stop-color="#940000"/><stop offset="0.400" stop-color="#940000"/><stop offset="0.467" stop-color="#950000"/><stop offset="0.533" stop-color="#950000"/><stop offset="0.600" stop-color="#940000"/><stop offset="0.667" stop-color="#940000"/><stop offset="0.733" stop-color="#920000"/><stop offset="0.800" stop-color="#930000"/><stop offset="0.867" stop-color="#960000"/><stop offset="0.933" stop-color="#930000"/><stop offset="1.000" stop-color="#7e0000"/></linearGradient>
<linearGradient id="g256"><stop offset="0.000" stop-color="#820000"/><stop offset="0.067" stop-color="#970000"/><stop offset="0.133" stop-color="#9b0000"/><stop offset="0.200" stop-color="#970000"/><stop offset="0.267" stop-color="#960000"/><stop offset="0.333" stop-color="#970000"/><stop offset="0.400" stop-color="#980000"/><stop offset="0.467" stop-color="#970000"/><stop offset="0.533" stop-color="#970000"/><stop offset="0.600" stop-color="#980000"/><stop offset="0.667" stop-color="#970000"/><stop offset="0.733" stop-color="#960000"/><stop offset="0.800" stop-color="#970000"/><stop offset="0.867" stop-color="#9b0000"/><stop offset="0.933" stop-color="#970000"/><stop offset="1.000" stop-color="#820000"/></linearGradient>
<linearGradient id="g257"><stop offset="0.000" stop-color="#860000"/><stop offset="0.067" stop-color="#9c0000"/><stop offset="0.133" stop-color="#a00000"/><stop offset="0.200" stop-color="#9b0000"/><stop offset="0.267" stop-color="#990000"/><stop offset="0.333" stop-color="#9b0000"/><stop offset="0.400" stop-color="#9c0000"/><stop offset="0.467" stop-color="#9b0000"/><stop offset="0.533" stop-color="#9b0000"/><stop offset="0.600" stop-color="#9c0000"/><stop offset="0.667" stop-color="#9b0000"/><stop offset="0.733" stop-color="#990000"/><stop offset="0.800" stop-color="#9b0000"/><stop offset="0.867" stop-color="#a00000"/><stop offset="0.933" stop-color="#9c0000"/><stop offset="1.000" stop-color="#860000"/></linearGradient>
<linearGradient id="g258"><stop offset="0.000" stop-color="#8b0000"/><stop offset="0.067" stop-color="#a10000"/><stop offset="0.133" stop-color="#a50000"/><stop offset="0.200" stop-color="#a00000"/><stop offset="0.267" stop-color="#9d0000"/><stop offset="0.333" stop-color="#9e0000"/><stop offset="0.400" stop-color="#a00000"/><stop offset="0.467" stop-color="#a00000"/><stop offset="0.533" stop-color="#a00000"/><stop offset="0.600" stop-color="#a00000"/><stop offset="0.667" stop-color="#9e0000"/><stop offset="0.733" stop-color="#9d0000"/><stop offset="0.800" stop-color="#a00000"/><stop offset="0.867" stop-color="#a50000"/><stop offset="0.933" stop-color="#a10000"/><stop offset="1.000" stop-color="#8b0000"/></linearGradient>
<linearGradient id="g259"><stop offset="0.000" stop-color="#900000"/><stop offset="0.067" stop-color="#a70000"/><stop offset="0.133" stop-color="#ab0000"/><stop offset="0.200" stop-color="#a50000"/><stop offset="0.267" stop-color="#a20000"/><stop offset="0.333" stop-color="#a20000"/><stop offset="0.400" stop-color="#a50000"/><stop offset="0.467" stop-color="#a50000"/><stop offset="0.533" stop-color="#a50000"/><stop offset="0.600" stop-color="#a50000"/><stop offset="0.667" stop-color="#a20000"/><stop offset="0.733" stop-color="#a20000"/><stop offset="0.800" stop-color="#a50000"/><stop offset="0.867" stop-color="#ab0000"/><stop offset="0.933" stop-color="#a70000"/><stop offset="1.000" stop-color="#900000"/></linearGradient>
<linearGradient id="g260"><stop offset="0.000" stop-color="#950000"/><stop offset="0.067" stop-color="#ac0000"/><stop offset="0.133" stop-color="#b10000"/><stop offset="0.200" stop-color="#ab0000"/><stop offset="0.267" stop-color="#a60000"/><stop offset="0.333" stop-color="#a70000"/><stop offset="0.400" stop-color="#a90000"/><stop offset="0.467" stop-color="#aa0000"/><stop offset="0.533" stop-color="#aa0000"/><stop offset="0.600" stop-color="#a90000"/><stop offset="0.667" stop-color="#a70000"/><stop offset="0.733" stop-color="#a60000"/><stop offset="0.800" stop-color="#ab0000"/><stop offset="0.867" stop-color="#b10000"/><stop offset="0.933" stop-color="#ac0000"/><stop offset="1.000" stop-color="#950000"/></linearGradient>
<linearGradient id="g261"><stop offset="0.000" stop-color="#9a0000"/><stop offset="0.071" stop-color="#b40000"/><stop offset="0.143" stop-color="#b70000"/><stop offset="0.214" stop-color="#b00000"/><stop offset="0.286" stop-color="#ab0000"/><stop offset="0.357" stop-color="#ac0000"/><stop offset="0.429" stop-color="#ae0000"/><stop offset="0.500" stop-color="#af0000"/><stop offset="0.571" stop-color="#ae0000"/><stop offset="0.643" stop-color="#ac0000"/><stop offset="0.714" stop-color="#ab0000"/><stop offset="0.786" stop-color="#b00000"/><stop offset="0.857" stop-color="#b70000"/><stop offset="0.929" stop-color="#b40000"/><stop offset="1.000" stop-color="#9a0000"/></linearGradient>
<linearGradient id="g262"><stop offset="0.000" stop-color="#a00000"/><stop offset="0.071" stop-color="#bb0000"/><stop offset="0.143" stop-color="#be0000"/><stop offset="0.214" stop-color="#b60000"/><stop offset="0.286" stop-color="#b00000"/><stop offset="0.357" stop-color="#b20000"/><stop offset="0.429" stop-color="#b30000"/><stop offset="0.500" stop-color="#b40000"/><stop offset="0.571" stop-color="#b30000"/><stop offset="0.643" stop-color="#b20000"/><stop offset="0.714" stop-color="#b00000"/><stop offset="0.786" stop-color="#b60000"/><stop offset="0.857" stop-color="#be0000"/><stop offset="0.929" stop-color="#bb0000"/><stop offset="1.000" stop-color="#a00000"/></linearGradient>
<linearGradient id="g263"><stop offset="0.000" stop-color="#a60000"/><stop offset="0.071" stop-color="#c20000"/><stop offset="0.143" stop-color="#c50000"/><stop offset="0.214" stop-color="#bd0000"/><stop offset="0.286" stop-color="#b60000"/><stop offset="0.357" stop-color="#b70000"/><stop offset="0.429" stop-color="#b80000"/><stop offset="0.500" stop-color="#b90000"/><stop offset="0.571" stop-color="#b80000"/><stop offset="0.643" stop-color="#b70000"/><stop offset="0.714" stop-color="#b60000"/><stop offset="0.786" stop-color="#bd0000"/><stop offset="0.857" stop-color="#c50000"/><stop offset="0.929" stop-color="#c20000"/><stop offset="1.000" stop-color="#a60000"/></linearGradient>
<linearGradient id="g264"><stop offset="0.000" stop-color="#ad0000"/><stop offset="0.071" stop-color="#c90000"/><stop offset="0.143" stop-color="#ce0000"/><stop offset="0.214" stop-color="#c50000"/><stop offset="0.286" stop-color="#bb0000"/><stop offset="0.357" stop-color="#bd0000"/><stop offset="0.429" stop-color="#be0000"/><stop offset="0.500" stop-color="#be0000"/><stop offset="0.571" stop-color="#be0000"/><stop offset="0.643" stop-color="#bd0000"/><stop offset="0.714" stop-color="#bb0000"/><stop offset="0.786" stop-color="#c50000"/><stop offset="0.857" stop-color="#ce0000"/><stop offset="0.929" stop-color="#c90000"/><stop offset="1.000" stop-color="#ad0000"/></linearGradient>
<linearGradient id="g265"><stop offset="0.000" stop-color="#b40000"/><stop offset="0.071" stop-color="#d00000"/><stop offset="0.143" stop-color="#d60000"/><stop offset="0.214" stop-color="#ce0000"/><stop offset="0.286" stop-color="#c40000"/><stop offset="0.357" stop-color="#c30000"/><stop offset="0.429" stop-color="#c40000"/><stop offset="0.500" stop-color="#c40000"/><stop offset="0.571" stop-color="#c40000"/><stop offset="0.643" stop-color="#c30000"/><stop offset="0.714" stop-color="#c40000"/><stop offset="0.786" stop-color="#ce0000"/><stop offset="0.857" stop-color="#d60000"/><stop offset="0.929" stop-color="#d00000"/><stop offset="1.000" stop-color="#b40000"/></linearGradient>
<linearGradient id="g266"><stop offset="0.000" stop-color="#bb0000"/><stop offset="0.071" stop-color="#d80000"/><stop offset="0.143" stop-color="#df0000"/><stop offset="0.214" stop-color="#d60000"/><stop offset="0.286" stop-color="#cd0000"/><stop offset="0.357" stop-color="#c90000"/><stop offset="0.429" stop-color="#cb0000"/><stop offset="0.500" stop-color="#cb0000"/><stop offset="0.571" stop-color="#cb0000"/><stop offset="0.643" stop-color="#c90000"/><stop offset="0.714" stop-color="#cd0000"/><stop offset="0.786" stop-color="#d60000"/><stop offset="0.857" stop-color="#df0000"/><stop offset="0.929" stop-color="#d80000"/><stop offset="1.000" stop-color="#bb0000"/></linearGradient>
<linearGradient id="g267"><stop offset="0.000" stop-color="#c30000"/><stop offset="0.077" stop-color="#e30000"/><stop offset="0.154" stop-color="#e80000"/><stop offset="0.231" stop-color="#de0000"/><stop offset="0.308" stop-color="#d30000"/><stop offset="0.385" stop-color="#d00000"/><stop offset="0.462" stop-color="#d10000"/><stop offset="0.538" stop-color="#d10000"/><stop offset="0.615" stop-color="#d00000"/><stop offset="0.692" stop-color="#d30000"/><stop offset="0.769" stop-color="#de0000"/><stop offset="0.846" stop-color="#e80000"/><stop offset="0.923" stop-color="#e30000"/><stop offset="1.000" stop-color="#c30000"/></linearGradient>
<linearGradient id="g268"><stop offset="0.000" stop-color="#cb0000"/><stop offset="0.077" stop-color="#eb0000"/><stop offset="0.154" stop-color="#f20000"/><stop offset="0.231" stop-color="#e80000"/><stop offset="0.308" stop-color="#dd0000"/><stop offset="0.385" stop-color="#d70000"/><stop offset="0.462" stop-color="#d80000"/><stop offset="0.538" stop-color="#d80000"/><stop offset="0.615" stop-color="#d70000"/><stop offset="0.692" stop-color="#dd0000"/><stop offset="0.769" stop-color="#e80000"/><stop offset="0.846" stop-color="#f20000"/><stop offset="0.923" stop-color="#eb0000"/><stop offset="1.000" stop-color="#cb0000"/></linearGradient>
<linearGradient id="g269"><stop offset="0.000" stop-color="#d40000"/><stop offset="0.077" stop-color="#f40000"/><stop offset="0.154" stop-color="#fd0000"/><stop offset="0.231" stop-color="#f20000"/><stop offset="0.308" stop-color="#e80000"/><stop offset="0.385" stop-color="#de0000"/><stop offset="0.462" stop-color="#df0000"/><stop offset="0.538" stop-color="#df0000"/><stop offset="0.615" stop-color="#de0000"/><stop offset="0.692" stop-color="#e80000"/><stop offset="0.769" stop-color="#f20000"/><stop offset="0.846" stop-color="#fd0000"/><stop offset="0.923" stop-color="#f40000"/><stop offset="1.000" stop-color="#d40000"/></linearGradient>
<linearGradient id="g270"><stop offset="0.000" stop-color="#dd0000"/><stop offset="0.077" stop-color="#fd0000"/><stop offset="0.154" stop-color="#ff0900"/><stop offset="0.231" stop-color="#fd0000"/><stop offset="0.308" stop-color="#f30000"/><stop offset="0.385" stop-color="#eb0000"/><stop offset="0.462" stop-color="#e60000"/><stop offset="0.538" stop-color="#e60000"/><stop offset="0.615" stop-color="#eb0000"/><stop offset="0.692" stop-color="#f30000"/><stop offset="0.769" stop-color="#fd0000"/><stop offset="0.846" stop-color="#ff0900"/><stop offset="0.923" stop-color="#fd0000"/><stop offset="1.000" stop-color="#dd0000"/></linearGradient>
<linearGradient id="g271"><stop offset="0.000" stop-color="#e60000"/><stop offset="0.083" stop-color="#ff0b00"/><stop offset="0.167" stop-color="#ff1300"/><stop offset="0.250" stop-color="#ff0800"/><stop offset="0.333" stop-color="#fd0000"/><stop offset="0.417" stop-color="#f50000"/><stop offset="0.500" stop-color="#f20000"/><stop offset="0.583" stop-color="#f50000"/><stop offset="0.667" stop-color="#fd0000"/><stop offset="0.750" stop-color="#ff0800"/><stop offset="0.833" stop-color="#ff1300"/><stop offset="0.917" stop-color="#ff0b00"/><stop offset="1.000" stop-color="#e60000"/></linearGradient>
<linearGradient id="g272"><stop offset="0.000" stop-color="#f00000"/><stop offset="0.083" stop-color="#ff1500"/><stop offset="0.167" stop-color="#ff2000"/><stop offset="0.250" stop-color="#ff1400"/><stop offset="0.333" stop-color="#ff0b00"/><stop offset="0.417" stop-color="#ff0400"/><stop offset="0.500" stop-color="#ff0100"/><stop offset="0.583" stop-color="#ff0400"/><stop offset="0.667" stop-color="#ff0b00"/><stop offset="0.750" stop-color="#ff1400"/><stop offset="0.833" stop-color="#ff2000"/><stop offset="0.917" stop-color="#ff1500"/><stop offset="1.000" stop-color="#f00000"/></linearGradient>
<linearGradient id="g273"><stop offset="0.000" stop-color="#fa0000"/><stop offset="0.083" stop-color="#ff1f00"/><stop offset="0.167" stop-color="#ff2c00"/><stop offset="0.250" stop-color="#ff2000"/><stop offset="0.333" stop-color="#ff1900"/><stop offset="0.417" stop-color="#ff1200"/><stop offset="0.500" stop-color="#ff1000"/><stop offset="0.583" stop-color="#ff1200"/><stop offset="0.667" stop-color="#ff1900"/><stop offset="0.750" stop-color="#ff2000"/><stop offset="0.833" stop-color="#ff2c00"/><stop offset="0.917" stop-color="#ff1f00"/><stop offset="1.000" stop-color="#fa0000"/></linearGradient>
<linearGradient id="g274"><stop offset="0.000" stop-color="#ff0600"/><stop offset="0.091" stop-color="#ff2c00"/><stop offset="0.182" stop-color="#ff3800"/><stop offset="0.273" stop-color="#ff2c00"/><stop offset="0.364" stop-color="#ff2500"/><stop offset="0.455" stop-color="#ff1f00"/><stop offset="0.545" stop-color="#ff1f00"/><stop offset="0.636" stop-color="#ff2500"/><stop offset="0.727" stop-color="#ff2c00"/><stop offset="0.818" stop-color="#ff3800"/><stop offset="0.909" stop-color="#ff2c00"/><stop offset="1.000" stop-color="#ff0600"/></linearGradient>
<linearGradient id="g275"><stop offset="0.000" stop-color="#ff1100"/><stop offset="0.091" stop-color="#ff3700"/><stop offset="0.182" stop-color="#ff4500"/><stop offset="0.273" stop-color="#ff3b00"/><stop offset="0.364" stop-color="#ff3400"/><stop offset="0.455" stop-color="#ff2f00"/><stop offset="0.545" stop-color="#ff2f00"/><stop offset="0.636" stop-color="#ff3400"/><stop offset="0.727" stop-color="#ff3b00"/><stop offset="0.818" stop-color="#ff4500"/><stop offset="0.909" stop-color="#ff3700"/><stop offset="1.000" stop-color="#ff1100"/></linearGradient>
<linearGradient id="g276"><stop offset="0.000" stop-color="#ff1d00"/><stop offset="0.091" stop-color="#ff4300"/><stop offset="0.182" stop-color="#ff5300"/><stop offset="0.273" stop-color="#ff4c00"/><stop offset="0.364" stop-color="#ff4300"/><stop offset="0.455" stop-color="#ff3f00"/><stop offset="0.545" stop-color="#ff3f00"/><stop offset="0.636" stop-color="#ff4300"/><stop offset="0.727" stop-color="#ff4c00"/><stop offset="0.818" stop-color="#ff5300"/><stop offset="0.909" stop-color="#ff4300"/><stop offset="1.000" stop-color="#ff1d00"/></linearGradient>
<linearGradient id="g277"><stop offset="0.000" stop-color="#ff2900"/><stop offset="0.100" stop-color="#ff5100"/><stop offset="0.200" stop-color="#ff6100"/><stop offset="0.300" stop-color="#ff5a00"/><stop offset="0.400" stop-color="#ff5100"/><stop offset="0.500" stop-color="#ff4f00"/><stop offset="0.600" stop-color="#ff5100"/><stop offset="0.700" stop-color="#ff5a00"/><stop offset="0.800" stop-color="#ff6100"/><stop offset="0.900" stop-color="#ff5100"/><stop offset="1.000" stop-color="#ff2900"/></linearGradient>
<linearGradient id="g278"><stop offset="0.000" stop-color="#ff3600"/><stop offset="0.100" stop-color="#ff5d00"/><stop offset="0.200" stop-color="#ff7000"/><stop offset="0.300" stop-color="#ff6c00"/><stop offset="0.400" stop-color="#ff6300"/><stop offset="0.500" stop-color="#ff6000"/><stop offset="0.600" stop-color="#ff6300"/><stop offset="0.700" stop-color="#ff6c00"/><stop offset="0.800" stop-color="#ff7000"/><stop offset="0.900" stop-color="#ff5d00"/><stop offset="1.000" stop-color="#ff3600"/></linearGradient>
<linearGradient id="g279"><stop offset="0.000" stop-color="#ff4400"/><stop offset="0.100" stop-color="#ff6900"/><stop offset="0.200" stop-color="#ff7f00"/><stop offset="0.300" stop-color="#ff7f00"/><stop offset="0.400" stop-color="#ff7800"/><stop offset="0.500" stop-color="#ff7500"/><stop offset="0.600" stop-color="#ff7800"/><stop offset="0.700" stop-color="#ff7f00"/><stop offset="0.800" stop-color="#ff7f00"/><stop offset="0.900" stop-color="#ff6900"/><stop offset="1.000" stop-color="#ff4400"/></linearGradient>
<linearGradient id="g280"><stop offset="0.000" stop-color="#ff5200"/><stop offset="0.111" stop-color="#ff7800"/><stop offset="0.222" stop-color="#ff8f00"/><stop offset="0.333" stop-color="#ff8f00"/><stop offset="0.444" stop-color="#ff8b00"/><stop offset="0.556" stop-color="#ff8b00"/><stop offset="0.667" stop-color="#ff8f00"/><stop offset="0.778" stop-color="#ff8f00"/><stop offset="0.889" stop-color="#ff7800"/><stop offset="1.000" stop-color="#ff5200"/></linearGradient>
<linearGradient id="g281"><stop offset="0.000" stop-color="#ff6000"/><stop offset="0.111" stop-color="#ff8500"/><stop offset="0.222" stop-color="#ff9f00"/><stop offset="0.333" stop-color="#ffa000"/><stop offset="0.444" stop-color="#ffa000"/><stop offset="0.556" stop-color="#ffa000"/><stop offset="0.667" stop-color="#ffa000"/><stop offset="0.778" stop-color="#ff9f00"/><stop offset="0.889" stop-color="#ff8500"/><stop offset="1.000" stop-color="#ff6000"/></linearGradient>
<linearGradient id="g282"><stop offset="0.000" stop-color="#ff6f00"/><stop offset="0.125" stop-color="#ff9500"/><stop offset="0.250" stop-color="#ffb100"/><stop offset="0.375" stop-color="#ffb100"/><stop offset="0.500" stop-color="#ffb100"/><stop offset="0.625" stop-color="#ffb100"/><stop offset="0.750" stop-color="#ffb100"/><stop offset="0.875" stop-color="#ff9500"/><stop offset="1.000" stop-color="#ff6f00"/></linearGradient>
<linearGradient id="g283"><stop offset="0.000" stop-color="#ff7f00"/><stop offset="0.125" stop-color="#ffa100"/><stop offset="0.250" stop-color="#ffba00"/><stop offset="0.375" stop-color="#ffc300"/><stop offset="0.500" stop-color="#ffc300"/><stop offset="0.625" stop-color="#ffc300"/><stop offset="0.750" stop-color="#ffba00"/><stop offset="0.875" stop-color="#ffa100"/><stop offset="1.000" stop-color="#ff7f00"/></linearGradient>
<linearGradient id="g284"><stop offset="0.000" stop-color="#ff8f00"/><stop offset="0.143" stop-color="#ffb100"/><stop offset="0.286" stop-color="#ffc800"/><stop offset="0.429" stop-color="#ffd400"/><stop offset="0.571" stop-color="#ffd400"/><stop offset="0.714" stop-color="#ffc800"/><stop offset="0.857" stop-color="#ffb100"/><stop offset="1.000" stop-color="#ff8f00"/></linearGradient>
<linearGradient id="g285"><stop offset="0.000" stop-color="#ffa100"/><stop offset="0.167" stop-color="#ffc100"/><stop offset="0.333" stop-color="#ffd400"/><stop offset="0.500" stop-color="#ffdb00"/><stop offset="0.667" stop-color="#ffd400"/><stop offset="0.833" stop-color="#ffc100"/><stop offset="1.000" stop-color="#ffa100"/></linearGradient>
<linearGradient id="g286"><stop offset="0.000" stop-color="#ffb300"/><stop offset="0.167" stop-color="#ffcc00"/><stop offset="0.333" stop-color="#ffdb00"/><stop offset="0.500" stop-color="#ffe000"/><stop offset="0.667" stop-color="#ffdb00"/><stop offset="0.833" stop-color="#ffcc00"/><stop offset="1.000" stop-color="#ffb300"/></linearGradient>
<linearGradient id="g287"><stop offset="0.000" stop-color="#ffc600"/><stop offset="0.200" stop-color="#ffda00"/><stop offset="0.400" stop-color="#ffe500"/><stop offset="0.600" stop-color="#ffe500"/><stop offset="0.800" stop-color="#ffda00"/><stop offset="1.000" stop-color="#ffc600"/></linearGradient>
<linearGradient id="g288"><stop offset="0.000" stop-color="#ffda00"/><stop offset="0.250" stop-color="#ffe700"/><stop offset="0.500" stop-color="#ffeb00"/><stop offset="0.750" stop-color="#ffe700"/><stop offset="1.000" stop-color="#ffda00"/></linearGradient>
<linearGradient id="g289"><stop offset="0.000" stop-color="#ffcf00"/><stop offset="0.250" stop-color="#ffe700"/><stop offset="0.500" stop-color="#fff000"/><stop offset="0.750" stop-color="#ffe700"/><stop offset="1.000" stop-color="#ffcf00"/></linearGradient>
<linearGradient id="cb3" x1="0" y1="0" x2="1" y2="0"><stop offset="0" stop-color="#000"/><stop offset="0.5" stop-color="#f00"/><stop offset="0.93" stop-color="#ff0"/><stop offset="1" stop-color="#ff0"/></linearGradient>
<radialGradient id="lobe" gradientUnits="userSpaceOnUse" cx="160.5" cy="186.7" r="46"><stop offset="0" stop-color="#5b3a98"/><stop offset="0.11" stop-color="#4a68b4"/><stop offset="0.25" stop-color="#3f98b0"/><stop offset="0.39" stop-color="#4db8a0"/><stop offset="0.52" stop-color="#6cc890"/><stop offset="0.64" stop-color="#9fd868"/><stop offset="0.80" stop-color="#d0e24c"/><stop offset="0.93" stop-color="#f0ed3e"/><stop offset="1" stop-color="#f4ef3c"/></radialGradient>
<radialGradient id="dimple" cx="0.5" cy="0.66" r="0.6" fx="0.5" fy="0.72"><stop offset="0" stop-color="#5cbc96"/><stop offset="0.4" stop-color="#80cc80"/><stop offset="0.72" stop-color="#b8de5c"/><stop offset="0.9" stop-color="#e6ea44" stop-opacity="0.85"/><stop offset="1" stop-color="#f4ef3c" stop-opacity="0"/></radialGradient>
<linearGradient id="kgrad" gradientUnits="userSpaceOnUse" x1="-0.945" y1="0" x2="0.945" y2="0"><stop offset="0" stop-color="#ffd452"/><stop offset="0.03" stop-color="#fca448"/><stop offset="0.09" stop-color="#f6864a"/><stop offset="0.2" stop-color="#ee764a"/><stop offset="0.3" stop-color="#c4563e"/><stop offset="0.4" stop-color="#a04232"/><stop offset="0.5" stop-color="#8c3629"/><stop offset="0.6" stop-color="#a04232"/><stop offset="0.7" stop-color="#c4563e"/><stop offset="0.8" stop-color="#ee764a"/><stop offset="0.91" stop-color="#f6864a"/><stop offset="0.97" stop-color="#fca448"/><stop offset="1" stop-color="#ffd452"/></linearGradient>
<linearGradient id="kgrad2" gradientUnits="userSpaceOnUse" x1="0" y1="-0.945" x2="0" y2="0.945"><stop offset="0" stop-color="#3b2420" stop-opacity="0.7"/><stop offset="0.28" stop-color="#3b2420" stop-opacity="0"/><stop offset="0.72" stop-color="#3b2420" stop-opacity="0"/><stop offset="1" stop-color="#3b2420" stop-opacity="0.7"/></linearGradient>
<filter id="kblur" x="-5%" y="-5%" width="110%" height="110%"><feGaussianBlur stdDeviation="0.6"/></filter>
</defs>
<rect x="0" y="0" width="685" height="459" fill="#fff"/>
<text transform="translate(-0.50,11.80) scale(1.075,1)" font-size="16" text-anchor="start" fill="#000" font-weight="bold">a</text>
<text transform="translate(299.30,11.80) scale(1.075,1)" font-size="16" text-anchor="start" fill="#000" font-weight="bold">b</text>
<text transform="translate(-0.50,256.00) scale(1.075,1)" font-size="16" text-anchor="start" fill="#000" font-weight="bold">c</text>
<rect x="42.80" y="304.20" width="109.20" height="109.20" fill="#000"/>
<g><g clip-path="url(#c1)">
<rect x="86.03" y="313.89" width="22.75" height="1.62" fill="url(#g2)"/>
<rect x="89.23" y="314.91" width="16.35" height="1.62" fill="url(#g3)"/>
<rect x="84.47" y="315.93" width="25.87" height="1.62" fill="url(#g4)"/>
<rect x="81.23" y="316.95" width="32.34" height="1.62" fill="url(#g5)"/>
<rect x="78.64" y="317.98" width="37.52" height="1.62" fill="url(#g6)"/>
<rect x="76.44" y="319.00" width="41.91" height="1.62" fill="url(#g7)"/>
<rect x="74.52" y="320.02" width="45.77" height="1.62" fill="url(#g8)"/>
<rect x="72.80" y="321.04" width="49.21" height="1.62" fill="url(#g9)"/>
<rect x="71.23" y="322.06" width="52.33" height="1.62" fill="url(#g10)"/>
<rect x="69.80" y="323.08" width="55.19" height="1.62" fill="url(#g11)"/>
<rect x="68.49" y="324.10" width="57.82" height="1.62" fill="url(#g12)"/>
<rect x="67.27" y="325.12" width="60.27" height="1.62" fill="url(#g13)"/>
<rect x="66.13" y="326.14" width="62.54" height="1.62" fill="url(#g14)"/>
<rect x="65.07" y="327.16" width="64.66" height="1.62" fill="url(#g15)"/>
<rect x="64.08" y="328.18" width="66.65" height="1.62" fill="url(#g16)"/>
<rect x="63.14" y="329.20" width="68.51" height="1.62" fill="url(#g17)"/>
<rect x="62.27" y="330.22" width="70.26" height="1.62" fill="url(#g18)"/>
<rect x="61.45" y="331.24" width="71.91" height="1.62" fill="url(#g19)"/>
<rect x="60.67" y="332.26" width="73.46" height="1.62" fill="url(#g20)"/>
<rect x="59.94" y="333.28" width="74.91" height="1.62" fill="url(#g21)"/>
<rect x="59.26" y="334.31" width="76.29" height="1.62" fill="url(#g22)"/>
<rect x="58.61" y="335.33" width="77.58" height="1.62" fill="url(#g23)"/>
<rect x="58.00" y="336.35" width="78.79" height="1.62" fill="url(#g24)"/>
<rect x="57.43" y="337.37" width="79.93" height="1.62" fill="url(#g25)"/>
<rect x="56.90" y="338.39" width="81.01" height="1.62" fill="url(#g26)"/>
<rect x="56.39" y="339.41" width="82.01" height="1.62" fill="url(#g27)"/>
<rect x="55.92" y="340.43" width="82.95" height="1.62" fill="url(#g28)"/>
<rect x="55.49" y="341.45" width="83.83" height="1.62" fill="url(#g29)"/>
<rect x="55.08" y="342.47" width="84.65" height="1.62" fill="url(#g30)"/>
<rect x="54.70" y="343.49" width="85.41" height="1.62" fill="url(#g31)"/>
<rect x="54.35" y="344.51" width="86.11" height="1.62" fill="url(#g32)"/>
<rect x="54.02" y="345.53" width="86.76" height="1.62" fill="url(#g33)"/>
<rect x="53.73" y="346.55" width="87.35" height="1.62" fill="url(#g34)"/>
<rect x="53.46" y="347.57" width="87.89" height="1.62" fill="url(#g35)"/>
<rect x="53.21" y="348.59" width="88.38" height="1.62" fill="url(#g36)"/>
<rect x="52.99" y="349.61" width="88.81" height="1.62" fill="url(#g37)"/>
<rect x="52.80" y="350.63" width="89.20" height="1.62" fill="url(#g38)"/>
<rect x="52.63" y="351.66" width="89.54" height="1.62" fill="url(#g39)"/>
<rect x="52.49" y="352.68" width="89.82" height="1.62" fill="url(#g40)"/>
<rect x="52.37" y="353.70" width="90.06" height="1.62" fill="url(#g41)"/>
<rect x="52.27" y="354.72" width="90.25" height="1.62" fill="url(#g42)"/>
<rect x="52.20" y="355.74" width="90.40" height="1.62" fill="url(#g43)"/>
<rect x="52.15" y="356.76" width="90.49" height="1.62" fill="url(#g44)"/>
<rect x="52.13" y="357.78" width="90.54" height="1.62" fill="url(#g45)"/>
<rect x="52.13" y="358.80" width="90.54" height="1.62" fill="url(#g46)"/>
<rect x="52.15" y="359.82" width="90.49" height="1.62" fill="url(#g47)"/>
<rect x="52.20" y="360.84" width="90.40" height="1.62" fill="url(#g48)"/>
<rect x="52.27" y="361.86" width="90.25" height="1.62" fill="url(#g49)"/>
<rect x="52.37" y="362.88" width="90.06" height="1.62" fill="url(#g50)"/>
<rect x="52.49" y="363.90" width="89.82" height="1.62" fill="url(#g51)"/>
<rect x="52.63" y="364.92" width="89.54" height="1.62" fill="url(#g52)"/>
<rect x="52.80" y="365.94" width="89.20" height="1.62" fill="url(#g53)"/>
<rect x="52.99" y="366.97" width="88.81" height="1.62" fill="url(#g54)"/>
<rect x="53.21" y="367.99" width="88.38" height="1.62" fill="url(#g55)"/>
<rect x="53.46" y="369.01" width="87.89" height="1.62" fill="url(#g56)"/>
<rect x="53.73" y="370.03" width="87.35" height="1.62" fill="url(#g57)"/>
<rect x="54.02" y="371.05" width="86.76" height="1.62" fill="url(#g58)"/>
<rect x="54.35" y="372.07" width="86.11" height="1.62" fill="url(#g59)"/>
<rect x="54.70" y="373.09" width="85.41" height="1.62" fill="url(#g60)"/>
<rect x="55.08" y="374.11" width="84.65" height="1.62" fill="url(#g61)"/>
<rect x="55.49" y="375.13" width="83.83" height="1.62" fill="url(#g62)"/>
<rect x="55.92" y="376.15" width="82.95" height="1.62" fill="url(#g63)"/>
<rect x="56.39" y="377.17" width="82.01" height="1.62" fill="url(#g64)"/>
<rect x="56.90" y="378.19" width="81.01" height="1.62" fill="url(#g65)"/>
<rect x="57.43" y="379.21" width="79.93" height="1.62" fill="url(#g66)"/>
<rect x="58.00" y="380.23" width="78.79" height="1.62" fill="url(#g67)"/>
<rect x="58.61" y="381.25" width="77.58" height="1.62" fill="url(#g68)"/>
<rect x="59.26" y="382.27" width="76.29" height="1.62" fill="url(#g69)"/>
<rect x="59.94" y="383.29" width="74.91" height="1.62" fill="url(#g70)"/>
<rect x="60.67" y="384.32" width="73.46" height="1.62" fill="url(#g71)"/>
<rect x="61.45" y="385.34" width="71.91" height="1.62" fill="url(#g72)"/>
<rect x="62.27" y="386.36" width="70.26" height="1.62" fill="url(#g73)"/>
<rect x="63.14" y="387.38" width="68.51" height="1.62" fill="url(#g74)"/>
<rect x="64.08" y="388.40" width="66.65" height="1.62" fill="url(#g75)"/>
<rect x="65.07" y="389.42" width="64.66" height="1.62" fill="url(#g76)"/>
<rect x="66.13" y="390.44" width="62.54" height="1.62" fill="url(#g77)"/>
<rect x="67.27" y="391.46" width="60.27" height="1.62" fill="url(#g78)"/>
<rect x="68.49" y="392.48" width="57.82" height="1.62" fill="url(#g79)"/>
<rect x="69.80" y="393.50" width="55.19" height="1.62" fill="url(#g80)"/>
<rect x="71.23" y="394.52" width="52.33" height="1.62" fill="url(#g81)"/>
<rect x="72.80" y="395.54" width="49.21" height="1.62" fill="url(#g82)"/>
<rect x="74.52" y="396.56" width="45.77" height="1.62" fill="url(#g83)"/>
<rect x="76.44" y="397.58" width="41.91" height="1.62" fill="url(#g84)"/>
<rect x="78.64" y="398.60" width="37.52" height="1.62" fill="url(#g85)"/>
<rect x="81.23" y="399.62" width="32.34" height="1.62" fill="url(#g86)"/>
<rect x="84.47" y="400.65" width="25.87" height="1.62" fill="url(#g87)"/>
<rect x="89.23" y="401.67" width="16.35" height="1.62" fill="url(#g88)"/>
<rect x="86.03" y="402.69" width="22.75" height="1.62" fill="url(#g89)"/>
</g></g>
<text transform="translate(48.00,317.70) scale(1.075,1)" font-size="10.5" text-anchor="start" fill="#fff" >IP</text>
<text transform="translate(45.80,411.00) scale(1.075,1)" font-size="10.5" text-anchor="start" fill="#fff" >Calc.</text>
<line x1="144.35" y1="311.80" x2="144.35" y2="326.40" stroke="#fff" stroke-width="1.4" /><path d="M144.35 308.80 l2.3 4.8 h-4.6z M144.35 329.40 l2.3 -4.8 h-4.6z" fill="#fff"/>
<line x1="42.80" y1="413.40" x2="42.80" y2="418.70" stroke="#000" stroke-width="1.1" />
<line x1="47.35" y1="413.40" x2="47.35" y2="418.70" stroke="#000" stroke-width="1.1" />
<line x1="51.90" y1="413.40" x2="51.90" y2="418.70" stroke="#000" stroke-width="1.1" />
<line x1="56.45" y1="413.40" x2="56.45" y2="418.70" stroke="#000" stroke-width="1.1" />
<line x1="61.00" y1="413.40" x2="61.00" y2="418.70" stroke="#000" stroke-width="1.1" />
<line x1="65.55" y1="413.40" x2="65.55" y2="418.70" stroke="#000" stroke-width="1.1" />
<line x1="70.10" y1="413.40" x2="70.10" y2="418.70" stroke="#000" stroke-width="1.1" />
<line x1="74.65" y1="413.40" x2="74.65" y2="418.70" stroke="#000" stroke-width="1.1" />
<line x1="79.20" y1="413.40" x2="79.20" y2="418.70" stroke="#000" stroke-width="1.1" />
<line x1="83.75" y1="413.40" x2="83.75" y2="418.70" stroke="#000" stroke-width="1.1" />
<line x1="88.30" y1="413.40" x2="88.30" y2="418.70" stroke="#000" stroke-width="1.1" />
<line x1="92.85" y1="413.40" x2="92.85" y2="418.70" stroke="#000" stroke-width="1.1" />
<line x1="97.40" y1="413.40" x2="97.40" y2="418.70" stroke="#000" stroke-width="1.1" />
<line x1="101.95" y1="413.40" x2="101.95" y2="418.70" stroke="#000" stroke-width="1.1" />
<line x1="106.50" y1="413.40" x2="106.50" y2="418.70" stroke="#000" stroke-width="1.1" />
<line x1="111.05" y1="413.40" x2="111.05" y2="418.70" stroke="#000" stroke-width="1.1" />
<line x1="115.60" y1="413.40" x2="115.60" y2="418.70" stroke="#000" stroke-width="1.1" />
<line x1="120.15" y1="413.40" x2="120.15" y2="418.70" stroke="#000" stroke-width="1.1" />
<line x1="124.70" y1="413.40" x2="124.70" y2="418.70" stroke="#000" stroke-width="1.1" />
<line x1="129.25" y1="413.40" x2="129.25" y2="418.70" stroke="#000" stroke-width="1.1" />
<line x1="133.80" y1="413.40" x2="133.80" y2="418.70" stroke="#000" stroke-width="1.1" />
<line x1="138.35" y1="413.40" x2="138.35" y2="418.70" stroke="#000" stroke-width="1.1" />
<line x1="142.90" y1="413.40" x2="142.90" y2="418.70" stroke="#000" stroke-width="1.1" />
<line x1="147.45" y1="413.40" x2="147.45" y2="418.70" stroke="#000" stroke-width="1.1" />
<line x1="152.00" y1="413.40" x2="152.00" y2="418.70" stroke="#000" stroke-width="1.1" />
<line x1="51.90" y1="413.40" x2="51.90" y2="423.40" stroke="#000" stroke-width="1.1" />
<line x1="97.40" y1="413.40" x2="97.40" y2="423.40" stroke="#000" stroke-width="1.1" />
<line x1="142.90" y1="413.40" x2="142.90" y2="423.40" stroke="#000" stroke-width="1.1" />
<text transform="translate(50.70,438.00) scale(1.075,1)" font-size="10.5" text-anchor="middle" fill="#000" >−1</text>
<text transform="translate(97.40,438.00) scale(1.075,1)" font-size="10.5" text-anchor="middle" fill="#000" >0</text>
<text transform="translate(142.90,438.00) scale(1.075,1)" font-size="10.5" text-anchor="middle" fill="#000" >1</text>
<text transform="translate(99.70,456.00) scale(1.075,1)" font-size="10.5" text-anchor="middle" fill="#000" ><tspan font-style="italic">k</tspan><tspan font-size="8.4" dy="3.6" font-style="italic">x</tspan><tspan dy="-3.6">&#8203;</tspan>/<tspan font-style="italic">k</tspan><tspan font-size="8.4" dy="3.6">0</tspan><tspan dy="-3.6">&#8203;</tspan></text>
<line x1="42.80" y1="413.40" x2="37.50" y2="413.40" stroke="#000" stroke-width="1.1" />
<line x1="42.80" y1="408.85" x2="37.50" y2="408.85" stroke="#000" stroke-width="1.1" />
<line x1="42.80" y1="404.30" x2="37.50" y2="404.30" stroke="#000" stroke-width="1.1" />
<line x1="42.80" y1="399.75" x2="37.50" y2="399.75" stroke="#000" stroke-width="1.1" />
<line x1="42.80" y1="395.20" x2="37.50" y2="395.20" stroke="#000" stroke-width="1.1" />
<line x1="42.80" y1="390.65" x2="37.50" y2="390.65" stroke="#000" stroke-width="1.1" />
<line x1="42.80" y1="386.10" x2="37.50" y2="386.10" stroke="#000" stroke-width="1.1" />
<line x1="42.80" y1="381.55" x2="37.50" y2="381.55" stroke="#000" stroke-width="1.1" />
<line x1="42.80" y1="377.00" x2="37.50" y2="377.00" stroke="#000" stroke-width="1.1" />
<line x1="42.80" y1="372.45" x2="37.50" y2="372.45" stroke="#000" stroke-width="1.1" />
<line x1="42.80" y1="367.90" x2="37.50" y2="367.90" stroke="#000" stroke-width="1.1" />
<line x1="42.80" y1="363.35" x2="37.50" y2="363.35" stroke="#000" stroke-width="1.1" />
<line x1="42.80" y1="358.80" x2="37.50" y2="358.80" stroke="#000" stroke-width="1.1" />
<line x1="42.80" y1="354.25" x2="37.50" y2="354.25" stroke="#000" stroke-width="1.1" />
<line x1="42.80" y1="349.70" x2="37.50" y2="349.70" stroke="#000" stroke-width="1.1" />
<line x1="42.80" y1="345.15" x2="37.50" y2="345.15" stroke="#000" stroke-width="1.1" />
<line x1="42.80" y1="340.60" x2="37.50" y2="340.60" stroke="#000" stroke-width="1.1" />
<line x1="42.80" y1="336.05" x2="37.50" y2="336.05" stroke="#000" stroke-width="1.1" />
<line x1="42.80" y1="331.50" x2="37.50" y2="331.50" stroke="#000" stroke-width="1.1" />
<line x1="42.80" y1="326.95" x2="37.50" y2="326.95" stroke="#000" stroke-width="1.1" />
<line x1="42.80" y1="322.40" x2="37.50" y2="322.40" stroke="#000" stroke-width="1.1" />
<line x1="42.80" y1="317.85" x2="37.50" y2="317.85" stroke="#000" stroke-width="1.1" />
<line x1="42.80" y1="313.30" x2="37.50" y2="313.30" stroke="#000" stroke-width="1.1" />
<line x1="42.80" y1="308.75" x2="37.50" y2="308.75" stroke="#000" stroke-width="1.1" />
<line x1="42.80" y1="304.20" x2="37.50" y2="304.20" stroke="#000" stroke-width="1.1" />
<line x1="42.80" y1="404.30" x2="31.80" y2="404.30" stroke="#000" stroke-width="1.1" />
<line x1="42.80" y1="358.80" x2="31.80" y2="358.80" stroke="#000" stroke-width="1.1" />
<line x1="42.80" y1="313.30" x2="31.80" y2="313.30" stroke="#000" stroke-width="1.1" />
<text transform="translate(29.30,408.00) scale(1.075,1)" font-size="10.5" text-anchor="end" fill="#000" >−1</text>
<text transform="translate(29.30,362.50) scale(1.075,1)" font-size="10.5" text-anchor="end" fill="#000" >0</text>
<text transform="translate(29.30,317.00) scale(1.075,1)" font-size="10.5" text-anchor="end" fill="#000" >1</text>
<text transform="translate(9.80,359.60) rotate(-90) scale(1.075,1)" font-size="10.5" text-anchor="middle" fill="#000" ><tspan font-style="italic">k</tspan><tspan font-size="8.4" dy="3.6" font-style="italic">y</tspan><tspan dy="-3.6">&#8203;</tspan>/<tspan font-style="italic">k</tspan><tspan font-size="8.4" dy="3.6">0</tspan><tspan dy="-3.6">&#8203;</tspan></text>
<rect x="155.10" y="304.20" width="109.20" height="109.20" fill="#000"/>
<g><g clip-path="url(#c90)">
<rect x="198.32" y="313.89" width="22.75" height="1.62" fill="url(#g91)"/>
<rect x="201.53" y="314.91" width="16.35" height="1.62" fill="url(#g92)"/>
<rect x="196.77" y="315.93" width="25.87" height="1.62" fill="url(#g93)"/>
<rect x="193.53" y="316.95" width="32.34" height="1.62" fill="url(#g94)"/>
<rect x="190.94" y="317.98" width="37.52" height="1.62" fill="url(#g95)"/>
<rect x="188.74" y="319.00" width="41.91" height="1.62" fill="url(#g96)"/>
<rect x="186.82" y="320.02" width="45.77" height="1.62" fill="url(#g97)"/>
<rect x="185.10" y="321.04" width="49.21" height="1.62" fill="url(#g98)"/>
<rect x="183.53" y="322.06" width="52.33" height="1.62" fill="url(#g99)"/>
<rect x="182.10" y="323.08" width="55.19" height="1.62" fill="url(#g100)"/>
<rect x="180.79" y="324.10" width="57.82" height="1.62" fill="url(#g101)"/>
<rect x="179.57" y="325.12" width="60.27" height="1.62" fill="url(#g102)"/>
<rect x="178.43" y="326.14" width="62.54" height="1.62" fill="url(#g103)"/>
<rect x="177.37" y="327.16" width="64.66" height="1.62" fill="url(#g104)"/>
<rect x="176.38" y="328.18" width="66.65" height="1.62" fill="url(#g105)"/>
<rect x="175.44" y="329.20" width="68.51" height="1.62" fill="url(#g106)"/>
<rect x="174.57" y="330.22" width="70.26" height="1.62" fill="url(#g107)"/>
<rect x="173.75" y="331.24" width="71.91" height="1.62" fill="url(#g108)"/>
<rect x="172.97" y="332.26" width="73.46" height="1.62" fill="url(#g109)"/>
<rect x="172.24" y="333.28" width="74.91" height="1.62" fill="url(#g110)"/>
<rect x="171.56" y="334.31" width="76.29" height="1.62" fill="url(#g111)"/>
<rect x="170.91" y="335.33" width="77.58" height="1.62" fill="url(#g112)"/>
<rect x="170.30" y="336.35" width="78.79" height="1.62" fill="url(#g113)"/>
<rect x="169.73" y="337.37" width="79.93" height="1.62" fill="url(#g114)"/>
<rect x="169.20" y="338.39" width="81.01" height="1.62" fill="url(#g115)"/>
<rect x="168.69" y="339.41" width="82.01" height="1.62" fill="url(#g116)"/>
<rect x="168.22" y="340.43" width="82.95" height="1.62" fill="url(#g117)"/>
<rect x="167.79" y="341.45" width="83.83" height="1.62" fill="url(#g118)"/>
<rect x="167.38" y="342.47" width="84.65" height="1.62" fill="url(#g119)"/>
<rect x="167.00" y="343.49" width="85.41" height="1.62" fill="url(#g120)"/>
<rect x="166.65" y="344.51" width="86.11" height="1.62" fill="url(#g121)"/>
<rect x="166.32" y="345.53" width="86.76" height="1.62" fill="url(#g122)"/>
<rect x="166.03" y="346.55" width="87.35" height="1.62" fill="url(#g123)"/>
<rect x="165.76" y="347.57" width="87.89" height="1.62" fill="url(#g124)"/>
<rect x="165.51" y="348.59" width="88.38" height="1.62" fill="url(#g125)"/>
<rect x="165.29" y="349.61" width="88.81" height="1.62" fill="url(#g126)"/>
<rect x="165.10" y="350.63" width="89.20" height="1.62" fill="url(#g127)"/>
<rect x="164.93" y="351.66" width="89.54" height="1.62" fill="url(#g128)"/>
<rect x="164.79" y="352.68" width="89.82" height="1.62" fill="url(#g129)"/>
<rect x="164.67" y="353.70" width="90.06" height="1.62" fill="url(#g130)"/>
<rect x="164.57" y="354.72" width="90.25" height="1.62" fill="url(#g131)"/>
<rect x="164.50" y="355.74" width="90.40" height="1.62" fill="url(#g132)"/>
<rect x="164.45" y="356.76" width="90.49" height="1.62" fill="url(#g133)"/>
<rect x="164.43" y="357.78" width="90.54" height="1.62" fill="url(#g134)"/>
<rect x="164.43" y="358.80" width="90.54" height="1.62" fill="url(#g135)"/>
<rect x="164.45" y="359.82" width="90.49" height="1.62" fill="url(#g136)"/>
<rect x="164.50" y="360.84" width="90.40" height="1.62" fill="url(#g137)"/>
<rect x="164.57" y="361.86" width="90.25" height="1.62" fill="url(#g138)"/>
<rect x="164.67" y="362.88" width="90.06" height="1.62" fill="url(#g139)"/>
<rect x="164.79" y="363.90" width="89.82" height="1.62" fill="url(#g140)"/>
<rect x="164.93" y="364.92" width="89.54" height="1.62" fill="url(#g141)"/>
<rect x="165.10" y="365.94" width="89.20" height="1.62" fill="url(#g142)"/>
<rect x="165.29" y="366.97" width="88.81" height="1.62" fill="url(#g143)"/>
<rect x="165.51" y="367.99" width="88.38" height="1.62" fill="url(#g144)"/>
<rect x="165.76" y="369.01" width="87.89" height="1.62" fill="url(#g145)"/>
<rect x="166.03" y="370.03" width="87.35" height="1.62" fill="url(#g146)"/>
<rect x="166.32" y="371.05" width="86.76" height="1.62" fill="url(#g147)"/>
<rect x="166.65" y="372.07" width="86.11" height="1.62" fill="url(#g148)"/>
<rect x="167.00" y="373.09" width="85.41" height="1.62" fill="url(#g149)"/>
<rect x="167.38" y="374.11" width="84.65" height="1.62" fill="url(#g150)"/>
<rect x="167.79" y="375.13" width="83.83" height="1.62" fill="url(#g151)"/>
<rect x="168.22" y="376.15" width="82.95" height="1.62" fill="url(#g152)"/>
<rect x="168.69" y="377.17" width="82.01" height="1.62" fill="url(#g153)"/>
<rect x="169.20" y="378.19" width="81.01" height="1.62" fill="url(#g154)"/>
<rect x="169.73" y="379.21" width="79.93" height="1.62" fill="url(#g155)"/>
<rect x="170.30" y="380.23" width="78.79" height="1.62" fill="url(#g156)"/>
<rect x="170.91" y="381.25" width="77.58" height="1.62" fill="url(#g157)"/>
<rect x="171.56" y="382.27" width="76.29" height="1.62" fill="url(#g158)"/>
<rect x="172.24" y="383.29" width="74.91" height="1.62" fill="url(#g159)"/>
<rect x="172.97" y="384.32" width="73.46" height="1.62" fill="url(#g160)"/>
<rect x="173.75" y="385.34" width="71.91" height="1.62" fill="url(#g161)"/>
<rect x="174.57" y="386.36" width="70.26" height="1.62" fill="url(#g162)"/>
<rect x="175.44" y="387.38" width="68.51" height="1.62" fill="url(#g163)"/>
<rect x="176.38" y="388.40" width="66.65" height="1.62" fill="url(#g164)"/>
<rect x="177.37" y="389.42" width="64.66" height="1.62" fill="url(#g165)"/>
<rect x="178.43" y="390.44" width="62.54" height="1.62" fill="url(#g166)"/>
<rect x="179.57" y="391.46" width="60.27" height="1.62" fill="url(#g167)"/>
<rect x="180.79" y="392.48" width="57.82" height="1.62" fill="url(#g168)"/>
<rect x="182.10" y="393.50" width="55.19" height="1.62" fill="url(#g169)"/>
<rect x="183.53" y="394.52" width="52.33" height="1.62" fill="url(#g170)"/>
<rect x="185.10" y="395.54" width="49.21" height="1.62" fill="url(#g171)"/>
<rect x="186.82" y="396.56" width="45.77" height="1.62" fill="url(#g172)"/>
<rect x="188.74" y="397.58" width="41.91" height="1.62" fill="url(#g173)"/>
<rect x="190.94" y="398.60" width="37.52" height="1.62" fill="url(#g174)"/>
<rect x="193.53" y="399.62" width="32.34" height="1.62" fill="url(#g175)"/>
<rect x="196.77" y="400.65" width="25.87" height="1.62" fill="url(#g176)"/>
<rect x="201.53" y="401.67" width="16.35" height="1.62" fill="url(#g177)"/>
<rect x="198.32" y="402.69" width="22.75" height="1.62" fill="url(#g178)"/>
</g></g>
<text transform="translate(160.30,317.70) scale(1.075,1)" font-size="10.5" text-anchor="start" fill="#fff" >OP</text>
<text transform="translate(158.10,411.00) scale(1.075,1)" font-size="10.5" text-anchor="start" fill="#fff" >Calc.</text>
<line x1="256.65" y1="311.80" x2="256.65" y2="326.40" stroke="#fff" stroke-width="1.4" /><path d="M256.65 308.80 l2.3 4.8 h-4.6z M256.65 329.40 l2.3 -4.8 h-4.6z" fill="#fff"/>
<line x1="155.10" y1="413.40" x2="155.10" y2="418.70" stroke="#000" stroke-width="1.1" />
<line x1="159.65" y1="413.40" x2="159.65" y2="418.70" stroke="#000" stroke-width="1.1" />
<line x1="164.20" y1="413.40" x2="164.20" y2="418.70" stroke="#000" stroke-width="1.1" />
<line x1="168.75" y1="413.40" x2="168.75" y2="418.70" stroke="#000" stroke-width="1.1" />
<line x1="173.30" y1="413.40" x2="173.30" y2="418.70" stroke="#000" stroke-width="1.1" />
<line x1="177.85" y1="413.40" x2="177.85" y2="418.70" stroke="#000" stroke-width="1.1" />
<line x1="182.40" y1="413.40" x2="182.40" y2="418.70" stroke="#000" stroke-width="1.1" />
<line x1="186.95" y1="413.40" x2="186.95" y2="418.70" stroke="#000" stroke-width="1.1" />
<line x1="191.50" y1="413.40" x2="191.50" y2="418.70" stroke="#000" stroke-width="1.1" />
<line x1="196.05" y1="413.40" x2="196.05" y2="418.70" stroke="#000" stroke-width="1.1" />
<line x1="200.60" y1="413.40" x2="200.60" y2="418.70" stroke="#000" stroke-width="1.1" />
<line x1="205.15" y1="413.40" x2="205.15" y2="418.70" stroke="#000" stroke-width="1.1" />
<line x1="209.70" y1="413.40" x2="209.70" y2="418.70" stroke="#000" stroke-width="1.1" />
<line x1="214.25" y1="413.40" x2="214.25" y2="418.70" stroke="#000" stroke-width="1.1" />
<line x1="218.80" y1="413.40" x2="218.80" y2="418.70" stroke="#000" stroke-width="1.1" />
<line x1="223.35" y1="413.40" x2="223.35" y2="418.70" stroke="#000" stroke-width="1.1" />
<line x1="227.90" y1="413.40" x2="227.90" y2="418.70" stroke="#000" stroke-width="1.1" />
<line x1="232.45" y1="413.40" x2="232.45" y2="418.70" stroke="#000" stroke-width="1.1" />
<line x1="237.00" y1="413.40" x2="237.00" y2="418.70" stroke="#000" stroke-width="1.1" />
<line x1="241.55" y1="413.40" x2="241.55" y2="418.70" stroke="#000" stroke-width="1.1" />
<line x1="246.10" y1="413.40" x2="246.10" y2="418.70" stroke="#000" stroke-width="1.1" />
<line x1="250.65" y1="413.40" x2="250.65" y2="418.70" stroke="#000" stroke-width="1.1" />
<line x1="255.20" y1="413.40" x2="255.20" y2="418.70" stroke="#000" stroke-width="1.1" />
<line x1="259.75" y1="413.40" x2="259.75" y2="418.70" stroke="#000" stroke-width="1.1" />
<line x1="264.30" y1="413.40" x2="264.30" y2="418.70" stroke="#000" stroke-width="1.1" />
<line x1="164.20" y1="413.40" x2="164.20" y2="423.40" stroke="#000" stroke-width="1.1" />
<line x1="209.70" y1="413.40" x2="209.70" y2="423.40" stroke="#000" stroke-width="1.1" />
<line x1="255.20" y1="413.40" x2="255.20" y2="423.40" stroke="#000" stroke-width="1.1" />
<text transform="translate(163.00,438.00) scale(1.075,1)" font-size="10.5" text-anchor="middle" fill="#000" >−1</text>
<text transform="translate(209.70,438.00) scale(1.075,1)" font-size="10.5" text-anchor="middle" fill="#000" >0</text>
<text transform="translate(255.20,438.00) scale(1.075,1)" font-size="10.5" text-anchor="middle" fill="#000" >1</text>
<text transform="translate(212.00,456.00) scale(1.075,1)" font-size="10.5" text-anchor="middle" fill="#000" ><tspan font-style="italic">k</tspan><tspan font-size="8.4" dy="3.6" font-style="italic">x</tspan><tspan dy="-3.6">&#8203;</tspan>/<tspan font-style="italic">k</tspan><tspan font-size="8.4" dy="3.6">0</tspan><tspan dy="-3.6">&#8203;</tspan></text>
<rect x="42" y="288.7" width="45.5" height="12.8" fill="url(#cb1)" stroke="#000" stroke-width="1"/>
<line x1="42.91" y1="288.70" x2="42.91" y2="282.70" stroke="#000" stroke-width="1" />
<text transform="translate(42.91,277.30) scale(1.075,1)" font-size="10.5" text-anchor="middle" fill="#000" >0.0</text>
<line x1="64.75" y1="288.70" x2="64.75" y2="282.70" stroke="#000" stroke-width="1" />
<text transform="translate(64.75,277.30) scale(1.075,1)" font-size="10.5" text-anchor="middle" fill="#000" >0.5</text>
<line x1="86.59" y1="288.70" x2="86.59" y2="282.70" stroke="#000" stroke-width="1" />
<text transform="translate(86.59,277.30) scale(1.075,1)" font-size="10.5" text-anchor="middle" fill="#000" >1.0</text>
<text transform="translate(65.50,260.50) scale(1.075,1)" font-size="10.5" text-anchor="middle" fill="#000" ><tspan font-style="italic">I</tspan> (a.u.)</text>
<rect x="218.6" y="288.7" width="45.5" height="12.8" fill="url(#cb2)" stroke="#000" stroke-width="1"/>
<line x1="219.42" y1="288.70" x2="219.42" y2="282.70" stroke="#000" stroke-width="1" />
<text transform="translate(219.42,277.30) scale(1.075,1)" font-size="10.5" text-anchor="middle" fill="#000" >0.00</text>
<line x1="259.78" y1="288.70" x2="259.78" y2="282.70" stroke="#000" stroke-width="1" />
<text transform="translate(259.78,277.30) scale(1.075,1)" font-size="10.5" text-anchor="middle" fill="#000" >0.06</text>
<text transform="translate(241.50,260.50) scale(1.075,1)" font-size="10.5" text-anchor="middle" fill="#000" ><tspan font-style="italic">I</tspan> (a.u.)</text>
<line x1="232.25" y1="288.70" x2="232.25" y2="285.00" stroke="#000" stroke-width="1" />
<line x1="246.35" y1="288.70" x2="246.35" y2="285.00" stroke="#000" stroke-width="1" />
<rect x="473.30" y="58.50" width="206.00" height="206.00" fill="#000"/>
<g filter="url(#fc179)"><g clip-path="url(#c179)">
<rect x="554.84" y="79.13" width="42.92" height="2.10" fill="url(#g180)"/>
<rect x="559.54" y="80.63" width="33.53" height="2.10" fill="url(#g181)"/>
<rect x="552.77" y="82.13" width="47.06" height="2.10" fill="url(#g182)"/>
<rect x="547.80" y="83.62" width="57.01" height="2.10" fill="url(#g183)"/>
<rect x="543.71" y="85.12" width="65.19" height="2.10" fill="url(#g184)"/>
<rect x="540.18" y="86.62" width="72.24" height="2.10" fill="url(#g185)"/>
<rect x="537.05" y="88.12" width="78.50" height="2.10" fill="url(#g186)"/>
<rect x="534.22" y="89.61" width="84.16" height="2.10" fill="url(#g187)"/>
<rect x="531.64" y="91.11" width="89.32" height="2.10" fill="url(#g188)"/>
<rect x="529.25" y="92.61" width="94.09" height="2.10" fill="url(#g189)"/>
<rect x="527.04" y="94.11" width="98.52" height="2.10" fill="url(#g190)"/>
<rect x="524.97" y="95.60" width="102.66" height="2.10" fill="url(#g191)"/>
<rect x="523.03" y="97.10" width="106.54" height="2.10" fill="url(#g192)"/>
<rect x="521.21" y="98.60" width="110.19" height="2.10" fill="url(#g193)"/>
<rect x="519.48" y="100.10" width="113.63" height="2.10" fill="url(#g194)"/>
<rect x="517.85" y="101.59" width="116.89" height="2.10" fill="url(#g195)"/>
<rect x="516.31" y="103.09" width="119.98" height="2.10" fill="url(#g196)"/>
<rect x="514.84" y="104.59" width="122.91" height="2.10" fill="url(#g197)"/>
<rect x="513.45" y="106.09" width="125.70" height="2.10" fill="url(#g198)"/>
<rect x="512.13" y="107.59" width="128.35" height="2.10" fill="url(#g199)"/>
<rect x="510.86" y="109.08" width="130.87" height="2.10" fill="url(#g200)"/>
<rect x="509.66" y="110.58" width="133.27" height="2.10" fill="url(#g201)"/>
<rect x="508.52" y="112.08" width="135.56" height="2.10" fill="url(#g202)"/>
<rect x="507.43" y="113.58" width="137.75" height="2.10" fill="url(#g203)"/>
<rect x="506.39" y="115.07" width="139.83" height="2.10" fill="url(#g204)"/>
<rect x="505.39" y="116.57" width="141.81" height="2.10" fill="url(#g205)"/>
<rect x="504.45" y="118.07" width="143.70" height="2.10" fill="url(#g206)"/>
<rect x="503.55" y="119.57" width="145.50" height="2.10" fill="url(#g207)"/>
<rect x="502.69" y="121.06" width="147.22" height="2.10" fill="url(#g208)"/>
<rect x="501.87" y="122.56" width="148.85" height="2.10" fill="url(#g209)"/>
<rect x="501.10" y="124.06" width="150.41" height="2.10" fill="url(#g210)"/>
<rect x="500.36" y="125.56" width="151.88" height="2.10" fill="url(#g211)"/>
<rect x="499.66" y="127.05" width="153.28" height="2.10" fill="url(#g212)"/>
<rect x="499.00" y="128.55" width="154.61" height="2.10" fill="url(#g213)"/>
<rect x="498.37" y="130.05" width="155.86" height="2.10" fill="url(#g214)"/>
<rect x="497.78" y="131.55" width="157.05" height="2.10" fill="url(#g215)"/>
<rect x="497.22" y="133.04" width="158.17" height="2.10" fill="url(#g216)"/>
<rect x="496.69" y="134.54" width="159.22" height="2.10" fill="url(#g217)"/>
<rect x="496.20" y="136.04" width="160.20" height="2.10" fill="url(#g218)"/>
<rect x="495.74" y="137.54" width="161.13" height="2.10" fill="url(#g219)"/>
<rect x="495.31" y="139.04" width="161.99" height="2.10" fill="url(#g220)"/>
<rect x="494.91" y="140.53" width="162.79" height="2.10" fill="url(#g221)"/>
<rect x="494.54" y="142.03" width="163.52" height="2.10" fill="url(#g222)"/>
<rect x="494.20" y="143.53" width="164.20" height="2.10" fill="url(#g223)"/>
<rect x="493.89" y="145.03" width="164.82" height="2.10" fill="url(#g224)"/>
<rect x="493.61" y="146.52" width="165.38" height="2.10" fill="url(#g225)"/>
<rect x="493.36" y="148.02" width="165.89" height="2.10" fill="url(#g226)"/>
<rect x="493.13" y="149.52" width="166.33" height="2.10" fill="url(#g227)"/>
<rect x="492.94" y="151.02" width="166.72" height="2.10" fill="url(#g228)"/>
<rect x="492.77" y="152.51" width="167.05" height="2.10" fill="url(#g229)"/>
<rect x="492.63" y="154.01" width="167.33" height="2.10" fill="url(#g230)"/>
<rect x="492.52" y="155.51" width="167.55" height="2.10" fill="url(#g231)"/>
<rect x="492.44" y="157.01" width="167.72" height="2.10" fill="url(#g232)"/>
<rect x="492.39" y="158.50" width="167.83" height="2.10" fill="url(#g233)"/>
<rect x="492.36" y="160.00" width="167.88" height="2.10" fill="url(#g234)"/>
<rect x="492.36" y="161.50" width="167.88" height="2.10" fill="url(#g235)"/>
<rect x="492.39" y="163.00" width="167.83" height="2.10" fill="url(#g236)"/>
<rect x="492.44" y="164.50" width="167.72" height="2.10" fill="url(#g237)"/>
<rect x="492.52" y="165.99" width="167.55" height="2.10" fill="url(#g238)"/>
<rect x="492.63" y="167.49" width="167.33" height="2.10" fill="url(#g239)"/>
<rect x="492.77" y="168.99" width="167.05" height="2.10" fill="url(#g240)"/>
<rect x="492.94" y="170.49" width="166.72" height="2.10" fill="url(#g241)"/>
<rect x="493.13" y="171.98" width="166.33" height="2.10" fill="url(#g242)"/>
<rect x="493.36" y="173.48" width="165.89" height="2.10" fill="url(#g243)"/>
<rect x="493.61" y="174.98" width="165.38" height="2.10" fill="url(#g244)"/>
<rect x="493.89" y="176.48" width="164.82" height="2.10" fill="url(#g245)"/>
<rect x="494.20" y="177.97" width="164.20" height="2.10" fill="url(#g246)"/>
<rect x="494.54" y="179.47" width="163.52" height="2.10" fill="url(#g247)"/>
<rect x="494.91" y="180.97" width="162.79" height="2.10" fill="url(#g248)"/>
<rect x="495.31" y="182.47" width="161.99" height="2.10" fill="url(#g249)"/>
<rect x="495.74" y="183.96" width="161.13" height="2.10" fill="url(#g250)"/>
<rect x="496.20" y="185.46" width="160.20" height="2.10" fill="url(#g251)"/>
<rect x="496.69" y="186.96" width="159.22" height="2.10" fill="url(#g252)"/>
<rect x="497.22" y="188.46" width="158.17" height="2.10" fill="url(#g253)"/>
<rect x="497.78" y="189.96" width="157.05" height="2.10" fill="url(#g254)"/>
<rect x="498.37" y="191.45" width="155.86" height="2.10" fill="url(#g255)"/>
<rect x="499.00" y="192.95" width="154.61" height="2.10" fill="url(#g256)"/>
<rect x="499.66" y="194.45" width="153.28" height="2.10" fill="url(#g257)"/>
<rect x="500.36" y="195.95" width="151.88" height="2.10" fill="url(#g258)"/>
<rect x="501.10" y="197.44" width="150.41" height="2.10" fill="url(#g259)"/>
<rect x="501.87" y="198.94" width="148.85" height="2.10" fill="url(#g260)"/>
<rect x="502.69" y="200.44" width="147.22" height="2.10" fill="url(#g261)"/>
<rect x="503.55" y="201.94" width="145.50" height="2.10" fill="url(#g262)"/>
<rect x="504.45" y="203.43" width="143.70" height="2.10" fill="url(#g263)"/>
<rect x="505.39" y="204.93" width="141.81" height="2.10" fill="url(#g264)"/>
<rect x="506.39" y="206.43" width="139.83" height="2.10" fill="url(#g265)"/>
<rect x="507.43" y="207.93" width="137.75" height="2.10" fill="url(#g266)"/>
<rect x="508.52" y="209.42" width="135.56" height="2.10" fill="url(#g267)"/>
<rect x="509.66" y="210.92" width="133.27" height="2.10" fill="url(#g268)"/>
<rect x="510.86" y="212.42" width="130.87" height="2.10" fill="url(#g269)"/>
<rect x="512.13" y="213.92" width="128.35" height="2.10" fill="url(#g270)"/>
<rect x="513.45" y="215.41" width="125.70" height="2.10" fill="url(#g271)"/>
<rect x="514.84" y="216.91" width="122.91" height="2.10" fill="url(#g272)"/>
<rect x="516.31" y="218.41" width="119.98" height="2.10" fill="url(#g273)"/>
<rect x="517.85" y="219.91" width="116.89" height="2.10" fill="url(#g274)"/>
<rect x="519.48" y="221.41" width="113.63" height="2.10" fill="url(#g275)"/>
<rect x="521.21" y="222.90" width="110.19" height="2.10" fill="url(#g276)"/>
<rect x="523.03" y="224.40" width="106.54" height="2.10" fill="url(#g277)"/>
<rect x="524.97" y="225.90" width="102.66" height="2.10" fill="url(#g278)"/>
<rect x="527.04" y="227.40" width="98.52" height="2.10" fill="url(#g279)"/>
<rect x="529.25" y="228.89" width="94.09" height="2.10" fill="url(#g280)"/>
<rect x="531.64" y="230.39" width="89.32" height="2.10" fill="url(#g281)"/>
<rect x="534.22" y="231.89" width="84.16" height="2.10" fill="url(#g282)"/>
<rect x="537.05" y="233.39" width="78.50" height="2.10" fill="url(#g283)"/>
<rect x="540.18" y="234.88" width="72.24" height="2.10" fill="url(#g284)"/>
<rect x="543.71" y="236.38" width="65.19" height="2.10" fill="url(#g285)"/>
<rect x="547.80" y="237.88" width="57.01" height="2.10" fill="url(#g286)"/>
<rect x="552.77" y="239.38" width="47.06" height="2.10" fill="url(#g287)"/>
<rect x="559.54" y="240.87" width="33.53" height="2.10" fill="url(#g288)"/>
<rect x="554.84" y="242.37" width="42.92" height="2.10" fill="url(#g289)"/>
</g></g>
<line x1="576.10" y1="58.50" x2="576.10" y2="264.50" stroke="#1c3fd7" stroke-width="1.9" stroke-dasharray="5 5.2" stroke-dashoffset="-1"/>
<line x1="473.30" y1="162.00" x2="679.30" y2="162.00" stroke="#ee1010" stroke-width="2" stroke-dasharray="5.75 4.5"/>
<text transform="translate(481.30,254.90) scale(1.075,1)" font-size="10.7" text-anchor="start" fill="#fff" >Exp.</text>
<line x1="664.30" y1="71.30" x2="664.30" y2="87.20" stroke="#fff" stroke-width="1.5" /><path d="M664.30 68.30 l2.4 5 h-4.8z M664.30 90.20 l2.4 -5 h-4.8z" fill="#fff"/>
<line x1="582.10" y1="68.30" x2="582.10" y2="75.60" stroke="#1c3fd7" stroke-width="1.4" />
<line x1="585.10" y1="68.30" x2="585.10" y2="75.60" stroke="#1c3fd7" stroke-width="1.4" />
<line x1="663.80" y1="158.50" x2="673.90" y2="158.50" stroke="#ee1010" stroke-width="2" />
<line x1="669.00" y1="149.20" x2="669.00" y2="158.50" stroke="#ee1010" stroke-width="2.1" />
<line x1="473.30" y1="264.50" x2="467.30" y2="264.50" stroke="#000" stroke-width="1" />
<line x1="473.30" y1="255.92" x2="467.30" y2="255.92" stroke="#000" stroke-width="1" />
<line x1="473.30" y1="247.33" x2="467.30" y2="247.33" stroke="#000" stroke-width="1" />
<line x1="473.30" y1="238.75" x2="467.30" y2="238.75" stroke="#000" stroke-width="1" />
<line x1="473.30" y1="230.17" x2="467.30" y2="230.17" stroke="#000" stroke-width="1" />
<line x1="473.30" y1="221.58" x2="467.30" y2="221.58" stroke="#000" stroke-width="1" />
<line x1="473.30" y1="213.00" x2="467.30" y2="213.00" stroke="#000" stroke-width="1" />
<line x1="473.30" y1="204.42" x2="467.30" y2="204.42" stroke="#000" stroke-width="1" />
<line x1="473.30" y1="195.83" x2="467.30" y2="195.83" stroke="#000" stroke-width="1" />
<line x1="473.30" y1="187.25" x2="467.30" y2="187.25" stroke="#000" stroke-width="1" />
<line x1="473.30" y1="178.67" x2="467.30" y2="178.67" stroke="#000" stroke-width="1" />
<line x1="473.30" y1="170.08" x2="467.30" y2="170.08" stroke="#000" stroke-width="1" />
<line x1="473.30" y1="161.50" x2="467.30" y2="161.50" stroke="#000" stroke-width="1" />
<line x1="473.30" y1="152.92" x2="467.30" y2="152.92" stroke="#000" stroke-width="1" />
<line x1="473.30" y1="144.33" x2="467.30" y2="144.33" stroke="#000" stroke-width="1" />
<line x1="473.30" y1="135.75" x2="467.30" y2="135.75" stroke="#000" stroke-width="1" />
<line x1="473.30" y1="127.17" x2="467.30" y2="127.17" stroke="#000" stroke-width="1" />
<line x1="473.30" y1="118.58" x2="467.30" y2="118.58" stroke="#000" stroke-width="1" />
<line x1="473.30" y1="110.00" x2="467.30" y2="110.00" stroke="#000" stroke-width="1" />
<line x1="473.30" y1="101.42" x2="467.30" y2="101.42" stroke="#000" stroke-width="1" />
<line x1="473.30" y1="92.83" x2="467.30" y2="92.83" stroke="#000" stroke-width="1" />
<line x1="473.30" y1="84.25" x2="467.30" y2="84.25" stroke="#000" stroke-width="1" />
<line x1="473.30" y1="75.67" x2="467.30" y2="75.67" stroke="#000" stroke-width="1" />
<line x1="473.30" y1="67.08" x2="467.30" y2="67.08" stroke="#000" stroke-width="1" />
<line x1="473.30" y1="58.50" x2="467.30" y2="58.50" stroke="#000" stroke-width="1" />
<line x1="473.30" y1="247.33" x2="462.80" y2="247.33" stroke="#000" stroke-width="1" />
<line x1="473.30" y1="204.42" x2="462.80" y2="204.42" stroke="#000" stroke-width="1" />
<line x1="473.30" y1="161.50" x2="462.80" y2="161.50" stroke="#000" stroke-width="1" />
<line x1="473.30" y1="118.58" x2="462.80" y2="118.58" stroke="#000" stroke-width="1" />
<line x1="473.30" y1="75.67" x2="462.80" y2="75.67" stroke="#000" stroke-width="1" />
<line x1="473.30" y1="264.50" x2="473.30" y2="270.50" stroke="#000" stroke-width="1" />
<line x1="481.88" y1="264.50" x2="481.88" y2="270.50" stroke="#000" stroke-width="1" />
<line x1="490.47" y1="264.50" x2="490.47" y2="270.50" stroke="#000" stroke-width="1" />
<line x1="499.05" y1="264.50" x2="499.05" y2="270.50" stroke="#000" stroke-width="1" />
<line x1="507.63" y1="264.50" x2="507.63" y2="270.50" stroke="#000" stroke-width="1" />
<line x1="516.22" y1="264.50" x2="516.22" y2="270.50" stroke="#000" stroke-width="1" />
<line x1="524.80" y1="264.50" x2="524.80" y2="270.50" stroke="#000" stroke-width="1" />
<line x1="533.38" y1="264.50" x2="533.38" y2="270.50" stroke="#000" stroke-width="1" />
<line x1="541.97" y1="264.50" x2="541.97" y2="270.50" stroke="#000" stroke-width="1" />
<line x1="550.55" y1="264.50" x2="550.55" y2="270.50" stroke="#000" stroke-width="1" />
<line x1="559.13" y1="264.50" x2="559.13" y2="270.50" stroke="#000" stroke-width="1" />
<line x1="567.72" y1="264.50" x2="567.72" y2="270.50" stroke="#000" stroke-width="1" />
<line x1="576.30" y1="264.50" x2="576.30" y2="270.50" stroke="#000" stroke-width="1" />
<line x1="584.88" y1="264.50" x2="584.88" y2="270.50" stroke="#000" stroke-width="1" />
<line x1="593.47" y1="264.50" x2="593.47" y2="270.50" stroke="#000" stroke-width="1" />
<line x1="602.05" y1="264.50" x2="602.05" y2="270.50" stroke="#000" stroke-width="1" />
<line x1="610.63" y1="264.50" x2="610.63" y2="270.50" stroke="#000" stroke-width="1" />
<line x1="619.22" y1="264.50" x2="619.22" y2="270.50" stroke="#000" stroke-width="1" />
<line x1="627.80" y1="264.50" x2="627.80" y2="270.50" stroke="#000" stroke-width="1" />
<line x1="636.38" y1="264.50" x2="636.38" y2="270.50" stroke="#000" stroke-width="1" />
<line x1="644.97" y1="264.50" x2="644.97" y2="270.50" stroke="#000" stroke-width="1" />
<line x1="653.55" y1="264.50" x2="653.55" y2="270.50" stroke="#000" stroke-width="1" />
<line x1="662.13" y1="264.50" x2="662.13" y2="270.50" stroke="#000" stroke-width="1" />
<line x1="670.72" y1="264.50" x2="670.72" y2="270.50" stroke="#000" stroke-width="1" />
<line x1="679.30" y1="264.50" x2="679.30" y2="270.50" stroke="#000" stroke-width="1" />
<line x1="490.47" y1="264.50" x2="490.47" y2="275.00" stroke="#000" stroke-width="1" />
<line x1="533.38" y1="264.50" x2="533.38" y2="275.00" stroke="#000" stroke-width="1" />
<line x1="576.30" y1="264.50" x2="576.30" y2="275.00" stroke="#000" stroke-width="1" />
<line x1="619.22" y1="264.50" x2="619.22" y2="275.00" stroke="#000" stroke-width="1" />
<line x1="662.13" y1="264.50" x2="662.13" y2="275.00" stroke="#000" stroke-width="1" />
<rect x="605.4" y="43.6" width="73.4" height="12" fill="url(#cb3)" stroke="#000" stroke-width="1"/>
<line x1="606.50" y1="43.60" x2="606.50" y2="37.60" stroke="#000" stroke-width="1" />
<text transform="translate(606.50,32.30) scale(1.075,1)" font-size="10.5" text-anchor="middle" fill="#000" >0.0</text>
<line x1="642.10" y1="43.60" x2="642.10" y2="37.60" stroke="#000" stroke-width="1" />
<text transform="translate(642.10,32.30) scale(1.075,1)" font-size="10.5" text-anchor="middle" fill="#000" >0.5</text>
<line x1="677.70" y1="43.60" x2="677.70" y2="37.60" stroke="#000" stroke-width="1" />
<text transform="translate(677.70,32.30) scale(1.075,1)" font-size="10.5" text-anchor="middle" fill="#000" >1.0</text>
<text transform="translate(642.00,16.60) scale(1.075,1)" font-size="10.5" text-anchor="middle" fill="#000" ><tspan font-style="italic">I</tspan> (a.u.)</text>
<rect x="358.8" y="58.9" width="99.80000000000001" height="205.20000000000002" fill="#fff" stroke="#000" stroke-width="1"/>
<line x1="358.80" y1="264.50" x2="352.80" y2="264.50" stroke="#000" stroke-width="1" />
<line x1="358.80" y1="255.92" x2="352.80" y2="255.92" stroke="#000" stroke-width="1" />
<line x1="358.80" y1="247.33" x2="352.80" y2="247.33" stroke="#000" stroke-width="1" />
<line x1="358.80" y1="238.75" x2="352.80" y2="238.75" stroke="#000" stroke-width="1" />
<line x1="358.80" y1="230.17" x2="352.80" y2="230.17" stroke="#000" stroke-width="1" />
<line x1="358.80" y1="221.58" x2="352.80" y2="221.58" stroke="#000" stroke-width="1" />
<line x1="358.80" y1="213.00" x2="352.80" y2="213.00" stroke="#000" stroke-width="1" />
<line x1="358.80" y1="204.42" x2="352.80" y2="204.42" stroke="#000" stroke-width="1" />
<line x1="358.80" y1="195.83" x2="352.80" y2="195.83" stroke="#000" stroke-width="1" />
<line x1="358.80" y1="187.25" x2="352.80" y2="187.25" stroke="#000" stroke-width="1" />
<line x1="358.80" y1="178.67" x2="352.80" y2="178.67" stroke="#000" stroke-width="1" />
<line x1="358.80" y1="170.08" x2="352.80" y2="170.08" stroke="#000" stroke-width="1" />
<line x1="358.80" y1="161.50" x2="352.80" y2="161.50" stroke="#000" stroke-width="1" />
<line x1="358.80" y1="152.92" x2="352.80" y2="152.92" stroke="#000" stroke-width="1" />
<line x1="358.80" y1="144.33" x2="352.80" y2="144.33" stroke="#000" stroke-width="1" />
<line x1="358.80" y1="135.75" x2="352.80" y2="135.75" stroke="#000" stroke-width="1" />
<line x1="358.80" y1="127.17" x2="352.80" y2="127.17" stroke="#000" stroke-width="1" />
<line x1="358.80" y1="118.58" x2="352.80" y2="118.58" stroke="#000" stroke-width="1" />
<line x1="358.80" y1="110.00" x2="352.80" y2="110.00" stroke="#000" stroke-width="1" />
<line x1="358.80" y1="101.42" x2="352.80" y2="101.42" stroke="#000" stroke-width="1" />
<line x1="358.80" y1="92.83" x2="352.80" y2="92.83" stroke="#000" stroke-width="1" />
<line x1="358.80" y1="84.25" x2="352.80" y2="84.25" stroke="#000" stroke-width="1" />
<line x1="358.80" y1="75.67" x2="352.80" y2="75.67" stroke="#000" stroke-width="1" />
<line x1="358.80" y1="67.08" x2="352.80" y2="67.08" stroke="#000" stroke-width="1" />
<line x1="358.80" y1="58.50" x2="352.80" y2="58.50" stroke="#000" stroke-width="1" />
<line x1="358.80" y1="247.33" x2="348.30" y2="247.33" stroke="#000" stroke-width="1" />
<line x1="358.80" y1="204.42" x2="348.30" y2="204.42" stroke="#000" stroke-width="1" />
<line x1="358.80" y1="161.50" x2="348.30" y2="161.50" stroke="#000" stroke-width="1" />
<line x1="358.80" y1="118.58" x2="348.30" y2="118.58" stroke="#000" stroke-width="1" />
<line x1="358.80" y1="75.67" x2="348.30" y2="75.67" stroke="#000" stroke-width="1" />
<line x1="358.80" y1="58.90" x2="358.80" y2="53.90" stroke="#000" stroke-width="1" />
<line x1="375.44" y1="58.90" x2="375.44" y2="53.90" stroke="#000" stroke-width="1" />
<line x1="392.08" y1="58.90" x2="392.08" y2="53.90" stroke="#000" stroke-width="1" />
<line x1="408.72" y1="58.90" x2="408.72" y2="53.90" stroke="#000" stroke-width="1" />
<line x1="425.36" y1="58.90" x2="425.36" y2="53.90" stroke="#000" stroke-width="1" />
<line x1="442.00" y1="58.90" x2="442.00" y2="53.90" stroke="#000" stroke-width="1" />
<line x1="358.80" y1="58.90" x2="358.80" y2="46.40" stroke="#000" stroke-width="1" />
<line x1="442.00" y1="58.90" x2="442.00" y2="46.40" stroke="#000" stroke-width="1" />
<text transform="translate(344.60,251.03) scale(1.075,1)" font-size="10.5" text-anchor="end" fill="#000" >−1.0</text>
<text transform="translate(344.60,208.12) scale(1.075,1)" font-size="10.5" text-anchor="end" fill="#000" >−0.5</text>
<text transform="translate(344.60,165.20) scale(1.075,1)" font-size="10.5" text-anchor="end" fill="#000" >0.0</text>
<text transform="translate(344.60,122.28) scale(1.075,1)" font-size="10.5" text-anchor="end" fill="#000" >0.5</text>
<text transform="translate(344.60,79.37) scale(1.075,1)" font-size="10.5" text-anchor="end" fill="#000" >1.0</text>
<text transform="translate(358.80,44.00) scale(1.075,1)" font-size="10.5" text-anchor="middle" fill="#000" >0.0</text>
<text transform="translate(442.00,44.00) scale(1.075,1)" font-size="10.5" text-anchor="middle" fill="#000" >1.0</text>
<text transform="translate(404.00,23.60) scale(1.075,1)" font-size="10.5" text-anchor="middle" fill="#000" ><tspan font-style="italic">I</tspan> (<tspan font-style="italic">k</tspan><tspan font-size="8.4" dy="3.6" font-style="italic">x</tspan><tspan dy="-3.6">&#8203;</tspan>/<tspan font-style="italic">k</tspan><tspan font-size="8.4" dy="3.6">0</tspan><tspan dy="-3.6">&#8203;</tspan>) (a.u.)</text>
<text transform="translate(309.50,161.50) rotate(-90) scale(1.075,1)" font-size="10.5" text-anchor="middle" fill="#000" ><tspan font-style="italic">k</tspan><tspan font-size="8.4" dy="3.6" font-style="italic">y</tspan><tspan dy="-3.6">&#8203;</tspan>/<tspan font-style="italic">k</tspan><tspan font-size="8.4" dy="3.6">0</tspan><tspan dy="-3.6">&#8203;</tspan></text>
<line x1="358.80" y1="80.30" x2="458.60" y2="80.30" stroke="#000" stroke-width="1" stroke-dasharray="1.6 2.2"/>
<line x1="358.80" y1="243.00" x2="458.60" y2="243.00" stroke="#000" stroke-width="1" stroke-dasharray="1.6 2.2"/>
<polyline fill="none" stroke="#1c3fd7" stroke-width="1.25" stroke-linejoin="round" points="359.55,58.50 359.80,58.90 359.56,59.29 359.54,59.69 359.34,60.08 359.59,60.48 360.04,60.88 359.82,61.27 360.03,61.67 359.78,62.07 359.84,62.46 359.78,62.86 359.17,63.25 360.02,63.65 359.91,64.05 359.92,64.44 359.20,64.84 359.19,65.23 359.49,65.63 359.64,66.03 359.91,66.42 359.80,66.82 360.00,67.22 359.62,67.61 359.95,68.01 359.98,68.40 359.64,68.80 360.44,69.20 360.07,69.59 360.29,69.99 359.69,70.38 359.66,70.78 359.81,71.18 359.89,71.57 360.15,71.97 360.03,72.37 359.81,72.76 359.65,73.16 359.80,73.55 360.39,73.95 359.73,74.35 360.09,74.74 360.16,75.14 359.53,75.53 360.05,75.93 360.48,76.33 359.60,76.72 360.48,77.12 360.87,77.52 360.96,77.91 361.72,78.31 361.85,78.70 363.28,79.10 372.14,79.50 382.41,79.89 424.88,80.29 445.30,80.68 441.46,81.08 439.84,81.48 435.19,81.87 439.16,82.27 435.04,82.67 434.48,83.06 431.47,83.46 431.26,83.85 431.39,84.25 434.90,84.65 425.80,85.04 426.25,85.44 429.38,85.83 431.26,86.23 428.22,86.63 421.43,87.02 419.06,87.42 424.88,87.82 421.60,88.21 419.97,88.61 423.95,89.00 423.44,89.40 420.55,89.80 419.97,90.19 419.61,90.59 421.36,90.98 418.46,91.38 417.46,91.78 416.74,92.17 411.48,92.57 416.73,92.97 415.26,93.36 413.59,93.76 407.66,94.15 409.66,94.55 411.88,94.95 405.77,95.34 408.27,95.74 409.88,96.13 404.52,96.53 409.70,96.93 407.10,97.32 405.22,97.72 405.60,98.12 405.70,98.51 404.16,98.91 405.57,99.30 401.63,99.70 401.58,100.10 403.76,100.49 401.35,100.89 399.16,101.28 401.98,101.68 402.39,102.08 398.40,102.47 396.20,102.87 397.91,103.27 397.36,103.66 396.57,104.06 399.03,104.45 394.26,104.85 397.70,105.25 392.81,105.64 393.12,106.04 395.02,106.43 395.33,106.83 394.34,107.23 392.94,107.62 392.08,108.02 391.57,108.42 391.73,108.81 389.98,109.21 390.19,109.60 390.13,110.00 388.69,110.40 389.49,110.79 389.00,111.19 391.11,111.58 388.27,111.98 386.91,112.38 386.83,112.77 387.22,113.17 388.51,113.57 386.37,113.96 387.32,114.36 389.40,114.75 382.40,115.15 384.46,115.55 386.40,115.94 386.46,116.34 386.04,116.73 384.84,117.13 386.33,117.53 385.59,117.92 384.19,118.32 388.50,118.72 385.17,119.11 383.62,119.51 384.12,119.90 383.75,120.30 383.81,120.70 379.64,121.09 382.81,121.49 384.85,121.88 381.43,122.28 382.88,122.68 384.21,123.07 383.88,123.47 384.63,123.87 379.75,124.26 381.55,124.66 381.38,125.05 382.60,125.45 383.10,125.85 377.44,126.24 382.72,126.64 378.87,127.03 381.76,127.43 378.45,127.83 380.66,128.22 381.93,128.62 379.83,129.02 380.13,129.41 380.80,129.81 379.69,130.20 379.18,130.60 381.27,131.00 380.41,131.39 378.34,131.79 382.40,132.18 376.79,132.58 379.47,132.98 377.65,133.37 378.02,133.77 378.62,134.17 377.77,134.56 378.15,134.96 375.01,135.35 374.86,135.75 377.56,136.15 375.24,136.54 374.98,136.94 374.20,137.33 377.69,137.73 376.85,138.13 377.78,138.52 374.51,138.92 375.72,139.32 374.16,139.71 376.66,140.11 377.72,140.50 374.37,140.90 377.59,141.30 376.79,141.69 375.20,142.09 372.77,142.48 377.22,142.88 375.18,143.28 374.47,143.67 375.76,144.07 375.73,144.47 377.13,144.86 373.75,145.26 376.56,145.65 376.99,146.05 376.90,146.45 374.70,146.84 373.91,147.24 376.20,147.63 374.97,148.03 374.94,148.43 376.61,148.82 374.34,149.22 371.63,149.62 374.10,150.01 372.13,150.41 375.60,150.80 374.90,151.20 373.64,151.60 374.39,151.99 375.45,152.39 374.42,152.78 376.01,153.18 374.15,153.58 375.55,153.97 376.10,154.37 376.21,154.77 373.19,155.16 375.18,155.56 371.54,155.95 372.54,156.35 371.35,156.75 375.25,157.14 372.22,157.54 373.76,157.93 373.49,158.33 373.66,158.73 372.89,159.12 373.92,159.52 375.89,159.92 373.59,160.31 374.18,160.71 374.74,161.10 373.15,161.50 371.74,161.90 372.68,162.29 374.82,162.69 371.35,163.08 372.74,163.48 374.86,163.88 374.63,164.27 373.65,164.67 374.73,165.07 373.94,165.46 372.24,165.86 371.78,166.25 373.02,166.65 375.09,167.05 373.19,167.44 372.80,167.84 373.01,168.23 372.06,168.63 373.94,169.03 372.60,169.42 374.65,169.82 371.14,170.22 374.69,170.61 373.46,171.01 371.80,171.40 375.33,171.80 374.06,172.20 371.54,172.59 373.36,172.99 374.93,173.38 373.99,173.78 375.66,174.18 375.66,174.57 375.59,174.97 375.19,175.37 376.56,175.76 375.71,176.16 375.48,176.55 372.17,176.95 376.15,177.35 376.74,177.74 374.65,178.14 374.46,178.53 377.70,178.93 372.84,179.33 375.83,179.72 378.47,180.12 374.06,180.52 376.25,180.91 377.88,181.31 375.26,181.70 376.21,182.10 376.70,182.50 374.33,182.89 375.46,183.29 376.01,183.68 376.77,184.08 375.66,184.48 375.49,184.87 374.43,185.27 375.35,185.67 377.12,186.06 376.24,186.46 375.14,186.85 375.34,187.25 380.27,187.65 378.39,188.04 377.90,188.44 373.67,188.83 378.25,189.23 378.24,189.63 380.08,190.02 378.54,190.42 378.04,190.82 379.04,191.21 375.79,191.61 380.12,192.00 379.32,192.40 378.06,192.80 381.10,193.19 381.97,193.59 377.62,193.98 378.84,194.38 380.38,194.78 380.42,195.17 379.77,195.57 379.13,195.97 383.75,196.36 382.38,196.76 379.35,197.15 379.31,197.55 383.91,197.95 383.06,198.34 384.47,198.74 383.18,199.13 380.90,199.53 382.74,199.93 379.36,200.32 381.62,200.72 382.83,201.12 383.87,201.51 382.20,201.91 383.28,202.30 384.33,202.70 384.40,203.10 384.98,203.49 384.52,203.89 383.90,204.28 385.76,204.68 384.82,205.08 383.66,205.47 384.14,205.87 385.26,206.27 385.27,206.66 385.85,207.06 385.78,207.45 386.23,207.85 385.92,208.25 384.36,208.64 387.13,209.04 388.29,209.43 387.50,209.83 386.70,210.23 387.87,210.62 385.83,211.02 384.54,211.42 387.79,211.81 386.40,212.21 389.21,212.60 386.49,213.00 384.30,213.40 387.35,213.79 392.08,214.19 389.44,214.58 388.35,214.98 389.86,215.38 392.50,215.77 392.99,216.17 392.99,216.57 395.72,216.96 394.94,217.36 394.23,217.75 395.82,218.15 398.18,218.55 397.53,218.94 398.16,219.34 394.99,219.73 397.16,220.13 399.25,220.53 397.94,220.92 400.92,221.32 400.60,221.72 401.70,222.11 400.18,222.51 405.80,222.90 403.93,223.30 401.75,223.70 402.85,224.09 408.10,224.49 403.08,224.88 405.92,225.28 406.66,225.68 405.32,226.07 403.57,226.47 406.72,226.87 407.59,227.26 409.80,227.66 409.90,228.05 409.16,228.45 411.61,228.85 411.75,229.24 411.85,229.64 412.31,230.03 412.46,230.43 415.18,230.83 412.28,231.22 413.94,231.62 416.06,232.02 413.66,232.41 416.64,232.81 413.96,233.20 417.63,233.60 421.17,234.00 421.94,234.39 421.32,234.79 421.69,235.18 419.75,235.58 427.96,235.98 425.72,236.37 428.05,236.77 424.40,237.17 427.01,237.56 424.08,237.96 431.29,238.35 432.65,238.75 426.71,239.15 432.20,239.54 434.87,239.94 429.86,240.33 430.64,240.73 433.52,241.13 435.59,241.52 434.55,241.92 439.24,242.32 440.79,242.71 442.78,243.11 438.79,243.50 397.76,243.90 375.36,244.30 366.44,244.69 361.83,245.09 361.32,245.48 360.99,245.88 361.00,246.28 360.71,246.67 360.55,247.07 359.54,247.47 359.63,247.86 360.02,248.26 359.95,248.65 359.91,249.05 359.98,249.45 359.74,249.84 360.21,250.24 360.09,250.63 359.93,251.03 359.73,251.43 359.88,251.82 359.03,252.22 359.60,252.62 359.93,253.01 359.40,253.41 359.96,253.80 359.93,254.20 359.42,254.60 359.78,254.99 359.75,255.39 360.00,255.78 360.04,256.18 359.81,256.58 359.53,256.97 359.76,257.37 359.78,257.77 360.03,258.16 359.88,258.56 359.53,258.95 359.31,259.35 359.63,259.75 359.49,260.14 359.36,260.54 359.68,260.93 359.55,261.33 359.74,261.73 359.87,262.12 359.55,262.52 360.45,262.92 359.56,263.31 360.02,263.71 359.68,264.10 360.01,264.50"/>
<polyline fill="none" stroke="#1c3fd7" stroke-width="1" stroke-dasharray="4 3" points="359.63,58.50 359.65,60.08 359.69,61.67 359.73,63.25 359.77,64.84 359.80,66.42 359.84,68.01 359.88,69.59 359.92,71.18 359.96,72.76 360.00,74.35 360.04,75.93 360.91,77.52 363.77,79.10 441.48,80.68 437.58,82.27 433.68,83.85 429.78,85.44 425.88,87.02 422.51,88.61 419.43,90.19 416.34,91.78 413.26,93.36 410.18,94.95 407.09,96.53 404.98,98.12 402.88,99.70 400.78,101.28 398.67,102.87 396.57,104.45 394.47,106.04 392.37,107.62 390.26,109.21 388.28,110.79 387.58,112.38 386.89,113.96 386.20,115.55 385.50,117.13 384.81,118.72 384.09,120.30 383.35,121.88 382.62,123.47 381.88,125.05 381.14,126.64 380.41,128.22 379.67,129.81 378.94,131.39 378.20,132.98 377.47,134.56 376.73,136.15 375.99,137.73 375.72,139.32 375.56,140.90 375.39,142.48 375.23,144.07 375.06,145.65 374.90,147.24 374.73,148.82 374.57,150.41 374.40,151.99 374.24,153.58 374.07,155.16 373.90,156.75 373.74,158.33 373.57,159.92 373.41,161.50 373.48,163.08 373.64,164.67 373.81,166.25 373.97,167.84 374.14,169.42 374.30,171.01 374.47,172.59 374.63,174.18 374.80,175.76 374.96,177.35 375.13,178.93 375.29,180.52 375.46,182.10 375.62,183.68 375.79,185.27 376.29,186.85 377.03,188.44 377.76,190.02 378.50,191.61 379.23,193.19 379.97,194.78 380.71,196.36 381.44,197.95 382.18,199.53 382.91,201.12 383.65,202.70 384.38,204.28 385.09,205.87 385.78,207.45 386.48,209.04 387.17,210.62 387.87,212.21 389.01,213.79 391.11,215.38 393.22,216.96 395.32,218.55 397.42,220.13 399.52,221.72 401.63,223.30 403.73,224.88 405.83,226.47 408.34,228.05 411.42,229.64 414.51,231.22 417.59,232.81 420.67,234.39 423.76,235.98 427.45,237.56 431.35,239.15 435.26,240.73 439.16,242.32 397.26,243.90 361.67,245.48 360.39,247.07 360.02,248.65 359.98,250.24 359.94,251.82 359.90,253.41 359.87,254.99 359.83,256.58 359.79,258.16 359.75,259.75 359.71,261.33 359.67,262.92 359.63,264.50"/>
<rect x="358.8" y="58.9" width="99.80000000000001" height="205.20000000000002" fill="none" stroke="#000" stroke-width="1.1"/>
<text transform="translate(449.20,73.00) scale(1.075,1)" font-size="11" text-anchor="end" fill="#1c3fd7" ><tspan font-style="italic">p</tspan>-pol</text>
<text transform="translate(422.30,141.80) scale(1.075,1)" font-size="11" text-anchor="middle" fill="#000" >97% OP</text>
<line x1="397.00" y1="165.20" x2="421.00" y2="165.20" stroke="#1c3fd7" stroke-width="1.1" />
<text transform="translate(425.00,168.60) scale(1.075,1)" font-size="11" text-anchor="start" fill="#000" >Exp.</text>
<line x1="397.00" y1="180.20" x2="421.00" y2="180.20" stroke="#1c3fd7" stroke-width="1.1" stroke-dasharray="5.5 4"/>
<text transform="translate(425.00,183.90) scale(1.075,1)" font-size="11" text-anchor="start" fill="#000" >Calc.</text>
<line x1="438.30" y1="218.80" x2="438.30" y2="226.60" stroke="#1c3fd7" stroke-width="1.3" />
<line x1="441.30" y1="218.80" x2="441.30" y2="226.60" stroke="#1c3fd7" stroke-width="1.3" />
<rect x="473.6" y="278.7" width="204.79999999999995" height="99.80000000000001" fill="#fff" stroke="#000" stroke-width="1"/>
<line x1="473.30" y1="378.50" x2="473.30" y2="384.30" stroke="#000" stroke-width="1.1" />
<line x1="481.88" y1="378.50" x2="481.88" y2="384.30" stroke="#000" stroke-width="1.1" />
<line x1="490.47" y1="378.50" x2="490.47" y2="384.30" stroke="#000" stroke-width="1.1" />
<line x1="499.05" y1="378.50" x2="499.05" y2="384.30" stroke="#000" stroke-width="1.1" />
<line x1="507.63" y1="378.50" x2="507.63" y2="384.30" stroke="#000" stroke-width="1.1" />
<line x1="516.22" y1="378.50" x2="516.22" y2="384.30" stroke="#000" stroke-width="1.1" />
<line x1="524.80" y1="378.50" x2="524.80" y2="384.30" stroke="#000" stroke-width="1.1" />
<line x1="533.38" y1="378.50" x2="533.38" y2="384.30" stroke="#000" stroke-width="1.1" />
<line x1="541.97" y1="378.50" x2="541.97" y2="384.30" stroke="#000" stroke-width="1.1" />
<line x1="550.55" y1="378.50" x2="550.55" y2="384.30" stroke="#000" stroke-width="1.1" />
<line x1="559.13" y1="378.50" x2="559.13" y2="384.30" stroke="#000" stroke-width="1.1" />
<line x1="567.72" y1="378.50" x2="567.72" y2="384.30" stroke="#000" stroke-width="1.1" />
<line x1="576.30" y1="378.50" x2="576.30" y2="384.30" stroke="#000" stroke-width="1.1" />
<line x1="584.88" y1="378.50" x2="584.88" y2="384.30" stroke="#000" stroke-width="1.1" />
<line x1="593.47" y1="378.50" x2="593.47" y2="384.30" stroke="#000" stroke-width="1.1" />
<line x1="602.05" y1="378.50" x2="602.05" y2="384.30" stroke="#000" stroke-width="1.1" />
<line x1="610.63" y1="378.50" x2="610.63" y2="384.30" stroke="#000" stroke-width="1.1" />
<line x1="619.22" y1="378.50" x2="619.22" y2="384.30" stroke="#000" stroke-width="1.1" />
<line x1="627.80" y1="378.50" x2="627.80" y2="384.30" stroke="#000" stroke-width="1.1" />
<line x1="636.38" y1="378.50" x2="636.38" y2="384.30" stroke="#000" stroke-width="1.1" />
<line x1="644.97" y1="378.50" x2="644.97" y2="384.30" stroke="#000" stroke-width="1.1" />
<line x1="653.55" y1="378.50" x2="653.55" y2="384.30" stroke="#000" stroke-width="1.1" />
<line x1="662.13" y1="378.50" x2="662.13" y2="384.30" stroke="#000" stroke-width="1.1" />
<line x1="670.72" y1="378.50" x2="670.72" y2="384.30" stroke="#000" stroke-width="1.1" />
<line x1="679.30" y1="378.50" x2="679.30" y2="384.30" stroke="#000" stroke-width="1.1" />
<line x1="490.47" y1="378.50" x2="490.47" y2="389.50" stroke="#000" stroke-width="1.1" />
<line x1="533.38" y1="378.50" x2="533.38" y2="389.50" stroke="#000" stroke-width="1.1" />
<line x1="576.30" y1="378.50" x2="576.30" y2="389.50" stroke="#000" stroke-width="1.1" />
<line x1="619.22" y1="378.50" x2="619.22" y2="389.50" stroke="#000" stroke-width="1.1" />
<line x1="662.13" y1="378.50" x2="662.13" y2="389.50" stroke="#000" stroke-width="1.1" />
<line x1="473.60" y1="378.50" x2="462.60" y2="378.50" stroke="#000" stroke-width="1" />
<line x1="473.60" y1="361.90" x2="462.60" y2="361.90" stroke="#000" stroke-width="1" />
<line x1="473.60" y1="345.30" x2="462.60" y2="345.30" stroke="#000" stroke-width="1" />
<line x1="473.60" y1="328.70" x2="462.60" y2="328.70" stroke="#000" stroke-width="1" />
<line x1="473.60" y1="312.10" x2="462.60" y2="312.10" stroke="#000" stroke-width="1" />
<line x1="473.60" y1="295.50" x2="462.60" y2="295.50" stroke="#000" stroke-width="1" />
<line x1="473.60" y1="278.90" x2="462.60" y2="278.90" stroke="#000" stroke-width="1" />
<text transform="translate(488.97,403.00) scale(1.075,1)" font-size="10.5" text-anchor="middle" fill="#000" >−1.0</text>
<text transform="translate(531.88,403.00) scale(1.075,1)" font-size="10.5" text-anchor="middle" fill="#000" >−0.5</text>
<text transform="translate(576.30,403.00) scale(1.075,1)" font-size="10.5" text-anchor="middle" fill="#000" >0.0</text>
<text transform="translate(619.22,403.00) scale(1.075,1)" font-size="10.5" text-anchor="middle" fill="#000" >0.5</text>
<text transform="translate(662.13,403.00) scale(1.075,1)" font-size="10.5" text-anchor="middle" fill="#000" >1.0</text>
<text transform="translate(457.20,299.20) scale(1.075,1)" font-size="10.5" text-anchor="end" fill="#000" >1.0</text>
<text transform="translate(457.20,382.20) scale(1.075,1)" font-size="10.5" text-anchor="end" fill="#000" >0.0</text>
<text transform="translate(576.30,419.80) scale(1.075,1)" font-size="10.5" text-anchor="middle" fill="#000" ><tspan font-style="italic">k</tspan><tspan font-size="8.4" dy="3.6" font-style="italic">x</tspan><tspan dy="-3.6">&#8203;</tspan>/<tspan font-style="italic">k</tspan><tspan font-size="8.4" dy="3.6">0</tspan><tspan dy="-3.6">&#8203;</tspan></text>
<text transform="translate(427.30,329.00) rotate(-90) scale(1.075,1)" font-size="10.5" text-anchor="middle" fill="#000" ><tspan font-style="italic">I</tspan> (<tspan font-style="italic">k</tspan><tspan font-size="8.4" dy="3.6" font-style="italic">x</tspan><tspan dy="-3.6">&#8203;</tspan>/<tspan font-style="italic">k</tspan><tspan font-size="8.4" dy="3.6">0</tspan><tspan dy="-3.6">&#8203;</tspan>) (a.u.)</text>
<line x1="494.60" y1="278.70" x2="494.60" y2="378.50" stroke="#000" stroke-width="1" stroke-dasharray="1.6 2.2"/>
<line x1="657.40" y1="278.70" x2="657.40" y2="378.50" stroke="#000" stroke-width="1" stroke-dasharray="1.6 2.2"/>
<polyline fill="none" stroke="#ee1010" stroke-width="1.1" stroke-linejoin="round" points="473.30,378.83 473.70,378.83 474.09,378.38 474.49,378.20 474.88,377.34 475.28,378.34 475.68,377.86 476.07,378.12 476.47,378.03 476.87,378.25 477.26,378.58 477.66,378.25 478.05,378.83 478.45,377.91 478.85,378.83 479.24,378.38 479.64,377.44 480.03,378.61 480.43,378.49 480.83,377.92 481.22,378.49 481.62,378.83 482.02,378.37 482.41,378.21 482.81,378.15 483.20,378.83 483.60,377.63 484.00,377.67 484.39,378.49 484.79,378.37 485.18,378.71 485.58,377.80 485.98,378.83 486.37,378.16 486.77,378.74 487.17,378.83 487.56,378.14 487.96,377.84 488.35,378.51 488.75,378.83 489.15,378.10 489.54,378.52 489.94,378.35 490.33,377.74 490.73,377.91 491.13,378.70 491.52,377.27 491.92,378.37 492.32,377.95 492.71,378.63 493.11,378.30 493.50,378.83 493.90,377.32 494.30,377.49 494.69,375.96 495.09,373.79 495.48,371.74 495.88,368.74 496.28,370.14 496.67,369.52 497.07,369.55 497.47,369.14 497.86,369.88 498.26,368.55 498.65,369.78 499.05,368.20 499.45,367.72 499.84,367.47 500.24,368.07 500.63,368.64 501.03,367.49 501.43,368.03 501.82,365.90 502.22,366.59 502.62,367.38 503.01,367.64 503.41,367.77 503.80,367.91 504.20,367.23 504.60,366.49 504.99,366.17 505.39,366.03 505.78,364.41 506.18,367.10 506.58,366.29 506.97,363.43 507.37,367.97 507.77,366.56 508.16,365.84 508.56,365.83 508.95,365.55 509.35,366.17 509.75,365.54 510.14,365.82 510.54,365.08 510.93,367.70 511.33,366.67 511.73,365.76 512.12,366.76 512.52,366.74 512.92,365.05 513.31,366.29 513.71,364.99 514.10,364.85 514.50,365.26 514.90,365.03 515.29,365.61 515.69,366.88 516.08,365.48 516.48,364.97 516.88,365.92 517.27,365.47 517.67,364.59 518.07,366.18 518.46,364.64 518.86,363.40 519.25,365.78 519.65,365.05 520.05,365.32 520.44,363.61 520.84,364.80 521.23,364.19 521.63,365.74 522.03,365.05 522.42,365.01 522.82,366.74 523.22,363.51 523.61,364.02 524.01,366.63 524.40,364.12 524.80,364.96 525.20,364.36 525.59,364.41 525.99,366.24 526.38,364.93 526.78,363.21 527.18,365.24 527.57,365.65 527.97,365.96 528.37,365.80 528.76,364.22 529.16,362.84 529.55,364.07 529.95,364.22 530.35,362.21 530.74,364.93 531.14,365.05 531.53,363.83 531.93,363.78 532.33,365.31 532.72,365.44 533.12,363.95 533.52,363.98 533.91,365.52 534.31,364.41 534.70,364.74 535.10,363.74 535.50,364.31 535.89,364.27 536.29,364.53 536.68,363.12 537.08,362.78 537.48,364.53 537.87,363.31 538.27,364.90 538.67,364.07 539.06,363.39 539.46,362.62 539.85,364.50 540.25,364.19 540.65,363.92 541.04,365.60 541.44,364.08 541.83,364.77 542.23,363.72 542.63,365.21 543.02,366.04 543.42,364.03 543.82,363.80 544.21,364.60 544.61,363.17 545.00,364.32 545.40,364.64 545.80,363.56 546.19,365.59 546.59,364.69 546.98,364.03 547.38,363.16 547.78,364.16 548.17,363.69 548.57,364.64 548.97,363.68 549.36,362.32 549.76,364.65 550.15,361.61 550.55,364.60 550.95,363.94 551.34,363.77 551.74,362.92 552.13,365.17 552.53,366.02 552.93,363.32 553.32,363.12 553.72,363.29 554.12,361.28 554.51,363.69 554.91,363.64 555.30,362.96 555.70,363.51 556.10,362.22 556.49,365.10 556.89,364.23 557.28,367.29 557.68,363.04 558.08,364.21 558.47,362.92 558.87,361.68 559.27,363.83 559.66,364.07 560.06,364.31 560.45,364.64 560.85,364.43 561.25,363.16 561.64,363.75 562.04,363.71 562.43,363.95 562.83,362.86 563.23,363.27 563.62,363.90 564.02,363.09 564.42,363.90 564.81,364.89 565.21,362.28 565.60,363.26 566.00,364.67 566.40,362.64 566.79,363.36 567.19,365.26 567.58,362.09 567.98,363.36 568.38,362.79 568.77,363.48 569.17,363.82 569.57,365.21 569.96,362.69 570.36,363.62 570.75,363.93 571.15,363.29 571.55,363.56 571.94,362.95 572.34,363.99 572.73,363.65 573.13,365.74 573.53,364.02 573.92,362.92 574.32,362.26 574.72,363.95 575.11,363.70 575.51,362.00 575.90,363.89 576.30,362.83 576.70,361.89 577.09,363.53 577.49,362.36 577.88,364.29 578.28,363.38 578.68,363.67 579.07,363.49 579.47,362.48 579.87,361.23 580.26,364.28 580.66,364.20 581.05,363.14 581.45,364.69 581.85,363.15 582.24,363.08 582.64,363.93 583.03,363.14 583.43,365.21 583.83,362.92 584.22,365.22 584.62,364.38 585.02,364.25 585.41,364.10 585.81,362.85 586.20,363.63 586.60,364.12 587.00,363.18 587.39,362.16 587.79,363.73 588.18,363.38 588.58,362.52 588.98,363.49 589.37,365.04 589.77,361.29 590.17,361.57 590.56,365.76 590.96,363.83 591.35,363.38 591.75,362.84 592.15,363.14 592.54,364.08 592.94,364.87 593.33,363.72 593.73,362.80 594.13,364.92 594.52,364.87 594.92,363.87 595.32,365.78 595.71,364.12 596.11,364.30 596.50,363.42 596.90,364.58 597.30,364.76 597.69,364.28 598.09,363.95 598.48,364.57 598.88,363.90 599.28,363.17 599.67,362.74 600.07,362.23 600.47,364.71 600.86,364.36 601.26,366.42 601.65,362.06 602.05,364.68 602.45,364.00 602.84,363.45 603.24,365.33 603.63,363.52 604.03,364.02 604.43,365.81 604.82,363.71 605.22,362.82 605.62,365.87 606.01,363.22 606.41,363.82 606.80,363.56 607.20,363.60 607.60,362.75 607.99,364.27 608.39,363.19 608.78,364.47 609.18,363.34 609.58,364.89 609.97,364.19 610.37,362.36 610.77,363.65 611.16,364.26 611.56,365.25 611.95,364.90 612.35,363.92 612.75,363.19 613.14,363.71 613.54,363.61 613.93,364.18 614.33,362.80 614.73,364.54 615.12,364.71 615.52,363.28 615.92,364.11 616.31,364.46 616.71,364.76 617.10,364.45 617.50,363.58 617.90,363.85 618.29,365.41 618.69,363.79 619.08,364.04 619.48,365.24 619.88,363.50 620.27,364.58 620.67,364.66 621.07,363.56 621.46,363.07 621.86,365.10 622.25,364.00 622.65,365.34 623.05,362.19 623.44,365.02 623.84,363.36 624.23,365.22 624.63,363.80 625.03,362.43 625.42,367.19 625.82,365.12 626.22,364.22 626.61,364.84 627.01,365.44 627.40,362.66 627.80,364.75 628.20,366.50 628.59,364.04 628.99,366.63 629.38,363.80 629.78,365.55 630.18,364.86 630.57,363.77 630.97,364.94 631.37,366.47 631.76,366.80 632.16,363.96 632.55,364.43 632.95,366.01 633.35,364.37 633.74,364.76 634.14,364.64 634.53,367.56 634.93,365.64 635.33,364.47 635.72,364.66 636.12,364.54 636.52,367.90 636.91,365.31 637.31,365.02 637.70,362.99 638.10,366.51 638.50,365.92 638.89,365.58 639.29,364.76 639.68,366.12 640.08,364.56 640.48,366.52 640.87,365.49 641.27,366.31 641.67,365.66 642.06,366.53 642.46,367.46 642.85,364.81 643.25,365.63 643.65,366.51 644.04,365.78 644.44,365.03 644.83,367.01 645.23,366.22 645.63,365.67 646.02,365.78 646.42,366.74 646.82,368.60 647.21,365.35 647.61,366.36 648.00,366.77 648.40,367.16 648.80,366.71 649.19,367.50 649.59,368.19 649.98,368.00 650.38,367.95 650.78,368.06 651.17,368.70 651.57,367.01 651.97,369.05 652.36,367.18 652.76,368.94 653.15,367.68 653.55,366.76 653.95,368.15 654.34,369.30 654.74,368.75 655.13,368.87 655.53,370.97 655.93,370.07 656.32,369.52 656.72,370.37 657.12,370.05 657.51,371.56 657.91,374.98 658.30,377.72 658.70,377.91 659.10,378.38 659.49,378.28 659.89,378.44 660.28,378.50 660.68,378.46 661.08,378.83 661.47,378.61 661.87,378.49 662.27,378.83 662.66,378.51 663.06,378.24 663.45,378.58 663.85,377.47 664.25,378.83 664.64,378.60 665.04,378.83 665.43,378.01 665.83,377.18 666.23,378.83 666.62,378.44 667.02,378.24 667.42,378.65 667.81,378.23 668.21,378.83 668.60,378.08 669.00,378.31 669.40,378.49 669.79,378.79 670.19,378.18 670.58,378.74 670.98,378.39 671.38,378.75 671.77,378.83 672.17,378.52 672.57,378.40 672.96,378.12 673.36,378.83 673.75,378.52 674.15,378.19 674.55,378.43 674.94,377.88 675.34,377.51 675.73,378.83 676.13,378.83 676.53,378.07 676.92,377.74 677.32,378.04 677.72,378.09 678.11,378.81 678.51,378.83 678.90,378.06 679.30,378.83"/>
<polyline fill="none" stroke="#ee1010" stroke-width="1" stroke-dasharray="4 3" points="495.48,370.13 497.07,369.24 498.65,368.35 500.24,367.84 501.82,367.45 503.41,367.07 504.99,366.69 506.58,366.31 508.16,366.01 509.75,365.90 511.33,365.79 512.92,365.68 514.50,365.56 516.08,365.45 517.67,365.34 519.25,365.23 520.84,365.11 522.42,365.00 524.01,364.89 525.59,364.78 527.18,364.66 528.76,364.55 530.35,364.44 531.93,364.33 533.52,364.22 535.10,364.20 536.68,364.17 538.27,364.15 539.85,364.12 541.44,364.10 543.02,364.07 544.61,364.05 546.19,364.03 547.78,364.00 549.36,363.98 550.95,363.95 552.53,363.93 554.12,363.90 555.70,363.88 557.28,363.85 558.87,363.83 560.45,363.81 562.04,363.78 563.62,363.76 565.21,363.73 566.79,363.71 568.38,363.68 569.96,363.66 571.55,363.63 573.13,363.61 574.72,363.58 576.30,363.56 577.88,363.58 579.47,363.61 581.05,363.63 582.64,363.66 584.22,363.68 585.81,363.71 587.39,363.73 588.98,363.76 590.56,363.78 592.15,363.81 593.73,363.83 595.32,363.85 596.90,363.88 598.48,363.90 600.07,363.93 601.65,363.95 603.24,363.98 604.82,364.00 606.41,364.03 607.99,364.05 609.58,364.07 611.16,364.10 612.75,364.12 614.33,364.15 615.92,364.17 617.50,364.20 619.08,364.22 620.67,364.33 622.25,364.44 623.84,364.55 625.42,364.66 627.01,364.78 628.59,364.89 630.18,365.00 631.76,365.11 633.35,365.23 634.93,365.34 636.52,365.45 638.10,365.56 639.68,365.68 641.27,365.79 642.85,365.90 644.44,366.01 646.02,366.31 647.61,366.69 649.19,367.07 650.78,367.45 652.36,367.84 653.95,368.35 655.53,369.24 657.12,370.13"/>
<rect x="473.6" y="278.7" width="204.79999999999995" height="99.80000000000001" fill="none" stroke="#000" stroke-width="1.1"/>
<text transform="translate(640.30,291.80) scale(1.075,1)" font-size="11" text-anchor="end" fill="#ee1010" ><tspan font-style="italic">s</tspan>-pol</text>
<text transform="translate(570.80,303.60) scale(1.075,1)" font-size="11" text-anchor="middle" fill="#000" >97% OP</text>
<line x1="538.00" y1="326.80" x2="561.50" y2="326.80" stroke="#ee1010" stroke-width="1.1" />
<text transform="translate(566.80,330.60) scale(1.075,1)" font-size="11" text-anchor="start" fill="#000" >Exp.</text>
<line x1="538.00" y1="340.80" x2="561.50" y2="340.80" stroke="#ee1010" stroke-width="1.1" stroke-dasharray="5.5 4"/>
<text transform="translate(566.80,344.60) scale(1.075,1)" font-size="11" text-anchor="start" fill="#000" >Calc.</text>
<line x1="636.30" y1="360.30" x2="646.00" y2="360.30" stroke="#ee1010" stroke-width="1.6" />
<line x1="641.20" y1="351.00" x2="641.20" y2="360.30" stroke="#ee1010" stroke-width="1.6" />
<polygon points="77.90,203.00 199.60,217.40 199.60,230.20 77.90,215.80" fill="#dcdcdc" stroke="#000" stroke-width="0.8" stroke-linejoin="round"/>
<polygon points="199.60,217.40 244.60,177.30 244.60,190.10 199.60,230.20" fill="#d0d0d0" stroke="#000" stroke-width="0.8" stroke-linejoin="round"/>
<polygon points="121.90,161.20 244.60,177.30 199.60,217.40 77.90,203.00" fill="#e6e6e6" stroke="#000" stroke-width="0.8" stroke-linejoin="round"/>
<polygon points="133.10,190.60 173.30,194.90 173.30,198.10 133.10,193.80" fill="#0a6b3a" stroke="#064a28" stroke-width="0.5" />
<polygon points="173.30,194.90 188.40,181.20 188.40,184.40 173.30,198.10" fill="#08592f" stroke="#064a28" stroke-width="0.5" />
<polygon points="148.20,176.90 188.40,181.20 173.30,194.90 133.10,190.60" fill="#10894b" stroke="#064a28" stroke-width="0.5" />
<line x1="197.40" y1="212.60" x2="175.26" y2="210.21" stroke="#000" stroke-width="1.2" /><polygon points="167.80,209.40 176.54,207.63 175.96,213.00" fill="#000" stroke="none" stroke-width="0" />
<line x1="197.40" y1="212.60" x2="210.05" y2="201.54" stroke="#000" stroke-width="1.2" /><polygon points="215.70,196.60 211.08,204.23 207.52,200.16" fill="#000" stroke="none" stroke-width="0" />
<text transform="translate(181.30,205.80) scale(1.075,1)" font-size="10.7" text-anchor="middle" fill="#000" ><tspan font-style="italic">y</tspan></text>
<text transform="translate(204.60,200.60) scale(1.075,1)" font-size="10.7" text-anchor="middle" fill="#000" ><tspan font-style="italic">x</tspan></text>
<circle cx="0" cy="0" r="0.945" transform="matrix(64.4,8.1,-22.6,22.2,160.5,112.6)" fill="none" stroke="#000" stroke-width="1.4" vector-effect="non-scaling-stroke"/>
<line x1="99.64" y1="104.95" x2="221.36" y2="120.25" stroke="#000" stroke-width="0.7" />
<line x1="181.86" y1="91.62" x2="139.14" y2="133.58" stroke="#000" stroke-width="0.7" />
<path d="M160.50 186.70 L160.27 186.65 L159.97 186.59 L159.62 186.52 L159.22 186.44 L158.79 186.34 L158.36 186.24 L157.92 186.13 L157.50 186.00 L157.08 185.86 L156.65 185.71 L156.21 185.54 L155.76 185.37 L155.31 185.19 L154.87 184.99 L154.43 184.80 L154.00 184.60 L153.60 184.41 L153.22 184.22 L152.85 184.03 L152.48 183.83 L152.10 183.62 L151.71 183.38 L151.27 183.11 L150.80 182.80 L150.27 182.45 L149.70 182.06 L149.09 181.65 L148.46 181.21 L147.83 180.75 L147.20 180.27 L146.58 179.79 L146.00 179.30 L145.44 178.80 L144.88 178.29 L144.32 177.76 L143.78 177.23 L143.25 176.68 L142.74 176.12 L142.26 175.56 L141.80 175.00 L141.37 174.43 L140.96 173.86 L140.58 173.28 L140.21 172.69 L139.86 172.10 L139.53 171.51 L139.21 170.90 L138.90 170.30 L138.61 169.69 L138.33 169.08 L138.08 168.46 L137.84 167.84 L137.60 167.21 L137.37 166.58 L137.14 165.94 L136.90 165.30 L136.65 164.65 L136.40 164.00 L136.15 163.34 L135.90 162.68 L135.66 162.02 L135.42 161.35 L135.20 160.67 L135.00 160.00 L134.81 159.32 L134.63 158.63 L134.47 157.93 L134.31 157.23 L134.17 156.53 L134.03 155.84 L133.91 155.16 L133.80 154.50 L133.70 153.85 L133.61 153.20 L133.53 152.57 L133.46 151.94 L133.40 151.32 L133.35 150.70 L133.32 150.10 L133.30 149.50 L133.29 148.91 L133.30 148.33 L133.31 147.75 L133.34 147.19 L133.39 146.63 L133.44 146.08 L133.51 145.54 L133.60 145.00 L133.70 144.47 L133.81 143.95 L133.94 143.44 L134.08 142.94 L134.24 142.44 L134.41 141.95 L134.60 141.47 L134.80 141.00 L135.02 140.53 L135.25 140.07 L135.49 139.62 L135.76 139.17 L136.04 138.73 L136.34 138.31 L136.66 137.90 L137.00 137.50 L137.37 137.12 L137.76 136.75 L138.17 136.38 L138.61 136.04 L139.06 135.70 L139.52 135.39 L140.01 135.08 L140.50 134.80 L141.01 134.53 L141.54 134.28 L142.09 134.05 L142.66 133.83 L143.23 133.63 L143.82 133.44 L144.41 133.26 L145.00 133.10 L145.60 132.95 L146.21 132.83 L146.84 132.72 L147.47 132.62 L148.10 132.53 L148.74 132.45 L149.37 132.37 L150.00 132.30 L150.62 132.23 L151.24 132.16 L151.85 132.11 L152.47 132.06 L153.09 132.01 L153.71 131.97 L154.35 131.93 L155.00 131.90 L155.70 131.87 L156.47 131.85 L157.27 131.84 L158.06 131.83 L158.82 131.82 L159.50 131.81 L160.07 131.81 L160.50 131.80 L161.23 131.81 L161.80 131.81 L162.48 131.82 L163.24 131.83 L164.03 131.84 L164.83 131.85 L165.60 131.87 L166.30 131.90 L166.95 131.93 L167.59 131.97 L168.21 132.01 L168.83 132.06 L169.45 132.11 L170.06 132.16 L170.68 132.23 L171.30 132.30 L171.93 132.37 L172.56 132.45 L173.20 132.53 L173.83 132.62 L174.46 132.72 L175.09 132.83 L175.70 132.95 L176.30 133.10 L176.89 133.26 L177.48 133.44 L178.07 133.63 L178.64 133.83 L179.21 134.05 L179.76 134.28 L180.29 134.53 L180.80 134.80 L181.29 135.08 L181.78 135.39 L182.24 135.70 L182.69 136.04 L183.13 136.38 L183.54 136.75 L183.93 137.12 L184.30 137.50 L184.64 137.90 L184.96 138.31 L185.26 138.73 L185.54 139.17 L185.81 139.62 L186.05 140.07 L186.28 140.53 L186.50 141.00 L186.70 141.47 L186.89 141.95 L187.06 142.44 L187.22 142.94 L187.36 143.44 L187.49 143.95 L187.60 144.47 L187.70 145.00 L187.79 145.54 L187.86 146.08 L187.91 146.63 L187.96 147.19 L187.99 147.75 L188.00 148.33 L188.01 148.91 L188.00 149.50 L187.98 150.10 L187.95 150.70 L187.90 151.32 L187.84 151.94 L187.77 152.57 L187.69 153.20 L187.60 153.85 L187.50 154.50 L187.39 155.16 L187.27 155.84 L187.13 156.53 L186.99 157.23 L186.83 157.93 L186.67 158.63 L186.49 159.32 L186.30 160.00 L186.10 160.67 L185.88 161.35 L185.64 162.02 L185.40 162.68 L185.15 163.34 L184.90 164.00 L184.65 164.65 L184.40 165.30 L184.16 165.94 L183.93 166.58 L183.70 167.21 L183.46 167.84 L183.22 168.46 L182.97 169.08 L182.69 169.69 L182.40 170.30 L182.09 170.90 L181.77 171.51 L181.44 172.10 L181.09 172.69 L180.72 173.28 L180.34 173.86 L179.93 174.43 L179.50 175.00 L179.04 175.56 L178.56 176.12 L178.05 176.68 L177.52 177.23 L176.98 177.76 L176.42 178.29 L175.86 178.80 L175.30 179.30 L174.72 179.79 L174.10 180.27 L173.47 180.75 L172.84 181.21 L172.21 181.65 L171.60 182.06 L171.03 182.45 L170.50 182.80 L170.03 183.11 L169.59 183.38 L169.20 183.62 L168.82 183.83 L168.45 184.03 L168.08 184.22 L167.70 184.41 L167.30 184.60 L166.87 184.80 L166.43 184.99 L165.99 185.19 L165.54 185.37 L165.09 185.54 L164.65 185.71 L164.22 185.86 L163.80 186.00 L163.38 186.13 L162.94 186.24 L162.51 186.34 L162.08 186.44 L161.68 186.52 L161.33 186.59 L161.03 186.65 L160.80 186.70Z" fill="url(#lobe)"/>
<ellipse cx="160.8" cy="141.6" rx="20" ry="7.6" fill="url(#dimple)"/>
<polygon points="118.70,7.60 247.50,23.80 202.30,68.20 73.50,52.00" fill="#3b3b3b" stroke="none" stroke-width="0" />
<g filter="url(#kblur)"><circle cx="0" cy="0" r="0.945" transform="matrix(64.4,8.1,-22.6,22.2,160.5,37.9)" fill="url(#kgrad)"/><circle cx="0" cy="0" r="0.945" transform="matrix(64.4,8.1,-22.6,22.2,160.5,37.9)" fill="url(#kgrad2)"/></g>
<line x1="99.64" y1="30.25" x2="221.36" y2="45.55" stroke="#000" stroke-width="0.8" />
<line x1="181.86" y1="16.92" x2="139.14" y2="58.88" stroke="#000" stroke-width="0.8" />
<line x1="160.50" y1="37.90" x2="160.50" y2="186.20" stroke="#444" stroke-width="0.55" stroke-dasharray="4.5 1.5 1 1.5"/>
<line x1="99.64" y1="30.25" x2="99.64" y2="104.95" stroke="#e8392b" stroke-width="0.75" /><line x1="99.64" y1="104.95" x2="134.94" y2="152.07" stroke="#e8392b" stroke-width="0.75" /><line x1="134.94" y1="152.07" x2="160.50" y2="186.20" stroke="#e8392b" stroke-width="0.6" stroke-dasharray="2 1.4" stroke-opacity="0.85"/>
<line x1="139.14" y1="58.88" x2="139.14" y2="133.58" stroke="#e8392b" stroke-width="0.75" /><line x1="139.14" y1="133.58" x2="148.75" y2="157.26" stroke="#e8392b" stroke-width="0.75" /><line x1="148.75" y1="157.26" x2="160.50" y2="186.20" stroke="#e8392b" stroke-width="0.6" stroke-dasharray="2 1.4" stroke-opacity="0.85"/>
<line x1="181.86" y1="16.92" x2="181.86" y2="91.62" stroke="#e8392b" stroke-width="0.75" /><line x1="181.86" y1="91.62" x2="172.89" y2="131.34" stroke="#e8392b" stroke-width="0.75" /><line x1="172.89" y1="131.34" x2="160.50" y2="186.20" stroke="#e8392b" stroke-width="0.6" stroke-dasharray="2 1.4" stroke-opacity="0.85"/>
<line x1="221.36" y1="45.55" x2="221.36" y2="120.25" stroke="#e8392b" stroke-width="0.75" /><line x1="221.36" y1="120.25" x2="186.06" y2="158.50" stroke="#e8392b" stroke-width="0.75" /><line x1="186.06" y1="158.50" x2="160.50" y2="186.20" stroke="#e8392b" stroke-width="0.6" stroke-dasharray="2 1.4" stroke-opacity="0.85"/>
<line x1="90.80" y1="66.70" x2="230.50" y2="84.10" stroke="#000" stroke-width="2.2" />
<line x1="259.20" y1="51.30" x2="236.96" y2="48.98" stroke="#000" stroke-width="1.2" /><polygon points="229.50,48.20 238.23,46.40 237.67,51.77" fill="#000" stroke="none" stroke-width="0" />
<line x1="259.20" y1="51.30" x2="272.19" y2="39.29" stroke="#000" stroke-width="1.2" /><polygon points="277.70,34.20 273.29,41.95 269.63,37.99" fill="#000" stroke="none" stroke-width="0" />
<text transform="translate(240.00,43.00) scale(1.075,1)" font-size="10.7" text-anchor="start" fill="#000" ><tspan font-style="italic">k</tspan><tspan font-size="7.5" dy="2.6" font-style="italic">y</tspan><tspan dy="-2.6">&#8203;</tspan></text>
<text transform="translate(262.30,30.50) scale(1.075,1)" font-size="10.7" text-anchor="start" fill="#000" ><tspan font-style="italic">k</tspan><tspan font-size="7.5" dy="2.6" font-style="italic">x</tspan><tspan dy="-2.6">&#8203;</tspan></text>
<text transform="translate(50.00,22.10) scale(1.075,1)" font-size="10.7" text-anchor="start" fill="#000" ><tspan font-style="italic">k</tspan>-space</text>
<text transform="translate(50.00,36.00) scale(1.075,1)" font-size="10.7" text-anchor="start" fill="#000" >pattern</text>
<text transform="translate(43.50,112.40) scale(1.075,1)" font-size="10.7" text-anchor="start" fill="#000" >Objective</text>
<text transform="translate(254.50,82.50) scale(1.075,1)" font-size="10.7" text-anchor="middle" fill="#000" >Linear</text>
<text transform="translate(254.50,96.50) scale(1.075,1)" font-size="10.7" text-anchor="middle" fill="#000" >polariser</text>
<text transform="translate(42.20,186.20) scale(1.075,1)" font-size="10.7" text-anchor="start" fill="#000" >Substrate</text>
<text transform="translate(193.00,184.30) scale(1.075,1)" font-size="10.7" text-anchor="start" fill="#000" >Sample</text>
</svg>
</body></html>
